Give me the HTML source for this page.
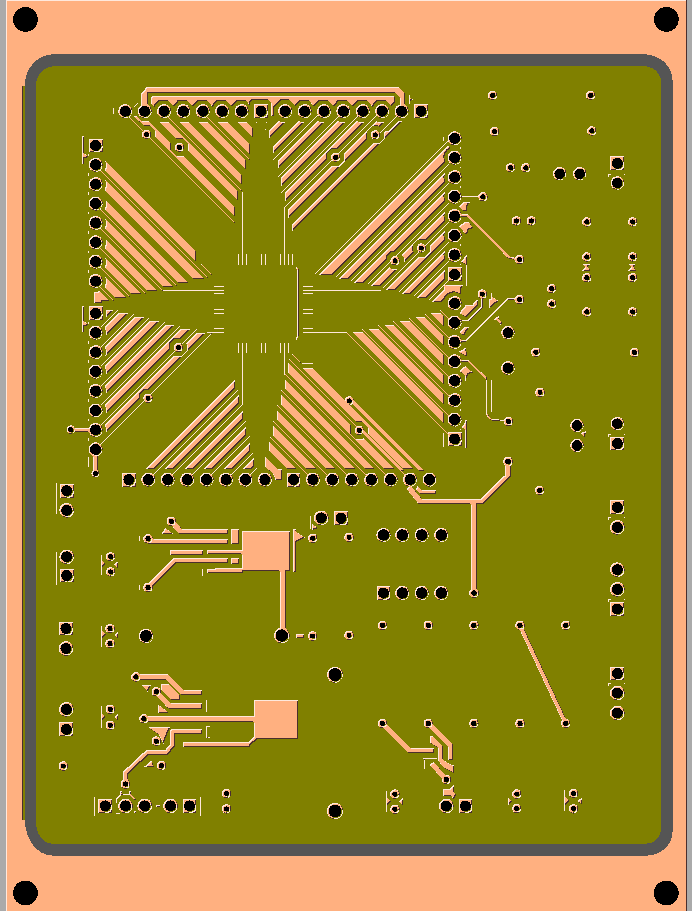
<!DOCTYPE html><html><head><meta charset="utf-8"><style>html,body{margin:0;padding:0;background:#FFB080;font-family:"Liberation Sans",sans-serif}svg{display:block}</style></head><body><svg width="692" height="911" viewBox="0 0 692 911" shape-rendering="crispEdges">
<defs><filter id="emb" x="0" y="0" width="692" height="911" filterUnits="userSpaceOnUse" color-interpolation-filters="sRGB">
<feOffset in="SourceAlpha" dx="1" dy="1" result="o1"/>
<feOffset in="SourceAlpha" dx="-1" dy="-1" result="o2"/>
<feComposite in="SourceAlpha" in2="o1" operator="in" result="ntl"/>
<feComposite in="ntl" in2="o2" operator="in" result="inn"/>
<feFlood flood-color="#FFE8DC" result="f1"/><feComposite in="f1" in2="SourceAlpha" operator="in" result="L"/>
<feFlood flood-color="#4A2E2E" result="f2"/><feComposite in="f2" in2="ntl" operator="in" result="D"/>
<feFlood flood-color="#FFB080" result="f3"/><feComposite in="f3" in2="inn" operator="in" result="S"/>
<feMerge><feMergeNode in="L"/><feMergeNode in="D"/><feMergeNode in="S"/></feMerge>
</filter></defs>
<rect width="692" height="911" fill="#FFB080"/>
<rect x="6" y="0" width="686" height="1" fill="#FFE8DC"/>
<rect x="0" y="0" width="6" height="911" fill="#AAAAAA"/>
<rect x="6" y="0" width="1" height="911" fill="#FFE8DC"/>
<rect x="686" y="0" width="1" height="911" fill="#4A2E2E"/>
<rect x="687" y="0" width="5" height="911" fill="#AAAAAA"/>
<rect x="22" y="85.5" width="1" height="734" fill="#4A2E2E"/>
<rect x="22.8" y="85.5" width="2.4" height="734" fill="#808000"/>
<path d="M53.6,54.2 H643.6 A29,26.3 0 0 1 672.6,80.5 V831.4 A26,24.2 0 0 1 646.6,855.6 H52.6 A27.8,36.4 0 0 1 24.8,819.2 V85.5 A28.8,31.3 0 0 1 53.6,54.2 Z" fill="#555555"/>
<path d="M55.6,66.1 H643.2 A17.7,15.4 0 0 1 660.9,81.5 V829.3 A15.6,14.4 0 0 1 645.3,843.7 H52.6 A16.4,20.4 0 0 1 36.2,823.3 V84.5 A19.4,18.4 0 0 1 55.6,66.1 Z" fill="#808000"/>
<g filter="url(#emb)"><path fill-rule="evenodd" fill="#FFB080" d="M105.30,170.99 196.20,261.89 196.20,251.69 105.30,160.79 105.30,161.08 105.65,162.10 105.91,163.43 106.00,164.79 105.91,166.15 105.65,167.48 105.30,168.50ZM105.30,187.89 105.30,190.38 193.92,279.00 204.12,279.00 105.30,180.18 105.30,180.47 105.65,181.49 105.91,182.82 106.00,184.18 105.91,185.54 105.65,186.87ZM105.65,206.26 105.30,207.28 105.30,209.77 178.53,283.00 188.73,283.00 105.30,199.57 105.30,199.86 105.65,200.88 105.91,202.21 106.00,203.57 105.91,204.93ZM105.91,224.32 105.65,225.65 105.30,226.67 105.30,229.16 163.14,287.00 173.34,287.00 105.30,218.96 105.30,219.25 105.65,220.27 105.91,221.60 106.00,222.96ZM106.00,242.35 105.91,243.71 105.65,245.04 105.30,246.06 105.30,248.55 147.75,291.00 157.95,291.00 105.30,238.35 105.30,238.64 105.65,239.66 105.91,240.99ZM105.91,260.38 106.00,261.74 105.91,263.10 105.65,264.43 105.30,265.45 105.30,267.94 131.76,294.40 141.96,294.40 105.30,257.74 105.30,258.03 105.65,259.05ZM105.65,278.44 105.91,279.77 106.00,281.13 105.91,282.49 105.65,283.82 105.30,284.84 105.30,287.33 115.77,297.80 125.97,297.80 105.30,277.13 105.30,277.42ZM88.84,224.77 89.13,225.64 89.54,226.46 90.05,227.22 90.65,227.91 91.34,228.51 92.10,229.02 92.92,229.43 93.79,229.72 94.69,229.90 95.60,229.96 96.51,229.90 97.41,229.72 98.28,229.43 99.10,229.02 99.86,228.51 100.00,228.39 100.00,228.86 161.54,290.40 162.10,290.40 162.10,291.00 224.00,291.00 224.00,290.00 223.70,290.00 223.70,289.59 214.00,289.59 214.00,290.00 162.14,290.00 100.28,228.14 100.55,227.91 101.15,227.22 101.66,226.46 102.07,225.64 102.36,224.77 102.54,223.87 102.60,222.96 102.54,222.05 102.36,221.15 102.07,220.28 101.66,219.46 101.15,218.70 100.55,218.01 99.86,217.41 99.10,216.90 98.28,216.49 97.41,216.20 96.51,216.02 95.60,215.96 94.69,216.02 93.79,216.20 92.92,216.49 92.10,216.90 91.34,217.41 90.65,218.01 90.05,218.70 89.54,219.46 89.13,220.28 88.84,221.15 88.66,222.05 88.60,222.96 88.66,223.87ZM92.27,226.93 91.90,226.36 91.60,225.75 91.38,225.11 91.24,224.44 91.20,223.76 91.24,223.08 91.38,222.41 91.60,221.77 91.90,221.16 92.27,220.59 92.72,220.08 93.23,219.63 93.80,219.26 94.41,218.96 95.05,218.74 95.72,218.60 96.40,218.56 97.08,218.60 97.75,218.74 98.39,218.96 99.00,219.26 99.57,219.63 100.08,220.08 100.53,220.59 100.90,221.16 101.20,221.77 101.42,222.41 101.56,223.08 101.60,223.76 101.56,224.44 101.42,225.11 101.20,225.75 100.90,226.36 100.53,226.93 100.08,227.44 99.57,227.89 99.00,228.26 98.39,228.56 97.75,228.78 97.08,228.92 96.40,228.96 95.72,228.92 95.05,228.78 94.41,228.56 93.80,228.26 93.23,227.89 92.72,227.44ZM94.10,302.80 101.60,302.80 101.60,300.80 109.70,300.80 99.90,291.00 94.10,292.40ZM155.00,130.78 155.00,136.70 234.50,216.20 234.50,207.00 183.11,155.61 182.92,155.80 175.88,155.80 170.90,150.82 170.90,143.78 171.09,143.59 148.70,121.20 141.80,121.20 136.90,116.30 133.90,116.30 139.60,122.00 140.30,122.00 144.10,125.80 150.02,125.80ZM176.49,138.80 182.92,138.80 187.90,143.78 187.90,150.21 238.40,200.71 238.40,191.51 168.66,121.77 168.18,122.30 159.99,122.30ZM159.87,122.18 158.98,121.20 158.89,121.20ZM242.40,176.12 188.05,121.77 187.57,122.30 179.38,122.30 242.40,185.32ZM178.28,121.20 179.26,122.18 178.37,121.20ZM246.40,169.93 246.40,160.73 207.44,121.77 206.96,122.30 198.77,122.30ZM197.76,121.20 197.67,121.20 198.65,122.18ZM218.16,122.30 249.60,153.74 249.60,144.54 226.83,121.77 226.35,122.30ZM218.04,122.18 217.15,121.20 217.06,121.20ZM245.74,122.30 237.55,122.30 253.40,138.15 253.40,128.95 246.22,121.77ZM236.45,121.20 237.43,122.18 236.54,121.20ZM170.55,113.88 170.84,113.01 171.02,112.11 171.08,111.20 171.02,110.29 170.84,109.39 170.55,108.52 170.14,107.70 169.63,106.94 169.03,106.25 168.34,105.65 167.58,105.14 166.76,104.73 165.89,104.44 164.99,104.26 164.08,104.20 163.17,104.26 162.27,104.44 161.40,104.73 160.58,105.14 159.82,105.65 159.13,106.25 158.53,106.94 158.02,107.70 157.61,108.52 157.32,109.39 157.14,110.29 157.08,111.20 157.14,112.11 157.32,113.01 157.61,113.88 158.02,114.70 158.53,115.46 159.13,116.15 159.82,116.75 160.58,117.26 161.40,117.67 162.27,117.96 163.17,118.14 164.08,118.20 164.99,118.14 165.89,117.96 166.76,117.67 167.58,117.26 167.80,117.12 242.18,191.50 242.00,191.50 242.00,254.00 241.83,254.00 241.83,265.00 242.00,265.00 242.83,265.00 243.00,265.00 243.00,191.50 242.40,191.50 242.40,190.72 168.39,116.71 169.03,116.15 169.63,115.46 170.14,114.70ZM164.88,106.80 165.56,106.84 166.23,106.98 166.87,107.20 167.48,107.50 168.05,107.87 168.56,108.32 169.01,108.83 169.38,109.40 169.68,110.01 169.90,110.65 170.04,111.32 170.08,112.00 170.04,112.68 169.90,113.35 169.68,113.99 169.38,114.60 169.01,115.17 168.56,115.68 168.05,116.13 167.48,116.50 166.87,116.80 166.23,117.02 165.56,117.16 164.88,117.20 164.20,117.16 163.53,117.02 162.89,116.80 162.28,116.50 161.71,116.13 161.20,115.68 160.75,115.17 160.38,114.60 160.08,113.99 159.86,113.35 159.72,112.68 159.68,112.00 159.72,111.32 159.86,110.65 160.08,110.01 160.38,109.40 160.75,108.83 161.20,108.32 161.71,107.87 162.28,107.50 162.89,107.20 163.53,106.98 164.20,106.84ZM153.61,106.05 154.18,107.21 154.18,106.89 159.98,100.50 168.18,100.50 173.77,106.66 179.37,100.50 187.57,100.50 193.16,106.66 198.76,100.50 206.96,100.50 212.56,106.66 218.15,100.50 226.35,100.50 231.94,106.66 237.54,100.50 245.74,100.50 250.40,105.63 250.40,102.60 252.20,100.10 268.80,100.10 271.00,103.00 271.00,115.50 274.40,115.50 274.40,106.74 280.73,100.30 289.67,100.30 295.39,106.12 300.50,100.50 308.70,100.50 314.30,106.66 319.90,100.50 328.10,100.50 333.70,106.66 339.30,100.50 347.50,100.50 353.10,106.66 358.70,100.50 366.90,100.50 372.50,106.66 378.10,100.50 386.30,100.50 391.90,106.66 391.90,106.30 394.50,102.80 394.50,97.00 393.60,96.20 152.80,96.20 151.30,97.50 151.30,103.33 151.97,103.92 152.86,104.93ZM154.03,115.50 154.18,115.50 154.18,115.19ZM139.74,116.15 140.43,116.75 141.19,117.26 142.01,117.67 142.88,117.96 143.78,118.14 144.69,118.20 145.60,118.14 146.50,117.96 147.37,117.67 148.19,117.26 148.95,116.75 149.64,116.15 150.24,115.46 150.75,114.70 151.16,113.88 151.45,113.01 151.63,112.11 151.69,111.20 151.63,110.29 151.45,109.39 151.16,108.52 150.75,107.70 150.24,106.94 149.64,106.25 148.95,105.65 148.19,105.14 147.37,104.73 146.68,104.50 147.50,104.50 147.50,101.30 147.60,101.33 147.60,94.40 149.10,92.50 395.00,92.50 400.20,97.60 400.20,104.36 399.79,104.44 398.92,104.73 398.10,105.14 397.34,105.65 396.65,106.25 396.05,106.94 395.54,107.70 395.13,108.52 394.84,109.39 394.66,110.29 394.60,111.20 394.66,112.11 394.84,113.01 395.13,113.88 395.54,114.70 396.05,115.46 396.65,116.15 396.76,116.24 379.63,133.37 379.55,133.14 379.28,132.60 378.95,132.10 378.55,131.65 378.10,131.25 377.60,130.92 377.06,130.65 376.49,130.46 375.90,130.34 375.30,130.30 374.70,130.34 374.11,130.46 373.54,130.65 373.00,130.92 372.50,131.25 372.05,131.65 371.65,132.10 371.32,132.60 371.05,133.14 370.86,133.71 370.74,134.30 370.70,134.90 370.74,135.50 370.86,136.09 371.05,136.66 371.32,137.20 371.65,137.70 372.05,138.15 372.50,138.55 373.00,138.88 373.54,139.15 374.11,139.34 374.70,139.46 375.30,139.50 375.90,139.46 376.49,139.34 377.06,139.15 377.60,138.88 378.10,138.55 378.55,138.15 378.95,137.70 379.28,137.20 379.55,136.66 379.74,136.09 379.86,135.50 379.90,134.90 379.86,134.30 379.83,134.17 397.29,116.71 397.34,116.75 398.10,117.26 398.92,117.67 399.79,117.96 400.69,118.14 401.60,118.20 402.51,118.14 403.41,117.96 404.28,117.67 405.10,117.26 405.86,116.75 406.55,116.15 407.15,115.46 407.66,114.70 408.07,113.88 408.36,113.01 408.54,112.11 408.60,111.20 408.54,110.29 408.36,109.39 408.07,108.52 407.66,107.70 407.15,106.94 406.55,106.25 405.86,105.65 405.10,105.14 404.28,104.73 403.59,104.50 404.50,104.50 404.50,92.80 398.90,87.10 146.70,87.10 141.10,93.60 141.10,104.50 142.70,104.50 142.01,104.73 141.19,105.14 140.43,105.65 139.74,106.25 139.14,106.94 138.63,107.70 138.22,108.52 137.93,109.39 137.75,110.29 137.69,111.20 137.75,112.11 137.93,113.01 138.22,113.88 138.63,114.70 139.14,115.46ZM378.13,134.86 378.23,135.13 378.28,135.41 378.30,135.70 378.28,135.99 378.23,136.27 378.13,136.54 378.01,136.80 377.85,137.04 377.66,137.26 377.44,137.45 377.20,137.61 376.94,137.73 376.67,137.83 376.39,137.88 376.10,137.90 375.81,137.88 375.53,137.83 375.26,137.73 375.00,137.61 374.76,137.45 374.54,137.26 374.35,137.04 374.19,136.80 374.07,136.54 373.97,136.27 373.92,135.99 373.90,135.70 373.92,135.41 373.97,135.13 374.07,134.86 374.19,134.60 374.35,134.36 374.54,134.14 374.76,133.95 375.00,133.79 375.26,133.67 375.53,133.57 375.81,133.52 376.10,133.50 376.39,133.52 376.67,133.57 376.94,133.67 377.20,133.79 377.44,133.95 377.66,134.14 377.85,134.36 378.01,134.60ZM146.17,106.84 146.84,106.98 147.48,107.20 148.09,107.50 148.66,107.87 149.17,108.32 149.62,108.83 149.99,109.40 150.29,110.01 150.51,110.65 150.65,111.32 150.69,112.00 150.65,112.68 150.51,113.35 150.29,113.99 149.99,114.60 149.62,115.17 149.17,115.68 148.66,116.13 148.09,116.50 147.48,116.80 146.84,117.02 146.17,117.16 145.49,117.20 144.81,117.16 144.14,117.02 143.50,116.80 142.89,116.50 142.32,116.13 141.81,115.68 141.36,115.17 140.99,114.60 140.69,113.99 140.47,113.35 140.33,112.68 140.29,112.00 140.33,111.32 140.47,110.65 140.69,110.01 140.99,109.40 141.36,108.83 141.81,108.32 142.32,107.87 142.89,107.50 143.50,107.20 144.14,106.98 144.81,106.84 145.49,106.80ZM397.24,111.32 397.38,110.65 397.60,110.01 397.90,109.40 398.27,108.83 398.72,108.32 399.23,107.87 399.80,107.50 400.41,107.20 401.05,106.98 401.72,106.84 402.40,106.80 403.08,106.84 403.75,106.98 404.39,107.20 405.00,107.50 405.57,107.87 406.08,108.32 406.53,108.83 406.90,109.40 407.20,110.01 407.42,110.65 407.56,111.32 407.60,112.00 407.56,112.68 407.42,113.35 407.20,113.99 406.90,114.60 406.53,115.17 406.08,115.68 405.57,116.13 405.00,116.50 404.39,116.80 403.75,117.02 403.08,117.16 402.40,117.20 401.72,117.16 401.05,117.02 400.41,116.80 399.80,116.50 399.23,116.13 398.72,115.68 398.27,115.17 397.90,114.60 397.60,113.99 397.38,113.35 397.24,112.68 397.20,112.00ZM269.44,138.16 285.30,122.30 280.73,122.30 279.65,121.20 278.70,121.20 269.44,130.46ZM299.50,121.20 298.10,121.20 273.47,145.83 273.47,153.53 304.70,122.30 300.50,122.30ZM319.90,122.30 318.90,121.20 317.50,121.20 277.50,161.20 277.50,168.90 324.10,122.30ZM345.10,122.30 339.30,122.30 338.30,121.20 337.20,121.20 281.23,177.17 281.23,186.17ZM327.10,153.68 332.08,148.70 338.10,148.70 364.50,122.30 358.70,122.30 357.70,121.20 356.60,121.20 284.86,192.94 284.86,201.94 327.10,159.70ZM343.81,153.39 344.10,153.68 344.10,160.72 339.12,165.70 332.08,165.70 331.79,165.41 288.49,208.71 288.49,217.71 367.29,138.91 366.80,138.42 366.80,131.38 371.78,126.40 378.82,126.40 379.31,126.89 383.90,122.30 378.10,122.30 377.10,121.20 376.00,121.20ZM385.30,131.00 383.80,132.50 383.80,138.42 378.82,143.40 372.90,143.40 292.42,223.88 292.42,231.58 402.80,121.20 398.40,121.20 388.60,131.00ZM318.83,274.97 333.03,274.97 445.57,162.43 445.18,161.64 444.75,160.38 444.49,159.07 444.40,157.74 444.49,156.41 444.75,155.10 445.18,153.84 445.77,152.64 446.51,151.53 447.39,150.53 448.39,149.65 449.50,148.91 449.60,148.86 449.60,147.18 449.50,147.13 448.39,146.39 447.87,145.93ZM444.60,175.28 444.60,172.94 338.64,278.90 348.24,278.90 444.60,182.54 444.60,179.08 444.49,178.51 444.40,177.18 444.49,175.85ZM444.60,194.72 444.60,192.38 354.15,282.83 363.75,282.83 386.50,260.08 386.50,257.18 391.48,252.20 394.38,252.20 444.60,201.98 444.60,198.52 444.49,197.95 444.40,196.62 444.49,195.29ZM401.37,255.05 403.50,257.18 403.50,262.52 413.70,252.32 412.90,251.52 412.90,244.48 417.88,239.50 424.92,239.50 425.72,240.30 444.60,221.42 444.60,217.96 444.49,217.39 444.40,216.06 444.49,214.73 444.60,214.16 444.60,211.82ZM396.82,269.20 391.48,269.20 389.35,267.07 369.96,286.46 379.56,286.46ZM444.40,235.50 444.49,234.17 444.60,233.60 444.60,231.26 429.90,245.96 429.90,251.52 424.92,256.50 419.36,256.50 385.37,290.49 394.97,290.49 444.60,240.86 444.60,237.40 444.49,236.83ZM444.60,256.84 444.49,256.27 444.40,254.94 444.49,253.61 444.60,253.04 444.60,250.70 400.98,294.32 410.58,294.32 444.60,260.30ZM426.29,298.05 444.60,279.74 444.60,270.14 416.69,298.05ZM440.27,313.27 430.67,313.27 444.00,326.60 444.00,317.00ZM424.80,317.20 415.20,317.20 444.00,346.00 444.00,336.40ZM444.00,355.80 409.13,320.93 399.53,320.93 444.00,365.40ZM444.00,384.80 444.00,375.20 393.56,324.76 383.96,324.76ZM368.39,328.59 444.00,404.20 444.00,394.60 377.99,328.59ZM362.42,332.42 352.82,332.42 444.00,423.60 444.00,414.00ZM345.00,332.00 345.00,331.72 313.00,331.72 303.00,331.72 303.00,332.00 302.90,332.00 302.90,333.00 346.30,333.00 447.70,434.40 447.70,445.90 461.50,445.90 461.50,432.10 447.70,432.10 447.70,433.40 347.22,332.92 347.00,332.92 347.00,332.00ZM457.39,435.00 458.00,435.30 458.57,435.67 459.08,436.12 459.53,436.63 459.90,437.20 460.20,437.81 460.42,438.45 460.56,439.12 460.60,439.80 460.56,440.48 460.42,441.15 460.20,441.79 459.90,442.40 459.53,442.97 459.08,443.48 458.57,443.93 458.00,444.30 457.39,444.60 456.75,444.82 456.08,444.96 455.40,445.00 454.72,444.96 454.05,444.82 453.41,444.60 452.80,444.30 452.23,443.93 451.72,443.48 451.27,442.97 450.90,442.40 450.60,441.79 450.38,441.15 450.24,440.48 450.20,439.80 450.24,439.12 450.38,438.45 450.60,437.81 450.90,437.20 451.27,436.63 451.72,436.12 452.23,435.67 452.80,435.30 453.41,435.00 454.05,434.78 454.72,434.64 455.40,434.60 456.08,434.64 456.75,434.78ZM105.30,326.64 105.30,329.03 105.65,330.05 105.91,331.38 106.00,332.74 105.91,334.10 105.65,335.43 105.36,336.28 128.37,313.27 118.67,313.27ZM134.28,317.10 105.30,346.08 105.30,348.47 105.65,349.49 105.91,350.82 106.00,352.18 105.91,353.54 105.65,354.87 105.36,355.72 143.98,317.10ZM159.39,321.13 149.69,321.13 105.30,365.52 105.30,367.91 105.65,368.93 105.91,370.26 106.00,371.62 105.91,372.98 105.65,374.31 105.36,375.16ZM105.36,394.60 174.80,325.16 165.10,325.16 105.30,384.96 105.30,387.35 105.65,388.37 105.91,389.70 106.00,391.06 105.91,392.42 105.65,393.75ZM105.30,404.40 105.30,406.79 105.65,407.81 105.91,409.14 106.00,410.50 105.91,411.86 105.65,413.19 105.36,414.04 169.80,349.60 169.80,343.98 174.78,339.00 180.40,339.00 190.71,328.69 181.01,328.69ZM186.80,343.98 186.80,351.02 181.82,356.00 174.78,356.00 173.96,355.18 105.30,423.84 105.30,426.23 105.65,427.25 105.91,428.58 106.00,429.94 105.91,431.30 105.65,432.63 105.36,433.48 139.50,399.34 139.50,394.78 144.48,389.80 149.04,389.80 206.12,332.72 196.42,332.72 185.98,343.16ZM106.40,309.50 106.40,316.70 114.00,309.50ZM234.57,379.96 145.53,469.00 154.33,469.00 234.57,388.76ZM238.70,404.06 238.70,395.26 164.96,469.00 173.76,469.00ZM193.19,469.00 242.53,419.66 242.53,410.86 184.39,469.00ZM203.82,469.00 212.62,469.00 246.26,435.36 246.26,426.56ZM249.59,442.66 223.25,469.00 232.05,469.00 249.59,451.46ZM253.52,466.96 253.52,458.16 242.68,469.00 251.48,469.00ZM163.50,485.15 164.26,485.66 165.08,486.07 165.95,486.36 166.85,486.54 167.76,486.60 168.67,486.54 169.57,486.36 170.44,486.07 171.26,485.66 172.02,485.15 172.71,484.55 173.31,483.86 173.82,483.10 174.23,482.28 174.52,481.41 174.70,480.51 174.76,479.60 174.70,478.69 174.52,477.79 174.23,476.92 173.82,476.10 173.31,475.34 172.94,474.92 242.50,405.36 242.50,405.00 243.00,405.00 243.00,343.00 242.83,343.00 242.00,343.00 241.83,343.00 241.83,352.50 242.00,352.50 242.00,404.86 172.44,474.42 172.02,474.05 171.26,473.54 170.44,473.13 169.57,472.84 168.67,472.66 167.76,472.60 166.85,472.66 165.95,472.84 165.08,473.13 164.26,473.54 163.50,474.05 162.81,474.65 162.21,475.34 161.70,476.10 161.29,476.92 161.00,477.79 160.82,478.69 160.76,479.60 160.82,480.51 161.00,481.41 161.29,482.28 161.70,483.10 162.21,483.86 162.81,484.55ZM169.24,475.24 169.91,475.38 170.55,475.60 171.16,475.90 171.73,476.27 172.24,476.72 172.69,477.23 173.06,477.80 173.36,478.41 173.58,479.05 173.72,479.72 173.76,480.40 173.72,481.08 173.58,481.75 173.36,482.39 173.06,483.00 172.69,483.57 172.24,484.08 171.73,484.53 171.16,484.90 170.55,485.20 169.91,485.42 169.24,485.56 168.56,485.60 167.88,485.56 167.21,485.42 166.57,485.20 165.96,484.90 165.39,484.53 164.88,484.08 164.43,483.57 164.06,483.00 163.76,482.39 163.54,481.75 163.40,481.08 163.36,480.40 163.40,479.72 163.54,479.05 163.76,478.41 164.06,477.80 164.43,477.23 164.88,476.72 165.39,476.27 165.96,475.90 166.57,475.60 167.21,475.38 167.88,475.24 168.56,475.20ZM269.24,441.34 269.24,450.94 287.30,469.00 296.90,469.00ZM316.33,469.00 273.07,425.74 273.07,435.34 306.73,469.00ZM326.16,469.00 335.76,469.00 276.90,410.14 276.90,419.74ZM280.73,404.14 345.59,469.00 355.19,469.00 280.73,394.54ZM284.56,378.94 284.56,388.54 365.02,469.00 374.62,469.00ZM288.39,372.94 384.45,469.00 394.05,469.00 363.29,438.24 362.72,438.80 355.68,438.80 350.70,433.82 350.70,426.78 351.26,426.21 288.39,363.34ZM345.65,398.10 345.32,398.60 345.05,399.14 344.86,399.71 344.75,400.27 311.98,367.50 302.38,367.50 356.68,421.80 362.72,421.80 367.70,426.78 367.70,432.82 403.88,469.00 413.48,469.00 349.93,405.45 350.49,405.34 351.06,405.15 351.60,404.88 352.10,404.55 352.55,404.15 352.60,404.10 419.50,471.00 424.20,471.00 353.89,400.69 353.86,400.30 353.74,399.71 353.55,399.14 353.28,398.60 352.95,398.10 352.55,397.65 352.10,397.25 351.60,396.92 351.06,396.65 350.49,396.46 349.90,396.34 349.51,396.31 349.00,395.80 349.00,396.32 348.70,396.34 348.11,396.46 347.54,396.65 347.00,396.92 346.50,397.25 346.05,397.65ZM350.94,399.67 351.20,399.79 351.44,399.95 351.66,400.14 351.85,400.36 352.01,400.60 352.13,400.86 352.23,401.13 352.28,401.41 352.30,401.70 352.28,401.99 352.23,402.27 352.13,402.54 352.01,402.80 351.85,403.04 351.66,403.26 351.44,403.45 351.20,403.61 350.94,403.73 350.67,403.83 350.39,403.88 350.10,403.90 349.81,403.88 349.53,403.83 349.26,403.73 349.00,403.61 348.76,403.45 348.54,403.26 348.35,403.04 348.19,402.80 348.07,402.54 347.97,402.27 347.92,401.99 347.90,401.70 347.92,401.41 347.97,401.13 348.07,400.86 348.19,400.60 348.35,400.36 348.54,400.14 348.76,399.95 349.00,399.79 349.26,399.67 349.53,399.57 349.81,399.52 350.10,399.50 350.39,399.52 350.67,399.57ZM385.10,483.86 385.70,484.55 386.39,485.15 387.15,485.66 387.97,486.07 388.84,486.36 389.74,486.54 390.65,486.60 391.56,486.54 392.46,486.36 393.33,486.07 394.15,485.66 394.91,485.15 395.60,484.55 396.20,483.86 396.71,483.10 397.12,482.28 397.41,481.41 397.59,480.51 397.65,479.60 397.59,478.69 397.41,477.79 397.12,476.92 396.71,476.10 396.20,475.34 395.60,474.65 394.91,474.05 394.15,473.54 393.33,473.13 392.46,472.84 391.56,472.66 390.65,472.60 389.74,472.66 388.84,472.84 387.97,473.13 387.15,473.54 386.39,474.05 385.70,474.65 285.00,373.95 285.00,343.00 284.96,343.00 284.00,343.00 283.96,343.00 283.96,352.50 284.00,352.50 284.00,374.70 284.86,374.70 284.86,374.81 385.23,475.18 385.10,475.34 384.59,476.10 384.18,476.92 383.89,477.79 383.71,478.69 383.65,479.60 383.71,480.51 383.89,481.41 384.18,482.28 384.59,483.10ZM386.65,478.41 386.95,477.80 387.32,477.23 387.77,476.72 388.28,476.27 388.85,475.90 389.46,475.60 390.10,475.38 390.77,475.24 391.45,475.20 392.13,475.24 392.80,475.38 393.44,475.60 394.05,475.90 394.62,476.27 395.13,476.72 395.58,477.23 395.95,477.80 396.25,478.41 396.47,479.05 396.61,479.72 396.65,480.40 396.61,481.08 396.47,481.75 396.25,482.39 395.95,483.00 395.58,483.57 395.13,484.08 394.62,484.53 394.05,484.90 393.44,485.20 392.80,485.42 392.13,485.56 391.45,485.60 390.77,485.56 390.10,485.42 389.46,485.20 388.85,484.90 388.28,484.53 387.77,484.08 387.32,483.57 386.95,483.00 386.65,482.39 386.43,481.75 386.29,481.08 386.25,480.40 386.29,479.72 386.43,479.05ZM282.20,480.00 282.20,474.00 282.20,469.00 277.20,469.00 265.00,456.80 265.00,466.50 268.98,470.48 269.91,470.94 271.00,471.67 271.98,472.53 272.84,473.51 273.57,474.60 274.15,475.77 274.57,477.01 274.82,478.29 274.91,479.60 274.88,480.00 278.50,480.00ZM302.00,364.00 313.00,364.00 313.00,363.00 302.00,363.00ZM257.40,122.00 256.40,122.00 256.40,123.00 257.40,123.00ZM266.50,123.00 266.50,122.00 265.50,122.00 265.50,123.00ZM265.10,129.80 266.10,129.80 266.10,128.80 265.10,128.80ZM410.20,101.50 412.50,99.50 410.20,97.50 410.20,95.00 409.30,95.00 409.30,104.10 410.20,104.10ZM90.65,169.74 91.34,170.34 92.10,170.85 92.92,171.26 93.79,171.55 94.69,171.73 95.60,171.79 96.51,171.73 97.41,171.55 98.28,171.26 99.10,170.85 99.86,170.34 100.00,170.22 100.00,170.69 207.71,278.40 208.60,278.40 208.60,278.29 100.28,169.97 100.55,169.74 101.15,169.05 101.66,168.29 102.07,167.47 102.36,166.60 102.54,165.70 102.60,164.79 102.54,163.88 102.36,162.98 102.07,162.11 101.66,161.29 101.15,160.53 100.55,159.84 99.86,159.24 99.10,158.73 98.28,158.32 97.41,158.03 96.51,157.85 95.60,157.79 94.69,157.85 93.79,158.03 92.92,158.32 92.10,158.73 91.34,159.24 90.65,159.84 90.05,160.53 89.54,161.29 89.13,162.11 88.84,162.98 88.66,163.88 88.60,164.79 88.66,165.70 88.84,166.60 89.13,167.47 89.54,168.29 90.05,169.05ZM91.38,166.94 91.24,166.27 91.20,165.59 91.24,164.91 91.38,164.24 91.60,163.60 91.90,162.99 92.27,162.42 92.72,161.91 93.23,161.46 93.80,161.09 94.41,160.79 95.05,160.57 95.72,160.43 96.40,160.39 97.08,160.43 97.75,160.57 98.39,160.79 99.00,161.09 99.57,161.46 100.08,161.91 100.53,162.42 100.90,162.99 101.20,163.60 101.42,164.24 101.56,164.91 101.60,165.59 101.56,166.27 101.42,166.94 101.20,167.58 100.90,168.19 100.53,168.76 100.08,169.27 99.57,169.72 99.00,170.09 98.39,170.39 97.75,170.61 97.08,170.75 96.40,170.79 95.72,170.75 95.05,170.61 94.41,170.39 93.80,170.09 93.23,169.72 92.72,169.27 92.27,168.76 91.90,168.19 91.60,167.58ZM96.51,210.51 97.41,210.33 98.28,210.04 99.10,209.63 99.86,209.12 100.00,209.00 100.00,209.47 176.93,286.40 177.93,286.40 100.28,208.75 100.55,208.52 101.15,207.83 101.66,207.07 102.07,206.25 102.36,205.38 102.54,204.48 102.60,203.57 102.54,202.66 102.36,201.76 102.07,200.89 101.66,200.07 101.15,199.31 100.55,198.62 99.86,198.02 99.10,197.51 98.28,197.10 97.41,196.81 96.51,196.63 95.60,196.57 94.69,196.63 93.79,196.81 92.92,197.10 92.10,197.51 91.34,198.02 90.65,198.62 90.05,199.31 89.54,200.07 89.13,200.89 88.84,201.76 88.66,202.66 88.60,203.57 88.66,204.48 88.84,205.38 89.13,206.25 89.54,207.07 90.05,207.83 90.65,208.52 91.34,209.12 92.10,209.63 92.92,210.04 93.79,210.33 94.69,210.51 95.60,210.57ZM91.90,206.97 91.60,206.36 91.38,205.72 91.24,205.05 91.20,204.37 91.24,203.69 91.38,203.02 91.60,202.38 91.90,201.77 92.27,201.20 92.72,200.69 93.23,200.24 93.80,199.87 94.41,199.57 95.05,199.35 95.72,199.21 96.40,199.17 97.08,199.21 97.75,199.35 98.39,199.57 99.00,199.87 99.57,200.24 100.08,200.69 100.53,201.20 100.90,201.77 101.20,202.38 101.42,203.02 101.56,203.69 101.60,204.37 101.56,205.05 101.42,205.72 101.20,206.36 100.90,206.97 100.53,207.54 100.08,208.05 99.57,208.50 99.00,208.87 98.39,209.17 97.75,209.39 97.08,209.53 96.40,209.57 95.72,209.53 95.05,209.39 94.41,209.17 93.80,208.87 93.23,208.50 92.72,208.05 92.27,207.54ZM94.69,249.29 95.60,249.35 96.51,249.29 97.41,249.11 98.28,248.82 99.10,248.41 99.86,247.90 100.00,247.78 100.00,248.25 145.55,293.80 146.55,293.80 100.28,247.53 100.55,247.30 101.15,246.61 101.66,245.85 102.07,245.03 102.36,244.16 102.54,243.26 102.60,242.35 102.54,241.44 102.36,240.54 102.07,239.67 101.66,238.85 101.15,238.09 100.55,237.40 99.86,236.80 99.10,236.29 98.28,235.88 97.41,235.59 96.51,235.41 95.60,235.35 94.69,235.41 93.79,235.59 92.92,235.88 92.10,236.29 91.34,236.80 90.65,237.40 90.05,238.09 89.54,238.85 89.13,239.67 88.84,240.54 88.66,241.44 88.60,242.35 88.66,243.26 88.84,244.16 89.13,245.03 89.54,245.85 90.05,246.61 90.65,247.30 91.34,247.90 92.10,248.41 92.92,248.82 93.79,249.11ZM92.72,246.83 92.27,246.32 91.90,245.75 91.60,245.14 91.38,244.50 91.24,243.83 91.20,243.15 91.24,242.47 91.38,241.80 91.60,241.16 91.90,240.55 92.27,239.98 92.72,239.47 93.23,239.02 93.80,238.65 94.41,238.35 95.05,238.13 95.72,237.99 96.40,237.95 97.08,237.99 97.75,238.13 98.39,238.35 99.00,238.65 99.57,239.02 100.08,239.47 100.53,239.98 100.90,240.55 101.20,241.16 101.42,241.80 101.56,242.47 101.60,243.15 101.56,243.83 101.42,244.50 101.20,245.14 100.90,245.75 100.53,246.32 100.08,246.83 99.57,247.28 99.00,247.65 98.39,247.95 97.75,248.17 97.08,248.31 96.40,248.35 95.72,248.31 95.05,248.17 94.41,247.95 93.80,247.65 93.23,247.28ZM93.79,268.50 94.69,268.68 95.60,268.74 96.51,268.68 97.41,268.50 98.28,268.21 99.10,267.80 99.86,267.29 100.00,267.17 100.00,267.64 129.56,297.20 130.56,297.20 100.28,266.92 100.55,266.69 101.15,266.00 101.66,265.24 102.07,264.42 102.36,263.55 102.54,262.65 102.60,261.74 102.54,260.83 102.36,259.93 102.07,259.06 101.66,258.24 101.15,257.48 100.55,256.79 99.86,256.19 99.10,255.68 98.28,255.27 97.41,254.98 96.51,254.80 95.60,254.74 94.69,254.80 93.79,254.98 92.92,255.27 92.10,255.68 91.34,256.19 90.65,256.79 90.05,257.48 89.54,258.24 89.13,259.06 88.84,259.93 88.66,260.83 88.60,261.74 88.66,262.65 88.84,263.55 89.13,264.42 89.54,265.24 90.05,266.00 90.65,266.69 91.34,267.29 92.10,267.80 92.92,268.21ZM93.23,266.67 92.72,266.22 92.27,265.71 91.90,265.14 91.60,264.53 91.38,263.89 91.24,263.22 91.20,262.54 91.24,261.86 91.38,261.19 91.60,260.55 91.90,259.94 92.27,259.37 92.72,258.86 93.23,258.41 93.80,258.04 94.41,257.74 95.05,257.52 95.72,257.38 96.40,257.34 97.08,257.38 97.75,257.52 98.39,257.74 99.00,258.04 99.57,258.41 100.08,258.86 100.53,259.37 100.90,259.94 101.20,260.55 101.42,261.19 101.56,261.86 101.60,262.54 101.56,263.22 101.42,263.89 101.20,264.53 100.90,265.14 100.53,265.71 100.08,266.22 99.57,266.67 99.00,267.04 98.39,267.34 97.75,267.56 97.08,267.70 96.40,267.74 95.72,267.70 95.05,267.56 94.41,267.34 93.80,267.04ZM92.92,287.60 93.79,287.89 94.69,288.07 95.60,288.13 96.51,288.07 97.41,287.89 98.28,287.60 99.10,287.19 99.86,286.68 100.00,286.56 100.00,287.03 113.97,301.00 114.97,301.00 100.28,286.31 100.55,286.08 101.15,285.39 101.66,284.63 102.07,283.81 102.36,282.94 102.54,282.04 102.60,281.13 102.54,280.22 102.36,279.32 102.07,278.45 101.66,277.63 101.15,276.87 100.55,276.18 99.86,275.58 99.10,275.07 98.28,274.66 97.41,274.37 96.51,274.19 95.60,274.13 94.69,274.19 93.79,274.37 92.92,274.66 92.10,275.07 91.34,275.58 90.65,276.18 90.05,276.87 89.54,277.63 89.13,278.45 88.84,279.32 88.66,280.22 88.60,281.13 88.66,282.04 88.84,282.94 89.13,283.81 89.54,284.63 90.05,285.39 90.65,286.08 91.34,286.68 92.10,287.19ZM93.80,286.43 93.23,286.06 92.72,285.61 92.27,285.10 91.90,284.53 91.60,283.92 91.38,283.28 91.24,282.61 91.20,281.93 91.24,281.25 91.38,280.58 91.60,279.94 91.90,279.33 92.27,278.76 92.72,278.25 93.23,277.80 93.80,277.43 94.41,277.13 95.05,276.91 95.72,276.77 96.40,276.73 97.08,276.77 97.75,276.91 98.39,277.13 99.00,277.43 99.57,277.80 100.08,278.25 100.53,278.76 100.90,279.33 101.20,279.94 101.42,280.58 101.56,281.25 101.60,281.93 101.56,282.61 101.42,283.28 101.20,283.92 100.90,284.53 100.53,285.10 100.08,285.61 99.57,286.06 99.00,286.43 98.39,286.73 97.75,286.95 97.08,287.09 96.40,287.13 95.72,287.09 95.05,286.95 94.41,286.73ZM211.50,273.80 201.40,263.70 201.40,264.70 211.50,274.80ZM127.98,117.67 128.80,117.26 129.02,117.12 143.11,131.21 142.85,131.50 142.52,132.00 142.25,132.54 142.06,133.11 141.94,133.70 141.90,134.30 141.94,134.90 142.06,135.49 142.25,136.06 142.52,136.60 142.85,137.10 143.25,137.55 143.70,137.95 144.20,138.28 144.74,138.55 145.31,138.74 145.90,138.86 146.50,138.90 147.10,138.86 147.69,138.74 148.26,138.55 148.80,138.28 149.30,137.95 149.59,137.69 234.60,222.70 234.60,221.70 150.08,137.18 150.15,137.10 150.48,136.60 150.75,136.06 150.94,135.49 151.06,134.90 151.10,134.30 151.06,133.70 150.94,133.11 150.75,132.54 150.48,132.00 150.15,131.50 149.75,131.05 149.30,130.65 148.80,130.32 148.26,130.05 147.69,129.86 147.10,129.74 146.50,129.70 145.90,129.74 145.31,129.86 144.74,130.05 144.20,130.32 143.70,130.65 143.62,130.72 129.61,116.71 130.25,116.15 130.85,115.46 131.36,114.70 131.77,113.88 132.06,113.01 132.24,112.11 132.30,111.20 132.24,110.29 132.06,109.39 131.77,108.52 131.36,107.70 130.85,106.94 130.25,106.25 129.56,105.65 128.80,105.14 127.98,104.73 127.11,104.44 126.21,104.26 125.30,104.20 124.39,104.26 123.49,104.44 122.62,104.73 121.80,105.14 121.04,105.65 120.35,106.25 119.75,106.94 119.24,107.70 118.83,108.52 118.54,109.39 118.36,110.29 118.30,111.20 118.36,112.11 118.54,113.01 118.83,113.88 119.24,114.70 119.75,115.46 120.35,116.15 121.04,116.75 121.80,117.26 122.62,117.67 123.49,117.96 124.39,118.14 125.30,118.20 126.21,118.14 127.11,117.96ZM149.50,135.10 149.48,135.39 149.43,135.67 149.33,135.94 149.21,136.20 149.05,136.44 148.86,136.66 148.64,136.85 148.40,137.01 148.14,137.13 147.87,137.23 147.59,137.28 147.30,137.30 147.01,137.28 146.73,137.23 146.46,137.13 146.20,137.01 145.96,136.85 145.74,136.66 145.55,136.44 145.39,136.20 145.27,135.94 145.17,135.67 145.12,135.39 145.10,135.10 145.12,134.81 145.17,134.53 145.27,134.26 145.39,134.00 145.55,133.76 145.74,133.54 145.96,133.35 146.20,133.19 146.46,133.07 146.73,132.97 147.01,132.92 147.30,132.90 147.59,132.92 147.87,132.97 148.14,133.07 148.40,133.19 148.64,133.35 148.86,133.54 149.05,133.76 149.21,134.00 149.33,134.26 149.43,134.53 149.48,134.81ZM127.45,106.98 128.09,107.20 128.70,107.50 129.27,107.87 129.78,108.32 130.23,108.83 130.60,109.40 130.90,110.01 131.12,110.65 131.26,111.32 131.30,112.00 131.26,112.68 131.12,113.35 130.90,113.99 130.60,114.60 130.23,115.17 129.78,115.68 129.27,116.13 128.70,116.50 128.09,116.80 127.45,117.02 126.78,117.16 126.10,117.20 125.42,117.16 124.75,117.02 124.11,116.80 123.50,116.50 122.93,116.13 122.42,115.68 121.97,115.17 121.60,114.60 121.30,113.99 121.08,113.35 120.94,112.68 120.90,112.00 120.94,111.32 121.08,110.65 121.30,110.01 121.60,109.40 121.97,108.83 122.42,108.32 122.93,107.87 123.50,107.50 124.11,107.20 124.75,106.98 125.42,106.84 126.10,106.80 126.78,106.84ZM197.91,106.25 197.31,106.94 196.80,107.70 196.39,108.52 196.10,109.39 195.92,110.29 195.86,111.20 195.92,112.11 196.10,113.01 196.39,113.88 196.80,114.70 197.31,115.46 197.91,116.15 198.60,116.75 199.36,117.26 200.18,117.67 201.05,117.96 201.95,118.14 202.86,118.20 203.77,118.14 204.67,117.96 205.54,117.67 206.36,117.26 206.58,117.12 249.60,160.14 249.60,159.14 207.17,116.71 207.81,116.15 208.41,115.46 208.92,114.70 209.33,113.88 209.62,113.01 209.80,112.11 209.86,111.20 209.80,110.29 209.62,109.39 209.33,108.52 208.92,107.70 208.41,106.94 207.81,106.25 207.12,105.65 206.36,105.14 205.54,104.73 204.67,104.44 203.77,104.26 202.86,104.20 201.95,104.26 201.05,104.44 200.18,104.73 199.36,105.14 198.60,105.65ZM202.31,106.98 202.98,106.84 203.66,106.80 204.34,106.84 205.01,106.98 205.65,107.20 206.26,107.50 206.83,107.87 207.34,108.32 207.79,108.83 208.16,109.40 208.46,110.01 208.68,110.65 208.82,111.32 208.86,112.00 208.82,112.68 208.68,113.35 208.46,113.99 208.16,114.60 207.79,115.17 207.34,115.68 206.83,116.13 206.26,116.50 205.65,116.80 205.01,117.02 204.34,117.16 203.66,117.20 202.98,117.16 202.31,117.02 201.67,116.80 201.06,116.50 200.49,116.13 199.98,115.68 199.53,115.17 199.16,114.60 198.86,113.99 198.64,113.35 198.50,112.68 198.46,112.00 198.50,111.32 198.64,110.65 198.86,110.01 199.16,109.40 199.53,108.83 199.98,108.32 200.49,107.87 201.06,107.50 201.67,107.20ZM325.81,117.96 326.68,117.67 327.50,117.26 328.26,116.75 328.95,116.15 329.55,115.46 330.06,114.70 330.47,113.88 330.76,113.01 330.94,112.11 331.00,111.20 330.94,110.29 330.76,109.39 330.47,108.52 330.06,107.70 329.55,106.94 328.95,106.25 328.26,105.65 327.50,105.14 326.68,104.73 325.81,104.44 324.91,104.26 324.00,104.20 323.09,104.26 322.19,104.44 321.32,104.73 320.50,105.14 319.74,105.65 319.05,106.25 318.45,106.94 317.94,107.70 317.53,108.52 317.24,109.39 317.06,110.29 317.00,111.20 317.06,112.11 317.24,113.01 317.53,113.88 317.94,114.70 318.00,114.80 273.47,159.33 273.47,160.33 318.40,115.40 318.45,115.46 319.05,116.15 319.74,116.75 320.50,117.26 321.32,117.67 322.19,117.96 323.09,118.14 324.00,118.20 324.91,118.14ZM320.67,108.83 321.12,108.32 321.63,107.87 322.20,107.50 322.81,107.20 323.45,106.98 324.12,106.84 324.80,106.80 325.48,106.84 326.15,106.98 326.79,107.20 327.40,107.50 327.97,107.87 328.48,108.32 328.93,108.83 329.30,109.40 329.60,110.01 329.82,110.65 329.96,111.32 330.00,112.00 329.96,112.68 329.82,113.35 329.60,113.99 329.30,114.60 328.93,115.17 328.48,115.68 327.97,116.13 327.40,116.50 326.79,116.80 326.15,117.02 325.48,117.16 324.80,117.20 324.12,117.16 323.45,117.02 322.81,116.80 322.20,116.50 321.63,116.13 321.12,115.68 320.67,115.17 320.30,114.60 320.00,113.99 319.78,113.35 319.64,112.68 319.60,112.00 319.64,111.32 319.78,110.65 320.00,110.01 320.30,109.40ZM350.40,111.20 350.34,110.29 350.16,109.39 349.87,108.52 349.46,107.70 348.95,106.94 348.35,106.25 347.66,105.65 346.90,105.14 346.08,104.73 345.21,104.44 344.31,104.26 343.40,104.20 342.49,104.26 341.59,104.44 340.72,104.73 339.90,105.14 339.14,105.65 338.45,106.25 337.85,106.94 337.34,107.70 336.93,108.52 336.64,109.39 336.46,110.29 336.40,111.20 336.46,112.11 336.64,113.01 336.93,113.88 337.34,114.70 337.85,115.46 338.31,115.99 277.50,176.80 277.50,177.80 338.82,116.48 339.14,116.75 339.90,117.26 340.72,117.67 341.59,117.96 342.49,118.14 343.40,118.20 344.31,118.14 345.21,117.96 346.08,117.67 346.90,117.26 347.66,116.75 348.35,116.15 348.95,115.46 349.46,114.70 349.87,113.88 350.16,113.01 350.34,112.11ZM339.70,109.40 340.07,108.83 340.52,108.32 341.03,107.87 341.60,107.50 342.21,107.20 342.85,106.98 343.52,106.84 344.20,106.80 344.88,106.84 345.55,106.98 346.19,107.20 346.80,107.50 347.37,107.87 347.88,108.32 348.33,108.83 348.70,109.40 349.00,110.01 349.22,110.65 349.36,111.32 349.40,112.00 349.36,112.68 349.22,113.35 349.00,113.99 348.70,114.60 348.33,115.17 347.88,115.68 347.37,116.13 346.80,116.50 346.19,116.80 345.55,117.02 344.88,117.16 344.20,117.20 343.52,117.16 342.85,117.02 342.21,116.80 341.60,116.50 341.03,116.13 340.52,115.68 340.07,115.17 339.70,114.60 339.40,113.99 339.18,113.35 339.04,112.68 339.00,112.00 339.04,111.32 339.18,110.65 339.40,110.01ZM369.74,112.11 369.80,111.20 369.74,110.29 369.56,109.39 369.27,108.52 368.86,107.70 368.35,106.94 367.75,106.25 367.06,105.65 366.30,105.14 365.48,104.73 364.61,104.44 363.71,104.26 362.80,104.20 361.89,104.26 360.99,104.44 360.12,104.73 359.30,105.14 358.54,105.65 357.85,106.25 357.25,106.94 356.74,107.70 356.33,108.52 356.04,109.39 355.86,110.29 355.80,111.20 355.86,112.11 356.04,113.01 356.33,113.88 356.74,114.70 357.25,115.46 357.43,115.67 281.23,191.87 281.23,192.87 357.90,116.20 358.54,116.75 359.30,117.26 360.12,117.67 360.99,117.96 361.89,118.14 362.80,118.20 363.71,118.14 364.61,117.96 365.48,117.67 366.30,117.26 367.06,116.75 367.75,116.15 368.35,115.46 368.86,114.70 369.27,113.88 369.56,113.01ZM358.80,110.01 359.10,109.40 359.47,108.83 359.92,108.32 360.43,107.87 361.00,107.50 361.61,107.20 362.25,106.98 362.92,106.84 363.60,106.80 364.28,106.84 364.95,106.98 365.59,107.20 366.20,107.50 366.77,107.87 367.28,108.32 367.73,108.83 368.10,109.40 368.40,110.01 368.62,110.65 368.76,111.32 368.80,112.00 368.76,112.68 368.62,113.35 368.40,113.99 368.10,114.60 367.73,115.17 367.28,115.68 366.77,116.13 366.20,116.50 365.59,116.80 364.95,117.02 364.28,117.16 363.60,117.20 362.92,117.16 362.25,117.02 361.61,116.80 361.00,116.50 360.43,116.13 359.92,115.68 359.47,115.17 359.10,114.60 358.80,113.99 358.58,113.35 358.44,112.68 358.40,112.00 358.44,111.32 358.58,110.65ZM377.25,106.25 376.65,106.94 376.14,107.70 375.73,108.52 375.44,109.39 375.26,110.29 375.20,111.20 375.26,112.11 375.44,113.01 375.73,113.88 376.14,114.70 376.40,115.10 338.13,153.37 337.90,153.22 337.36,152.95 336.79,152.76 336.20,152.64 335.60,152.60 335.00,152.64 334.41,152.76 333.84,152.95 333.30,153.22 332.80,153.55 332.35,153.95 331.95,154.40 331.62,154.90 331.35,155.44 331.16,156.01 331.04,156.60 331.00,157.20 331.04,157.80 331.16,158.39 331.35,158.96 331.62,159.50 331.77,159.73 284.86,206.64 284.86,206.80 284.00,206.80 284.00,254.00 283.96,254.00 283.96,265.00 284.00,265.00 284.96,265.00 285.00,265.00 285.00,207.50 332.21,160.29 332.35,160.45 332.80,160.85 333.30,161.18 333.84,161.45 334.41,161.64 335.00,161.76 335.60,161.80 336.20,161.76 336.79,161.64 337.36,161.45 337.90,161.18 338.40,160.85 338.85,160.45 339.25,160.00 339.58,159.50 339.85,158.96 340.04,158.39 340.16,157.80 340.20,157.20 340.16,156.60 340.04,156.01 339.85,155.44 339.58,154.90 339.25,154.40 338.85,153.95 338.69,153.81 376.83,115.67 377.25,116.15 377.94,116.75 378.70,117.26 379.52,117.67 380.39,117.96 381.29,118.14 382.20,118.20 383.11,118.14 384.01,117.96 384.88,117.67 385.70,117.26 386.46,116.75 387.15,116.15 387.75,115.46 388.26,114.70 388.67,113.88 388.96,113.01 389.14,112.11 389.20,111.20 389.14,110.29 388.96,109.39 388.67,108.52 388.26,107.70 387.75,106.94 387.15,106.25 386.46,105.65 385.70,105.14 384.88,104.73 384.01,104.44 383.11,104.26 382.20,104.20 381.29,104.26 380.39,104.44 379.52,104.73 378.70,105.14 377.94,105.65ZM338.53,157.43 338.58,157.71 338.60,158.00 338.58,158.29 338.53,158.57 338.43,158.84 338.31,159.10 338.15,159.34 337.96,159.56 337.74,159.75 337.50,159.91 337.24,160.03 336.97,160.13 336.69,160.18 336.40,160.20 336.11,160.18 335.83,160.13 335.56,160.03 335.30,159.91 335.06,159.75 334.84,159.56 334.65,159.34 334.49,159.10 334.37,158.84 334.27,158.57 334.22,158.29 334.20,158.00 334.22,157.71 334.27,157.43 334.37,157.16 334.49,156.90 334.65,156.66 334.84,156.44 335.06,156.25 335.30,156.09 335.56,155.97 335.83,155.87 336.11,155.82 336.40,155.80 336.69,155.82 336.97,155.87 337.24,155.97 337.50,156.09 337.74,156.25 337.96,156.44 338.15,156.66 338.31,156.90 338.43,157.16ZM377.98,110.65 378.20,110.01 378.50,109.40 378.87,108.83 379.32,108.32 379.83,107.87 380.40,107.50 381.01,107.20 381.65,106.98 382.32,106.84 383.00,106.80 383.68,106.84 384.35,106.98 384.99,107.20 385.60,107.50 386.17,107.87 386.68,108.32 387.13,108.83 387.50,109.40 387.80,110.01 388.02,110.65 388.16,111.32 388.20,112.00 388.16,112.68 388.02,113.35 387.80,113.99 387.50,114.60 387.13,115.17 386.68,115.68 386.17,116.13 385.60,116.50 384.99,116.80 384.35,117.02 383.68,117.16 383.00,117.20 382.32,117.16 381.65,117.02 381.01,116.80 380.40,116.50 379.83,116.13 379.32,115.68 378.87,115.17 378.50,114.60 378.20,113.99 377.98,113.35 377.84,112.68 377.80,112.00 377.84,111.32ZM456.41,131.54 455.51,131.36 454.60,131.30 453.69,131.36 452.79,131.54 451.92,131.83 451.10,132.24 450.34,132.75 449.65,133.35 449.05,134.04 448.54,134.80 448.13,135.62 447.84,136.49 447.66,137.39 447.60,138.30 447.66,139.21 447.84,140.11 447.95,140.45 313.93,274.47 314.93,274.47 448.00,141.40 448.00,140.59 448.13,140.98 448.54,141.80 449.05,142.56 449.65,143.25 450.34,143.85 451.10,144.36 451.92,144.77 452.79,145.06 453.69,145.24 454.60,145.30 455.51,145.24 456.41,145.06 457.28,144.77 458.10,144.36 458.86,143.85 459.55,143.25 460.15,142.56 460.66,141.80 461.07,140.98 461.36,140.11 461.54,139.21 461.60,138.30 461.54,137.39 461.36,136.49 461.07,135.62 460.66,134.80 460.15,134.04 459.55,133.35 458.86,132.75 458.10,132.24 457.28,131.83ZM459.08,142.78 458.57,143.23 458.00,143.60 457.39,143.90 456.75,144.12 456.08,144.26 455.40,144.30 454.72,144.26 454.05,144.12 453.41,143.90 452.80,143.60 452.23,143.23 451.72,142.78 451.27,142.27 450.90,141.70 450.60,141.09 450.38,140.45 450.24,139.78 450.20,139.10 450.24,138.42 450.38,137.75 450.60,137.11 450.90,136.50 451.27,135.93 451.72,135.42 452.23,134.97 452.80,134.60 453.41,134.30 454.05,134.08 454.72,133.94 455.40,133.90 456.08,133.94 456.75,134.08 457.39,134.30 458.00,134.60 458.57,134.97 459.08,135.42 459.53,135.93 459.90,136.50 460.20,137.11 460.42,137.75 460.56,138.42 460.60,139.10 460.56,139.78 460.42,140.45 460.20,141.09 459.90,141.70 459.53,142.27ZM449.00,164.34 449.00,163.34 335.44,276.90 336.44,276.90ZM351.95,280.83 449.00,183.78 449.00,182.78 350.95,280.83ZM390.44,260.10 390.40,260.70 390.41,260.81 366.76,284.46 367.76,284.46 390.52,261.70 390.56,261.89 390.75,262.46 391.02,263.00 391.35,263.50 391.75,263.95 392.20,264.35 392.70,264.68 393.24,264.95 393.81,265.14 394.40,265.26 395.00,265.30 395.60,265.26 396.19,265.14 396.76,264.95 397.30,264.68 397.80,264.35 398.25,263.95 398.65,263.50 398.98,263.00 399.25,262.46 399.44,261.89 399.56,261.30 399.60,260.70 399.56,260.10 399.44,259.51 399.25,258.94 398.98,258.40 398.65,257.90 398.25,257.45 397.80,257.05 397.30,256.72 396.76,256.45 396.19,256.26 396.00,256.22 449.00,203.22 449.00,202.22 395.11,256.11 395.00,256.10 394.40,256.14 393.81,256.26 393.24,256.45 392.70,256.72 392.20,257.05 391.75,257.45 391.35,257.90 391.02,258.40 390.75,258.94 390.56,259.51ZM397.55,260.16 397.71,260.40 397.83,260.66 397.93,260.93 397.98,261.21 398.00,261.50 397.98,261.79 397.93,262.07 397.83,262.34 397.71,262.60 397.55,262.84 397.36,263.06 397.14,263.25 396.90,263.41 396.64,263.53 396.37,263.63 396.09,263.68 395.80,263.70 395.51,263.68 395.23,263.63 394.96,263.53 394.70,263.41 394.46,263.25 394.24,263.06 394.05,262.84 393.89,262.60 393.77,262.34 393.67,262.07 393.62,261.79 393.60,261.50 393.62,261.21 393.67,260.93 393.77,260.66 393.89,260.40 394.05,260.16 394.24,259.94 394.46,259.75 394.70,259.59 394.96,259.47 395.23,259.37 395.51,259.32 395.80,259.30 396.09,259.32 396.37,259.37 396.64,259.47 396.90,259.59 397.14,259.75 397.36,259.94ZM425.65,249.76 425.84,249.19 425.96,248.60 426.00,248.00 425.96,247.40 425.84,246.81 425.65,246.24 425.57,246.09 449.00,222.66 449.00,221.66 425.21,245.45 425.05,245.20 424.65,244.75 424.20,244.35 423.70,244.02 423.16,243.75 422.59,243.56 422.00,243.44 421.40,243.40 420.80,243.44 420.21,243.56 419.64,243.75 419.10,244.02 418.60,244.35 418.15,244.75 417.75,245.20 417.42,245.70 417.15,246.24 416.96,246.81 416.84,247.40 416.80,248.00 416.84,248.60 416.96,249.19 417.15,249.76 417.42,250.30 417.75,250.80 418.15,251.25 418.60,251.65 418.85,251.81 382.17,288.49 383.17,288.49 419.49,252.17 419.64,252.25 420.21,252.44 420.80,252.56 421.40,252.60 422.00,252.56 422.59,252.44 423.16,252.25 423.70,251.98 424.20,251.65 424.65,251.25 425.05,250.80 425.38,250.30ZM424.11,247.70 424.23,247.96 424.33,248.23 424.38,248.51 424.40,248.80 424.38,249.09 424.33,249.37 424.23,249.64 424.11,249.90 423.95,250.14 423.76,250.36 423.54,250.55 423.30,250.71 423.04,250.83 422.77,250.93 422.49,250.98 422.20,251.00 421.91,250.98 421.63,250.93 421.36,250.83 421.10,250.71 420.86,250.55 420.64,250.36 420.45,250.14 420.29,249.90 420.17,249.64 420.07,249.37 420.02,249.09 420.00,248.80 420.02,248.51 420.07,248.23 420.17,247.96 420.29,247.70 420.45,247.46 420.64,247.24 420.86,247.05 421.10,246.89 421.36,246.77 421.63,246.67 421.91,246.62 422.20,246.60 422.49,246.62 422.77,246.67 423.04,246.77 423.30,246.89 423.54,247.05 423.76,247.24 423.95,247.46ZM449.00,242.10 449.00,241.10 397.78,292.32 398.78,292.32ZM414.49,296.05 449.00,261.54 449.00,260.54 413.49,296.05ZM456.01,292.49 457.40,292.77 458.73,293.22 460.00,293.85 460.52,294.20 461.00,294.00 461.00,288.50 463.40,285.10 457.90,285.10 448.60,285.10 444.88,285.10 448.70,281.28 461.50,281.28 461.50,267.48 447.70,267.48 447.70,281.28 429.20,299.78 430.20,299.78 444.00,285.98 444.00,289.70 432.20,301.50 441.50,301.50 444.00,299.00 444.00,301.00 444.05,300.98 444.17,300.40 444.62,299.07 445.25,297.80 446.03,296.63 446.96,295.56 448.03,294.63 449.20,293.85 450.47,293.22 451.80,292.77 453.19,292.49 454.60,292.40ZM458.00,270.68 458.57,271.05 459.08,271.50 459.53,272.01 459.90,272.58 460.20,273.19 460.42,273.83 460.56,274.50 460.60,275.18 460.56,275.86 460.42,276.53 460.20,277.17 459.90,277.78 459.53,278.35 459.08,278.86 458.57,279.31 458.00,279.68 457.39,279.98 456.75,280.20 456.08,280.34 455.40,280.38 454.72,280.34 454.05,280.20 453.41,279.98 452.80,279.68 452.23,279.31 451.72,278.86 451.27,278.35 450.90,277.78 450.60,277.17 450.38,276.53 450.24,275.86 450.20,275.18 450.24,274.50 450.38,273.83 450.60,273.19 450.90,272.58 451.27,272.01 451.72,271.50 452.23,271.05 452.80,270.68 453.41,270.38 454.05,270.16 454.72,270.02 455.40,269.98 456.08,270.02 456.75,270.16 457.39,270.38ZM453.69,329.54 454.60,329.60 455.51,329.54 456.41,329.36 457.28,329.07 458.10,328.66 458.86,328.15 459.55,327.55 460.15,326.86 460.66,326.10 461.07,325.28 461.36,324.41 461.54,323.51 461.60,322.60 461.54,321.69 461.48,321.40 468.50,321.40 468.58,321.40 468.66,321.38 468.73,321.37 468.81,321.34 468.88,321.30 468.95,321.26 469.01,321.22 469.07,321.16 482.57,307.56 482.62,307.51 482.67,307.44 482.71,307.38 482.74,307.30 482.77,307.23 482.78,307.16 482.80,307.08 482.80,307.00 482.80,298.77 482.91,298.76 483.52,298.64 484.10,298.44 484.65,298.17 485.16,297.83 485.62,297.42 486.03,296.96 486.37,296.45 486.64,295.90 486.84,295.32 486.96,294.71 487.00,294.10 486.96,293.49 486.84,292.88 486.64,292.30 486.37,291.75 486.03,291.24 485.62,290.78 485.16,290.37 484.65,290.03 484.10,289.76 483.52,289.56 482.91,289.44 482.30,289.40 481.69,289.44 481.08,289.56 480.50,289.76 479.95,290.03 479.44,290.37 478.98,290.78 478.57,291.24 478.23,291.75 477.96,292.30 477.76,292.88 477.64,293.49 477.60,294.10 477.64,294.71 477.76,295.32 477.96,295.90 478.23,296.45 478.57,296.96 478.98,297.42 479.44,297.83 479.95,298.17 480.50,298.44 481.08,298.64 481.20,298.66 481.20,306.67 468.17,319.80 461.01,319.80 460.66,319.10 460.15,318.34 459.55,317.65 458.86,317.05 458.10,316.54 457.28,316.13 456.41,315.84 455.51,315.66 454.60,315.60 453.69,315.66 452.79,315.84 451.92,316.13 451.10,316.54 450.34,317.05 449.65,317.65 449.05,318.34 449.04,318.34 440.34,309.64 439.34,309.64 448.64,318.94 448.54,319.10 448.13,319.92 447.84,320.79 447.66,321.69 447.60,322.60 447.66,323.51 447.84,324.41 448.13,325.28 448.54,326.10 449.05,326.86 449.65,327.55 450.34,328.15 451.10,328.66 451.92,329.07 452.79,329.36ZM460.42,322.05 460.56,322.72 460.60,323.40 460.56,324.08 460.42,324.75 460.20,325.39 459.90,326.00 459.53,326.57 459.08,327.08 458.57,327.53 458.00,327.90 457.39,328.20 456.75,328.42 456.08,328.56 455.40,328.60 454.72,328.56 454.05,328.42 453.41,328.20 452.80,327.90 452.23,327.53 451.72,327.08 451.27,326.57 450.90,326.00 450.60,325.39 450.38,324.75 450.24,324.08 450.20,323.40 450.24,322.72 450.38,322.05 450.60,321.41 450.90,320.80 451.27,320.23 451.72,319.72 452.23,319.27 452.80,318.90 453.41,318.60 454.05,318.38 454.72,318.24 455.40,318.20 456.08,318.24 456.75,318.38 457.39,318.60 458.00,318.90 458.57,319.27 459.08,319.72 459.53,320.23 459.90,320.80 460.20,321.41ZM482.81,297.08 482.53,297.03 482.26,296.93 482.00,296.81 481.76,296.65 481.54,296.46 481.35,296.24 481.19,296.00 481.07,295.74 480.97,295.47 480.92,295.19 480.90,294.90 480.92,294.61 480.97,294.33 481.07,294.06 481.19,293.80 481.35,293.56 481.54,293.34 481.76,293.15 482.00,292.99 482.26,292.87 482.53,292.77 482.81,292.72 483.10,292.70 483.39,292.72 483.67,292.77 483.94,292.87 484.20,292.99 484.44,293.15 484.66,293.34 484.85,293.56 485.01,293.80 485.13,294.06 485.23,294.33 485.28,294.61 485.30,294.90 485.28,295.19 485.23,295.47 485.13,295.74 485.01,296.00 484.85,296.24 484.66,296.46 484.44,296.65 484.20,296.81 483.94,296.93 483.67,297.03 483.39,297.08 483.10,297.10ZM465.86,341.47 508.33,299.50 514.81,299.50 514.84,300.01 514.96,300.62 515.16,301.20 515.43,301.75 515.77,302.26 516.18,302.72 516.64,303.13 517.15,303.47 517.70,303.74 518.28,303.94 518.89,304.06 519.50,304.10 520.11,304.06 520.72,303.94 521.30,303.74 521.85,303.47 522.36,303.13 522.82,302.72 523.23,302.26 523.57,301.75 523.84,301.20 524.04,300.62 524.16,300.01 524.20,299.40 524.16,298.79 524.04,298.18 523.84,297.60 523.57,297.05 523.23,296.54 522.82,296.08 522.36,295.67 521.85,295.33 521.30,295.06 520.72,294.86 520.11,294.74 519.50,294.70 518.89,294.74 518.28,294.86 517.70,295.06 517.15,295.33 516.64,295.67 516.18,296.08 515.77,296.54 515.43,297.05 515.16,297.60 515.06,297.90 508.00,297.90 507.92,297.90 507.85,297.92 507.77,297.93 507.70,297.96 507.63,297.99 507.56,298.03 507.50,298.08 507.44,298.13 464.97,340.10 461.33,340.10 461.07,339.32 460.66,338.50 460.15,337.74 459.55,337.05 458.86,336.45 458.10,335.94 457.28,335.53 456.41,335.24 455.51,335.06 454.60,335.00 453.69,335.06 452.79,335.24 451.92,335.53 451.10,335.94 450.34,336.45 449.65,337.05 449.05,337.74 449.04,337.74 425.07,313.77 424.07,313.77 448.64,338.34 448.54,338.50 448.13,339.32 447.84,340.19 447.66,341.09 447.60,342.00 447.66,342.91 447.84,343.81 448.13,344.68 448.54,345.50 449.05,346.26 449.65,346.95 450.34,347.55 451.10,348.06 451.92,348.47 452.79,348.76 453.69,348.94 454.60,349.00 455.51,348.94 456.41,348.76 457.28,348.47 458.10,348.06 458.86,347.55 459.55,346.95 460.15,346.26 460.66,345.50 461.07,344.68 461.36,343.81 461.54,342.91 461.60,342.00 461.58,341.70 465.30,341.70 465.38,341.70 465.45,341.68 465.53,341.67 465.60,341.64 465.67,341.61 465.74,341.57 465.80,341.52ZM460.20,340.81 460.42,341.45 460.56,342.12 460.60,342.80 460.56,343.48 460.42,344.15 460.20,344.79 459.90,345.40 459.53,345.97 459.08,346.48 458.57,346.93 458.00,347.30 457.39,347.60 456.75,347.82 456.08,347.96 455.40,348.00 454.72,347.96 454.05,347.82 453.41,347.60 452.80,347.30 452.23,346.93 451.72,346.48 451.27,345.97 450.90,345.40 450.60,344.79 450.38,344.15 450.24,343.48 450.20,342.80 450.24,342.12 450.38,341.45 450.60,340.81 450.90,340.20 451.27,339.63 451.72,339.12 452.23,338.67 452.80,338.30 453.41,338.00 454.05,337.78 454.72,337.64 455.40,337.60 456.08,337.64 456.75,337.78 457.39,338.00 458.00,338.30 458.57,338.67 459.08,339.12 459.53,339.63 459.90,340.20ZM520.30,302.40 520.01,302.38 519.73,302.33 519.46,302.23 519.20,302.11 518.96,301.95 518.74,301.76 518.55,301.54 518.39,301.30 518.27,301.04 518.17,300.77 518.12,300.49 518.10,300.20 518.12,299.91 518.17,299.63 518.27,299.36 518.39,299.10 518.55,298.86 518.74,298.64 518.96,298.45 519.20,298.29 519.46,298.17 519.73,298.07 520.01,298.02 520.30,298.00 520.59,298.02 520.87,298.07 521.14,298.17 521.40,298.29 521.64,298.45 521.86,298.64 522.05,298.86 522.21,299.10 522.33,299.36 522.43,299.63 522.48,299.91 522.50,300.20 522.48,300.49 522.43,300.77 522.33,301.04 522.21,301.30 522.05,301.54 521.86,301.76 521.64,301.95 521.40,302.11 521.14,302.23 520.87,302.33 520.59,302.38ZM460.66,357.90 460.15,357.14 459.55,356.45 458.86,355.85 458.10,355.34 457.28,354.93 456.41,354.64 455.51,354.46 454.60,354.40 453.69,354.46 452.79,354.64 451.92,354.93 451.10,355.34 450.34,355.85 449.65,356.45 449.05,357.14 449.04,357.14 409.60,317.70 408.60,317.70 448.64,357.74 448.54,357.90 448.13,358.72 447.84,359.59 447.66,360.49 447.60,361.40 447.66,362.31 447.84,363.21 448.13,364.08 448.54,364.90 449.05,365.66 449.65,366.35 450.34,366.95 451.10,367.46 451.92,367.87 452.79,368.16 453.69,368.34 454.60,368.40 455.51,368.34 456.41,368.16 457.28,367.87 458.10,367.46 458.86,366.95 459.55,366.35 460.15,365.66 460.66,364.90 461.07,364.08 461.36,363.21 461.54,362.31 461.59,361.60 467.88,361.60 485.50,378.54 485.50,413.60 485.50,413.68 485.52,413.76 485.54,413.84 485.57,413.92 485.61,414.00 485.65,414.07 489.95,420.07 490.00,420.13 490.05,420.18 490.11,420.23 490.17,420.28 490.24,420.31 490.31,420.35 490.38,420.37 490.46,420.39 490.53,420.40 503.61,421.49 503.64,422.01 503.76,422.62 503.96,423.20 504.23,423.75 504.57,424.26 504.98,424.72 505.44,425.13 505.95,425.47 506.50,425.74 507.08,425.94 507.69,426.06 508.30,426.10 508.91,426.06 509.52,425.94 510.10,425.74 510.65,425.47 511.16,425.13 511.62,424.72 512.03,424.26 512.37,423.75 512.64,423.20 512.84,422.62 512.96,422.01 513.00,421.40 512.96,420.79 512.84,420.18 512.64,419.60 512.37,419.05 512.03,418.54 511.62,418.08 511.16,417.67 510.65,417.33 510.10,417.06 509.52,416.86 508.91,416.74 508.30,416.70 507.69,416.74 507.08,416.86 506.50,417.06 505.95,417.33 505.44,417.67 504.98,418.08 504.57,418.54 504.23,419.05 503.96,419.60 503.86,419.90 491.03,418.83 487.10,413.34 487.10,378.20 487.10,378.12 487.08,378.04 487.06,377.96 487.04,377.89 487.00,377.81 486.96,377.75 486.91,377.68 486.85,377.62 468.75,360.22 468.70,360.17 468.63,360.13 468.57,360.09 468.50,360.06 468.43,360.03 468.35,360.01 468.28,360.00 468.20,360.00 461.44,360.00 461.36,359.59 461.07,358.72ZM459.90,359.60 460.20,360.21 460.42,360.85 460.56,361.52 460.60,362.20 460.56,362.88 460.42,363.55 460.20,364.19 459.90,364.80 459.53,365.37 459.08,365.88 458.57,366.33 458.00,366.70 457.39,367.00 456.75,367.22 456.08,367.36 455.40,367.40 454.72,367.36 454.05,367.22 453.41,367.00 452.80,366.70 452.23,366.33 451.72,365.88 451.27,365.37 450.90,364.80 450.60,364.19 450.38,363.55 450.24,362.88 450.20,362.20 450.24,361.52 450.38,360.85 450.60,360.21 450.90,359.60 451.27,359.03 451.72,358.52 452.23,358.07 452.80,357.70 453.41,357.40 454.05,357.18 454.72,357.04 455.40,357.00 456.08,357.04 456.75,357.18 457.39,357.40 458.00,357.70 458.57,358.07 459.08,358.52 459.53,359.03ZM509.67,424.33 509.39,424.38 509.10,424.40 508.81,424.38 508.53,424.33 508.26,424.23 508.00,424.11 507.76,423.95 507.54,423.76 507.35,423.54 507.19,423.30 507.07,423.04 506.97,422.77 506.92,422.49 506.90,422.20 506.92,421.91 506.97,421.63 507.07,421.36 507.19,421.10 507.35,420.86 507.54,420.64 507.76,420.45 508.00,420.29 508.26,420.17 508.53,420.07 508.81,420.02 509.10,420.00 509.39,420.02 509.67,420.07 509.94,420.17 510.20,420.29 510.44,420.45 510.66,420.64 510.85,420.86 511.01,421.10 511.13,421.36 511.23,421.63 511.28,421.91 511.30,422.20 511.28,422.49 511.23,422.77 511.13,423.04 511.01,423.30 510.85,423.54 510.66,423.76 510.44,423.95 510.20,424.11 509.94,424.23ZM461.54,379.89 461.36,378.99 461.07,378.12 460.66,377.30 460.15,376.54 459.55,375.85 458.86,375.25 458.10,374.74 457.28,374.33 456.41,374.04 455.51,373.86 454.60,373.80 453.69,373.86 452.79,374.04 451.92,374.33 451.10,374.74 450.34,375.25 449.65,375.85 449.05,376.54 449.04,376.54 393.93,321.43 392.93,321.43 448.64,377.14 448.54,377.30 448.13,378.12 447.84,378.99 447.66,379.89 447.60,380.80 447.66,381.71 447.84,382.61 448.13,383.48 448.54,384.30 449.05,385.06 449.65,385.75 450.34,386.35 451.10,386.86 451.92,387.27 452.79,387.56 453.69,387.74 454.60,387.80 455.51,387.74 456.41,387.56 457.28,387.27 458.10,386.86 458.86,386.35 459.55,385.75 460.15,385.06 460.66,384.30 461.07,383.48 461.36,382.61 461.54,381.71 461.60,380.80ZM459.53,378.43 459.90,379.00 460.20,379.61 460.42,380.25 460.56,380.92 460.60,381.60 460.56,382.28 460.42,382.95 460.20,383.59 459.90,384.20 459.53,384.77 459.08,385.28 458.57,385.73 458.00,386.10 457.39,386.40 456.75,386.62 456.08,386.76 455.40,386.80 454.72,386.76 454.05,386.62 453.41,386.40 452.80,386.10 452.23,385.73 451.72,385.28 451.27,384.77 450.90,384.20 450.60,383.59 450.38,382.95 450.24,382.28 450.20,381.60 450.24,380.92 450.38,380.25 450.60,379.61 450.90,379.00 451.27,378.43 451.72,377.92 452.23,377.47 452.80,377.10 453.41,376.80 454.05,376.58 454.72,376.44 455.40,376.40 456.08,376.44 456.75,376.58 457.39,376.80 458.00,377.10 458.57,377.47 459.08,377.92ZM461.60,400.20 461.54,399.29 461.36,398.39 461.07,397.52 460.66,396.70 460.15,395.94 459.55,395.25 458.86,394.65 458.10,394.14 457.28,393.73 456.41,393.44 455.51,393.26 454.60,393.20 453.69,393.26 452.79,393.44 451.92,393.73 451.10,394.14 450.34,394.65 449.65,395.25 449.05,395.94 449.04,395.94 378.36,325.26 377.36,325.26 448.64,396.54 448.54,396.70 448.13,397.52 447.84,398.39 447.66,399.29 447.60,400.20 447.66,401.11 447.84,402.01 448.13,402.88 448.54,403.70 449.05,404.46 449.65,405.15 450.34,405.75 451.10,406.26 451.92,406.67 452.79,406.96 453.69,407.14 454.60,407.20 455.51,407.14 456.41,406.96 457.28,406.67 458.10,406.26 458.86,405.75 459.55,405.15 460.15,404.46 460.66,403.70 461.07,402.88 461.36,402.01 461.54,401.11ZM459.08,397.32 459.53,397.83 459.90,398.40 460.20,399.01 460.42,399.65 460.56,400.32 460.60,401.00 460.56,401.68 460.42,402.35 460.20,402.99 459.90,403.60 459.53,404.17 459.08,404.68 458.57,405.13 458.00,405.50 457.39,405.80 456.75,406.02 456.08,406.16 455.40,406.20 454.72,406.16 454.05,406.02 453.41,405.80 452.80,405.50 452.23,405.13 451.72,404.68 451.27,404.17 450.90,403.60 450.60,402.99 450.38,402.35 450.24,401.68 450.20,401.00 450.24,400.32 450.38,399.65 450.60,399.01 450.90,398.40 451.27,397.83 451.72,397.32 452.23,396.87 452.80,396.50 453.41,396.20 454.05,395.98 454.72,395.84 455.40,395.80 456.08,395.84 456.75,395.98 457.39,396.20 458.00,396.50 458.57,396.87ZM461.54,420.51 461.60,419.60 461.54,418.69 461.36,417.79 461.07,416.92 460.66,416.10 460.15,415.34 459.55,414.65 458.86,414.05 458.10,413.54 457.28,413.13 456.41,412.84 455.51,412.66 454.60,412.60 453.69,412.66 452.79,412.84 451.92,413.13 451.10,413.54 450.34,414.05 449.65,414.65 449.05,415.34 449.04,415.34 362.79,329.09 361.79,329.09 448.64,415.94 448.54,416.10 448.13,416.92 447.84,417.79 447.66,418.69 447.60,419.60 447.66,420.51 447.84,421.41 448.13,422.28 448.54,423.10 449.05,423.86 449.65,424.55 450.34,425.15 451.10,425.66 451.92,426.07 452.79,426.36 453.69,426.54 454.60,426.60 455.51,426.54 456.41,426.36 457.28,426.07 458.10,425.66 458.86,425.15 459.55,424.55 460.15,423.86 460.66,423.10 461.07,422.28 461.36,421.41ZM458.57,416.27 459.08,416.72 459.53,417.23 459.90,417.80 460.20,418.41 460.42,419.05 460.56,419.72 460.60,420.40 460.56,421.08 460.42,421.75 460.20,422.39 459.90,423.00 459.53,423.57 459.08,424.08 458.57,424.53 458.00,424.90 457.39,425.20 456.75,425.42 456.08,425.56 455.40,425.60 454.72,425.56 454.05,425.42 453.41,425.20 452.80,424.90 452.23,424.53 451.72,424.08 451.27,423.57 450.90,423.00 450.60,422.39 450.38,421.75 450.24,421.08 450.20,420.40 450.24,419.72 450.38,419.05 450.60,418.41 450.90,417.80 451.27,417.23 451.72,416.72 452.23,416.27 452.80,415.90 453.41,415.60 454.05,415.38 454.72,415.24 455.40,415.20 456.08,415.24 456.75,415.38 457.39,415.60 458.00,415.90ZM101.00,326.94 101.00,327.94 119.30,309.64 118.30,309.64ZM133.61,313.77 101.00,346.38 101.00,347.38 134.61,313.77ZM150.22,317.60 149.22,317.60 101.00,365.82 101.00,366.82ZM101.00,386.26 165.63,321.63 164.63,321.63 101.00,385.26ZM101.00,404.70 101.00,405.70 181.04,325.66 180.04,325.66ZM175.50,343.85 175.05,344.25 174.65,344.70 174.32,345.20 174.05,345.74 173.86,346.31 173.74,346.90 173.70,347.50 173.74,348.10 173.86,348.69 174.05,349.26 174.32,349.80 174.65,350.30 174.74,350.40 101.00,424.14 101.00,425.14 175.23,350.91 175.50,351.15 176.00,351.48 176.54,351.75 177.11,351.94 177.70,352.06 178.30,352.10 178.90,352.06 179.49,351.94 180.06,351.75 180.60,351.48 181.10,351.15 181.55,350.75 181.95,350.30 182.28,349.80 182.55,349.26 182.74,348.69 182.86,348.10 182.90,347.50 182.86,346.90 182.74,346.31 182.55,345.74 182.28,345.20 181.95,344.70 181.71,344.43 196.95,329.19 195.95,329.19 181.20,343.94 181.10,343.85 180.60,343.52 180.06,343.25 179.49,343.06 178.90,342.94 178.30,342.90 177.70,342.94 177.11,343.06 176.54,343.25 176.00,343.52ZM180.66,346.74 180.85,346.96 181.01,347.20 181.13,347.46 181.23,347.73 181.28,348.01 181.30,348.30 181.28,348.59 181.23,348.87 181.13,349.14 181.01,349.40 180.85,349.64 180.66,349.86 180.44,350.05 180.20,350.21 179.94,350.33 179.67,350.43 179.39,350.48 179.10,350.50 178.81,350.48 178.53,350.43 178.26,350.33 178.00,350.21 177.76,350.05 177.54,349.86 177.35,349.64 177.19,349.40 177.07,349.14 176.97,348.87 176.92,348.59 176.90,348.30 176.92,348.01 176.97,347.73 177.07,347.46 177.19,347.20 177.35,346.96 177.54,346.74 177.76,346.55 178.00,346.39 178.26,346.27 178.53,346.17 178.81,346.12 179.10,346.10 179.39,346.12 179.67,346.17 179.94,346.27 180.20,346.39 180.44,346.55ZM148.00,402.90 148.60,402.86 149.19,402.74 149.76,402.55 150.30,402.28 150.80,401.95 151.25,401.55 151.65,401.10 151.98,400.60 152.25,400.06 152.44,399.49 152.56,398.90 152.60,398.30 152.56,397.70 152.44,397.11 152.25,396.54 151.98,396.00 151.65,395.50 151.25,395.05 150.87,394.71 212.36,333.22 211.36,333.22 150.28,394.30 149.76,394.05 149.19,393.86 148.60,393.74 148.00,393.70 147.40,393.74 146.81,393.86 146.24,394.05 145.70,394.32 145.20,394.65 144.75,395.05 144.35,395.50 144.02,396.00 143.75,396.54 143.56,397.11 143.44,397.70 143.40,398.30 143.44,398.90 143.56,399.49 143.75,400.06 144.00,400.58 101.00,443.58 101.00,444.58 144.41,401.17 144.75,401.55 145.20,401.95 145.70,402.28 146.24,402.55 146.81,402.74 147.40,402.86ZM150.14,397.35 150.36,397.54 150.55,397.76 150.71,398.00 150.83,398.26 150.93,398.53 150.98,398.81 151.00,399.10 150.98,399.39 150.93,399.67 150.83,399.94 150.71,400.20 150.55,400.44 150.36,400.66 150.14,400.85 149.90,401.01 149.64,401.13 149.37,401.23 149.09,401.28 148.80,401.30 148.51,401.28 148.23,401.23 147.96,401.13 147.70,401.01 147.46,400.85 147.24,400.66 147.05,400.44 146.89,400.20 146.77,399.94 146.67,399.67 146.62,399.39 146.60,399.10 146.62,398.81 146.67,398.53 146.77,398.26 146.89,398.00 147.05,397.76 147.24,397.54 147.46,397.35 147.70,397.19 147.96,397.07 148.23,396.97 148.51,396.92 148.80,396.90 149.09,396.92 149.37,396.97 149.64,397.07 149.90,397.19ZM151.01,486.07 151.83,485.66 152.59,485.15 153.28,484.55 153.88,483.86 154.39,483.10 154.80,482.28 155.09,481.41 155.27,480.51 155.33,479.60 155.27,478.69 155.09,477.79 154.80,476.92 154.39,476.10 153.88,475.34 153.51,474.92 238.37,390.06 238.37,389.06 153.01,474.42 152.59,474.05 151.83,473.54 151.01,473.13 150.14,472.84 149.24,472.66 148.33,472.60 147.42,472.66 146.52,472.84 145.65,473.13 144.83,473.54 144.07,474.05 143.38,474.65 142.78,475.34 142.27,476.10 141.86,476.92 141.57,477.79 141.39,478.69 141.33,479.60 141.39,480.51 141.57,481.41 141.86,482.28 142.27,483.10 142.78,483.86 143.38,484.55 144.07,485.15 144.83,485.66 145.65,486.07 146.52,486.36 147.42,486.54 148.33,486.60 149.24,486.54 150.14,486.36ZM150.48,475.38 151.12,475.60 151.73,475.90 152.30,476.27 152.81,476.72 153.26,477.23 153.63,477.80 153.93,478.41 154.15,479.05 154.29,479.72 154.33,480.40 154.29,481.08 154.15,481.75 153.93,482.39 153.63,483.00 153.26,483.57 152.81,484.08 152.30,484.53 151.73,484.90 151.12,485.20 150.48,485.42 149.81,485.56 149.13,485.60 148.45,485.56 147.78,485.42 147.14,485.20 146.53,484.90 145.96,484.53 145.45,484.08 145.00,483.57 144.63,483.00 144.33,482.39 144.11,481.75 143.97,481.08 143.93,480.40 143.97,479.72 144.11,479.05 144.33,478.41 144.63,477.80 145.00,477.23 145.45,476.72 145.96,476.27 146.53,475.90 147.14,475.60 147.78,475.38 148.45,475.24 149.13,475.20 149.81,475.24ZM188.10,486.54 189.00,486.36 189.87,486.07 190.69,485.66 191.45,485.15 192.14,484.55 192.74,483.86 193.25,483.10 193.66,482.28 193.95,481.41 194.13,480.51 194.19,479.60 194.13,478.69 193.95,477.79 193.66,476.92 193.25,476.10 192.74,475.34 192.37,474.92 246.33,420.96 246.33,419.96 191.87,474.42 191.45,474.05 190.69,473.54 189.87,473.13 189.00,472.84 188.10,472.66 187.19,472.60 186.28,472.66 185.38,472.84 184.51,473.13 183.69,473.54 182.93,474.05 182.24,474.65 181.64,475.34 181.13,476.10 180.72,476.92 180.43,477.79 180.25,478.69 180.19,479.60 180.25,480.51 180.43,481.41 180.72,482.28 181.13,483.10 181.64,483.86 182.24,484.55 182.93,485.15 183.69,485.66 184.51,486.07 185.38,486.36 186.28,486.54 187.19,486.60ZM187.99,475.20 188.67,475.24 189.34,475.38 189.98,475.60 190.59,475.90 191.16,476.27 191.67,476.72 192.12,477.23 192.49,477.80 192.79,478.41 193.01,479.05 193.15,479.72 193.19,480.40 193.15,481.08 193.01,481.75 192.79,482.39 192.49,483.00 192.12,483.57 191.67,484.08 191.16,484.53 190.59,484.90 189.98,485.20 189.34,485.42 188.67,485.56 187.99,485.60 187.31,485.56 186.64,485.42 186.00,485.20 185.39,484.90 184.82,484.53 184.31,484.08 183.86,483.57 183.49,483.00 183.19,482.39 182.97,481.75 182.83,481.08 182.79,480.40 182.83,479.72 182.97,479.05 183.19,478.41 183.49,477.80 183.86,477.23 184.31,476.72 184.82,476.27 185.39,475.90 186.00,475.60 186.64,475.38 187.31,475.24ZM206.62,486.60 207.53,486.54 208.43,486.36 209.30,486.07 210.12,485.66 210.88,485.15 211.57,484.55 212.17,483.86 212.68,483.10 213.09,482.28 213.38,481.41 213.56,480.51 213.62,479.60 213.56,478.69 213.38,477.79 213.09,476.92 212.68,476.10 212.17,475.34 211.80,474.92 250.06,436.66 250.06,435.66 211.30,474.42 210.88,474.05 210.12,473.54 209.30,473.13 208.43,472.84 207.53,472.66 206.62,472.60 205.71,472.66 204.81,472.84 203.94,473.13 203.12,473.54 202.36,474.05 201.67,474.65 201.07,475.34 200.56,476.10 200.15,476.92 199.86,477.79 199.68,478.69 199.62,479.60 199.68,480.51 199.86,481.41 200.15,482.28 200.56,483.10 201.07,483.86 201.67,484.55 202.36,485.15 203.12,485.66 203.94,486.07 204.81,486.36 205.71,486.54ZM206.74,475.24 207.42,475.20 208.10,475.24 208.77,475.38 209.41,475.60 210.02,475.90 210.59,476.27 211.10,476.72 211.55,477.23 211.92,477.80 212.22,478.41 212.44,479.05 212.58,479.72 212.62,480.40 212.58,481.08 212.44,481.75 212.22,482.39 211.92,483.00 211.55,483.57 211.10,484.08 210.59,484.53 210.02,484.90 209.41,485.20 208.77,485.42 208.10,485.56 207.42,485.60 206.74,485.56 206.07,485.42 205.43,485.20 204.82,484.90 204.25,484.53 203.74,484.08 203.29,483.57 202.92,483.00 202.62,482.39 202.40,481.75 202.26,481.08 202.22,480.40 202.26,479.72 202.40,479.05 202.62,478.41 202.92,477.80 203.29,477.23 203.74,476.72 204.25,476.27 204.82,475.90 205.43,475.60 206.07,475.38ZM225.14,486.54 226.05,486.60 226.96,486.54 227.86,486.36 228.73,486.07 229.55,485.66 230.31,485.15 231.00,484.55 231.60,483.86 232.11,483.10 232.52,482.28 232.81,481.41 232.99,480.51 233.05,479.60 232.99,478.69 232.81,477.79 232.52,476.92 232.11,476.10 231.60,475.34 231.23,474.92 253.39,452.76 253.39,451.76 230.73,474.42 230.31,474.05 229.55,473.54 228.73,473.13 227.86,472.84 226.96,472.66 226.05,472.60 225.14,472.66 224.24,472.84 223.37,473.13 222.55,473.54 221.79,474.05 221.10,474.65 220.50,475.34 219.99,476.10 219.58,476.92 219.29,477.79 219.11,478.69 219.05,479.60 219.11,480.51 219.29,481.41 219.58,482.28 219.99,483.10 220.50,483.86 221.10,484.55 221.79,485.15 222.55,485.66 223.37,486.07 224.24,486.36ZM225.50,475.38 226.17,475.24 226.85,475.20 227.53,475.24 228.20,475.38 228.84,475.60 229.45,475.90 230.02,476.27 230.53,476.72 230.98,477.23 231.35,477.80 231.65,478.41 231.87,479.05 232.01,479.72 232.05,480.40 232.01,481.08 231.87,481.75 231.65,482.39 231.35,483.00 230.98,483.57 230.53,484.08 230.02,484.53 229.45,484.90 228.84,485.20 228.20,485.42 227.53,485.56 226.85,485.60 226.17,485.56 225.50,485.42 224.86,485.20 224.25,484.90 223.68,484.53 223.17,484.08 222.72,483.57 222.35,483.00 222.05,482.39 221.83,481.75 221.69,481.08 221.65,480.40 221.69,479.72 221.83,479.05 222.05,478.41 222.35,477.80 222.72,477.23 223.17,476.72 223.68,476.27 224.25,475.90 224.86,475.60ZM243.67,486.36 244.57,486.54 245.48,486.60 246.39,486.54 247.29,486.36 248.16,486.07 248.98,485.66 249.74,485.15 250.43,484.55 251.03,483.86 251.54,483.10 251.95,482.28 252.24,481.41 252.42,480.51 252.48,479.60 252.42,478.69 252.24,477.79 251.95,476.92 251.54,476.10 251.03,475.34 250.66,474.92 257.32,468.26 257.32,467.26 250.16,474.42 249.74,474.05 248.98,473.54 248.16,473.13 247.29,472.84 246.39,472.66 245.48,472.60 244.57,472.66 243.67,472.84 242.80,473.13 241.98,473.54 241.22,474.05 240.53,474.65 239.93,475.34 239.42,476.10 239.01,476.92 238.72,477.79 238.54,478.69 238.48,479.60 238.54,480.51 238.72,481.41 239.01,482.28 239.42,483.10 239.93,483.86 240.53,484.55 241.22,485.15 241.98,485.66 242.80,486.07ZM244.29,475.60 244.93,475.38 245.60,475.24 246.28,475.20 246.96,475.24 247.63,475.38 248.27,475.60 248.88,475.90 249.45,476.27 249.96,476.72 250.41,477.23 250.78,477.80 251.08,478.41 251.30,479.05 251.44,479.72 251.48,480.40 251.44,481.08 251.30,481.75 251.08,482.39 250.78,483.00 250.41,483.57 249.96,484.08 249.45,484.53 248.88,484.90 248.27,485.20 247.63,485.42 246.96,485.56 246.28,485.60 245.60,485.56 244.93,485.42 244.29,485.20 243.68,484.90 243.11,484.53 242.60,484.08 242.15,483.57 241.78,483.00 241.48,482.39 241.26,481.75 241.12,481.08 241.08,480.40 241.12,479.72 241.26,479.05 241.48,478.41 241.78,477.80 242.15,477.23 242.60,476.72 243.11,476.27 243.68,475.90ZM312.02,486.54 312.93,486.60 313.84,486.54 314.74,486.36 315.61,486.07 316.43,485.66 317.19,485.15 317.88,484.55 318.48,483.86 318.99,483.10 319.40,482.28 319.69,481.41 319.87,480.51 319.93,479.60 319.87,478.69 319.69,477.79 319.40,476.92 318.99,476.10 318.48,475.34 317.88,474.65 317.19,474.05 316.43,473.54 315.61,473.13 314.74,472.84 313.84,472.66 312.93,472.60 312.02,472.66 311.12,472.84 310.25,473.13 309.43,473.54 308.67,474.05 307.98,474.65 307.98,474.65 269.54,436.21 269.54,437.21 307.51,475.18 307.38,475.34 306.87,476.10 306.46,476.92 306.17,477.79 305.99,478.69 305.93,479.60 305.99,480.51 306.17,481.41 306.46,482.28 306.87,483.10 307.38,483.86 307.98,484.55 308.67,485.15 309.43,485.66 310.25,486.07 311.12,486.36ZM310.56,476.27 311.13,475.90 311.74,475.60 312.38,475.38 313.05,475.24 313.73,475.20 314.41,475.24 315.08,475.38 315.72,475.60 316.33,475.90 316.90,476.27 317.41,476.72 317.86,477.23 318.23,477.80 318.53,478.41 318.75,479.05 318.89,479.72 318.93,480.40 318.89,481.08 318.75,481.75 318.53,482.39 318.23,483.00 317.86,483.57 317.41,484.08 316.90,484.53 316.33,484.90 315.72,485.20 315.08,485.42 314.41,485.56 313.73,485.60 313.05,485.56 312.38,485.42 311.74,485.20 311.13,484.90 310.56,484.53 310.05,484.08 309.60,483.57 309.23,483.00 308.93,482.39 308.71,481.75 308.57,481.08 308.53,480.40 308.57,479.72 308.71,479.05 308.93,478.41 309.23,477.80 309.60,477.23 310.05,476.72ZM336.62,485.15 337.31,484.55 337.91,483.86 338.42,483.10 338.83,482.28 339.12,481.41 339.30,480.51 339.36,479.60 339.30,478.69 339.12,477.79 338.83,476.92 338.42,476.10 337.91,475.34 337.31,474.65 336.62,474.05 335.86,473.54 335.04,473.13 334.17,472.84 333.27,472.66 332.36,472.60 331.45,472.66 330.55,472.84 329.68,473.13 328.86,473.54 328.10,474.05 327.41,474.65 273.37,420.61 273.37,421.61 326.94,475.18 326.81,475.34 326.30,476.10 325.89,476.92 325.60,477.79 325.42,478.69 325.36,479.60 325.42,480.51 325.60,481.41 325.89,482.28 326.30,483.10 326.81,483.86 327.41,484.55 328.10,485.15 328.86,485.66 329.68,486.07 330.55,486.36 331.45,486.54 332.36,486.60 333.27,486.54 334.17,486.36 335.04,486.07 335.86,485.66ZM329.48,476.72 329.99,476.27 330.56,475.90 331.17,475.60 331.81,475.38 332.48,475.24 333.16,475.20 333.84,475.24 334.51,475.38 335.15,475.60 335.76,475.90 336.33,476.27 336.84,476.72 337.29,477.23 337.66,477.80 337.96,478.41 338.18,479.05 338.32,479.72 338.36,480.40 338.32,481.08 338.18,481.75 337.96,482.39 337.66,483.00 337.29,483.57 336.84,484.08 336.33,484.53 335.76,484.90 335.15,485.20 334.51,485.42 333.84,485.56 333.16,485.60 332.48,485.56 331.81,485.42 331.17,485.20 330.56,484.90 329.99,484.53 329.48,484.08 329.03,483.57 328.66,483.00 328.36,482.39 328.14,481.75 328.00,481.08 327.96,480.40 328.00,479.72 328.14,479.05 328.36,478.41 328.66,477.80 329.03,477.23ZM355.29,485.66 356.05,485.15 356.74,484.55 357.34,483.86 357.85,483.10 358.26,482.28 358.55,481.41 358.73,480.51 358.79,479.60 358.73,478.69 358.55,477.79 358.26,476.92 357.85,476.10 357.34,475.34 356.74,474.65 356.05,474.05 355.29,473.54 354.47,473.13 353.60,472.84 352.70,472.66 351.79,472.60 350.88,472.66 349.98,472.84 349.11,473.13 348.29,473.54 347.53,474.05 346.84,474.65 277.20,405.01 277.20,406.01 346.37,475.18 346.24,475.34 345.73,476.10 345.32,476.92 345.03,477.79 344.85,478.69 344.79,479.60 344.85,480.51 345.03,481.41 345.32,482.28 345.73,483.10 346.24,483.86 346.84,484.55 347.53,485.15 348.29,485.66 349.11,486.07 349.98,486.36 350.88,486.54 351.79,486.60 352.70,486.54 353.60,486.36 354.47,486.07ZM348.46,477.23 348.91,476.72 349.42,476.27 349.99,475.90 350.60,475.60 351.24,475.38 351.91,475.24 352.59,475.20 353.27,475.24 353.94,475.38 354.58,475.60 355.19,475.90 355.76,476.27 356.27,476.72 356.72,477.23 357.09,477.80 357.39,478.41 357.61,479.05 357.75,479.72 357.79,480.40 357.75,481.08 357.61,481.75 357.39,482.39 357.09,483.00 356.72,483.57 356.27,484.08 355.76,484.53 355.19,484.90 354.58,485.20 353.94,485.42 353.27,485.56 352.59,485.60 351.91,485.56 351.24,485.42 350.60,485.20 349.99,484.90 349.42,484.53 348.91,484.08 348.46,483.57 348.09,483.00 347.79,482.39 347.57,481.75 347.43,481.08 347.39,480.40 347.43,479.72 347.57,479.05 347.79,478.41 348.09,477.80ZM367.72,485.66 368.54,486.07 369.41,486.36 370.31,486.54 371.22,486.60 372.13,486.54 373.03,486.36 373.90,486.07 374.72,485.66 375.48,485.15 376.17,484.55 376.77,483.86 377.28,483.10 377.69,482.28 377.98,481.41 378.16,480.51 378.22,479.60 378.16,478.69 377.98,477.79 377.69,476.92 377.28,476.10 376.77,475.34 376.17,474.65 375.48,474.05 374.72,473.54 373.90,473.13 373.03,472.84 372.13,472.66 371.22,472.60 370.31,472.66 369.41,472.84 368.54,473.13 367.72,473.54 366.96,474.05 366.27,474.65 366.27,474.65 281.03,389.41 281.03,390.41 365.80,475.18 365.67,475.34 365.16,476.10 364.75,476.92 364.46,477.79 364.28,478.69 364.22,479.60 364.28,480.51 364.46,481.41 364.75,482.28 365.16,483.10 365.67,483.86 366.27,484.55 366.96,485.15ZM367.52,477.80 367.89,477.23 368.34,476.72 368.85,476.27 369.42,475.90 370.03,475.60 370.67,475.38 371.34,475.24 372.02,475.20 372.70,475.24 373.37,475.38 374.01,475.60 374.62,475.90 375.19,476.27 375.70,476.72 376.15,477.23 376.52,477.80 376.82,478.41 377.04,479.05 377.18,479.72 377.22,480.40 377.18,481.08 377.04,481.75 376.82,482.39 376.52,483.00 376.15,483.57 375.70,484.08 375.19,484.53 374.62,484.90 374.01,485.20 373.37,485.42 372.70,485.56 372.02,485.60 371.34,485.56 370.67,485.42 370.03,485.20 369.42,484.90 368.85,484.53 368.34,484.08 367.89,483.57 367.52,483.00 367.22,482.39 367.00,481.75 366.86,481.08 366.82,480.40 366.86,479.72 367.00,479.05 367.22,478.41ZM357.44,434.55 358.01,434.74 358.60,434.86 359.20,434.90 359.80,434.86 360.39,434.74 360.96,434.55 361.50,434.28 362.00,433.95 362.45,433.55 362.72,433.24 404.66,475.18 404.53,475.34 404.02,476.10 403.61,476.92 403.32,477.79 403.14,478.69 403.08,479.60 403.14,480.51 403.32,481.41 403.61,482.28 404.02,483.10 404.53,483.86 405.13,484.55 405.82,485.15 406.58,485.66 407.40,486.07 408.27,486.36 409.09,486.53 406.32,488.75 417.82,503.05 418.00,503.26 418.21,503.45 418.43,503.62 418.67,503.76 418.92,503.88 419.18,503.98 419.45,504.04 419.72,504.09 420.00,504.10 470.60,504.10 470.60,589.61 470.19,590.08 469.84,590.60 469.57,591.16 469.36,591.76 469.24,592.37 469.20,593.00 469.24,593.63 469.36,594.24 469.57,594.84 469.84,595.40 470.19,595.92 470.61,596.39 471.08,596.81 471.60,597.16 472.16,597.43 472.76,597.64 473.37,597.76 474.00,597.80 474.63,597.76 475.24,597.64 475.84,597.43 476.40,597.16 476.92,596.81 477.39,596.39 477.81,595.92 478.16,595.40 478.43,594.84 478.64,594.24 478.76,593.63 478.80,593.00 478.76,592.37 478.64,591.76 478.43,591.16 478.16,590.60 477.81,590.08 477.39,589.61 477.30,589.52 477.30,504.10 482.30,504.10 482.57,504.09 482.84,504.05 483.10,503.98 483.36,503.89 483.61,503.78 483.84,503.64 484.06,503.48 484.26,503.30 509.96,478.00 510.15,477.79 510.32,477.57 510.46,477.33 510.58,477.08 510.68,476.82 510.75,476.55 510.79,476.28 510.80,476.00 510.80,465.39 510.92,465.31 511.39,464.89 511.81,464.42 512.16,463.90 512.43,463.34 512.64,462.74 512.76,462.13 512.80,461.50 512.76,460.87 512.64,460.26 512.43,459.66 512.16,459.10 511.81,458.58 511.39,458.11 510.92,457.69 510.40,457.34 509.84,457.07 509.24,456.86 508.63,456.74 508.00,456.70 507.37,456.74 506.76,456.86 506.16,457.07 505.60,457.34 505.08,457.69 504.61,458.11 504.19,458.58 503.84,459.10 503.57,459.66 503.36,460.26 503.24,460.87 503.20,461.50 503.24,462.13 503.36,462.74 503.57,463.34 503.84,463.90 504.19,464.42 504.61,464.89 505.08,465.31 505.20,465.39 505.20,474.83 481.15,498.50 421.34,498.50 411.62,486.42 411.89,486.36 412.76,486.07 413.58,485.66 414.34,485.15 415.03,484.55 415.63,483.86 416.14,483.10 416.55,482.28 416.84,481.41 417.02,480.51 417.08,479.60 417.02,478.69 416.84,477.79 416.55,476.92 416.14,476.10 415.63,475.34 415.03,474.65 414.34,474.05 413.58,473.54 412.76,473.13 411.89,472.84 410.99,472.66 410.08,472.60 409.17,472.66 408.27,472.84 407.40,473.13 406.58,473.54 405.82,474.05 405.13,474.65 401.48,471.00 404.50,471.00 363.80,430.30 363.76,429.70 363.64,429.11 363.45,428.54 363.18,428.00 362.85,427.50 362.45,427.05 362.00,426.65 361.50,426.32 360.96,426.05 360.39,425.86 359.80,425.74 359.20,425.70 358.60,425.74 358.01,425.86 357.44,426.05 356.90,426.32 356.84,426.36 288.69,358.21 288.69,359.21 356.26,426.78 355.95,427.05 355.55,427.50 355.22,428.00 354.95,428.54 354.76,429.11 354.64,429.70 354.60,430.30 354.64,430.90 354.76,431.49 354.95,432.06 355.22,432.60 355.55,433.10 355.95,433.55 356.40,433.95 356.90,434.28ZM361.10,429.19 361.34,429.35 361.56,429.54 361.75,429.76 361.91,430.00 362.03,430.26 362.13,430.53 362.18,430.81 362.20,431.10 362.18,431.39 362.13,431.67 362.03,431.94 361.91,432.20 361.75,432.44 361.56,432.66 361.34,432.85 361.10,433.01 360.84,433.13 360.57,433.23 360.29,433.28 360.00,433.30 359.71,433.28 359.43,433.23 359.16,433.13 358.90,433.01 358.66,432.85 358.44,432.66 358.25,432.44 358.09,432.20 357.97,431.94 357.87,431.67 357.82,431.39 357.80,431.10 357.82,430.81 357.87,430.53 357.97,430.26 358.09,430.00 358.25,429.76 358.44,429.54 358.66,429.35 358.90,429.19 359.16,429.07 359.43,428.97 359.71,428.92 360.00,428.90 360.29,428.92 360.57,428.97 360.84,429.07ZM405.86,479.05 406.08,478.41 406.38,477.80 406.75,477.23 407.20,476.72 407.71,476.27 408.28,475.90 408.89,475.60 409.53,475.38 410.20,475.24 410.88,475.20 411.56,475.24 412.23,475.38 412.87,475.60 413.48,475.90 414.05,476.27 414.56,476.72 415.01,477.23 415.38,477.80 415.68,478.41 415.90,479.05 416.04,479.72 416.08,480.40 416.04,481.08 415.90,481.75 415.68,482.39 415.38,483.00 415.01,483.57 414.56,484.08 414.05,484.53 413.48,484.90 412.87,485.20 412.23,485.42 411.56,485.56 410.88,485.60 410.20,485.56 409.53,485.42 408.89,485.20 408.28,484.90 407.71,484.53 407.20,484.08 406.75,483.57 406.38,483.00 406.08,482.39 405.86,481.75 405.72,481.08 405.68,480.40 405.72,479.72ZM475.11,596.18 474.80,596.20 474.49,596.18 474.18,596.12 473.88,596.02 473.60,595.88 473.34,595.70 473.10,595.50 472.90,595.26 472.72,595.00 472.58,594.72 472.48,594.42 472.42,594.11 472.40,593.80 472.42,593.49 472.48,593.18 472.58,592.88 472.72,592.60 472.90,592.34 473.10,592.10 473.34,591.90 473.60,591.72 473.88,591.58 474.18,591.48 474.49,591.42 474.80,591.40 475.11,591.42 475.42,591.48 475.72,591.58 476.00,591.72 476.26,591.90 476.50,592.10 476.70,592.34 476.88,592.60 477.02,592.88 477.12,593.18 477.18,593.49 477.20,593.80 477.18,594.11 477.12,594.42 477.02,594.72 476.88,595.00 476.70,595.26 476.50,595.50 476.26,595.70 476.00,595.88 475.72,596.02 475.42,596.12ZM509.42,464.62 509.11,464.68 508.80,464.70 508.49,464.68 508.18,464.62 507.88,464.52 507.60,464.38 507.34,464.20 507.10,464.00 506.90,463.76 506.72,463.50 506.58,463.22 506.48,462.92 506.42,462.61 506.40,462.30 506.42,461.99 506.48,461.68 506.58,461.38 506.72,461.10 506.90,460.84 507.10,460.60 507.34,460.40 507.60,460.22 507.88,460.08 508.18,459.98 508.49,459.92 508.80,459.90 509.11,459.92 509.42,459.98 509.72,460.08 510.00,460.22 510.26,460.40 510.50,460.60 510.70,460.84 510.88,461.10 511.02,461.38 511.12,461.68 511.18,461.99 511.20,462.30 511.18,462.61 511.12,462.92 511.02,463.22 510.88,463.50 510.70,463.76 510.50,464.00 510.26,464.20 510.00,464.38 509.72,464.52ZM292.20,355.20 300.50,363.50 300.50,362.50 292.20,354.20ZM175.75,150.10 176.15,150.55 176.60,150.95 177.10,151.28 177.64,151.55 178.21,151.74 178.80,151.86 179.40,151.90 180.00,151.86 180.59,151.74 181.16,151.55 181.70,151.28 182.20,150.95 182.65,150.55 183.05,150.10 183.38,149.60 183.65,149.06 183.84,148.49 183.96,147.90 184.00,147.30 183.96,146.70 183.84,146.11 183.65,145.54 183.38,145.00 183.05,144.50 182.65,144.05 182.20,143.65 181.70,143.32 181.16,143.05 180.59,142.86 180.00,142.74 179.40,142.70 178.80,142.74 178.21,142.86 177.64,143.05 177.10,143.32 176.60,143.65 176.15,144.05 175.75,144.50 175.42,145.00 175.15,145.54 174.96,146.11 174.84,146.70 174.80,147.30 174.84,147.90 174.96,148.49 175.15,149.06 175.42,149.60ZM182.38,147.81 182.40,148.10 182.38,148.39 182.33,148.67 182.23,148.94 182.11,149.20 181.95,149.44 181.76,149.66 181.54,149.85 181.30,150.01 181.04,150.13 180.77,150.23 180.49,150.28 180.20,150.30 179.91,150.28 179.63,150.23 179.36,150.13 179.10,150.01 178.86,149.85 178.64,149.66 178.45,149.44 178.29,149.20 178.17,148.94 178.07,148.67 178.02,148.39 178.00,148.10 178.02,147.81 178.07,147.53 178.17,147.26 178.29,147.00 178.45,146.76 178.64,146.54 178.86,146.35 179.10,146.19 179.36,146.07 179.63,145.97 179.91,145.92 180.20,145.90 180.49,145.92 180.77,145.97 181.04,146.07 181.30,146.19 181.54,146.35 181.76,146.54 181.95,146.76 182.11,147.00 182.23,147.26 182.33,147.53ZM82.20,136.00 82.20,163.80 84.30,163.80 84.30,158.50 88.50,156.80 84.30,153.50 84.30,136.00ZM82.20,305.50 82.20,331.80 84.30,331.80 84.30,326.50 88.50,324.80 84.30,321.50 84.30,305.50ZM113.40,108.30 113.40,114.00 114.40,114.00 114.40,108.30ZM133.60,106.70 134.60,106.70 137.80,103.50 137.80,102.50ZM88.00,156.30 89.00,156.30 89.00,153.60 88.00,153.60ZM88.00,172.99 88.00,175.69 89.00,175.69 89.00,172.99ZM89.00,192.38 88.00,192.38 88.00,195.07 89.00,195.07ZM89.00,214.46 89.00,211.76 88.00,211.76 88.00,214.46ZM88.00,233.86 89.00,233.86 89.00,231.16 88.00,231.16ZM88.00,250.55 88.00,253.25 89.00,253.25 89.00,250.55ZM89.00,269.94 88.00,269.94 88.00,272.63 89.00,272.63ZM89.00,324.22 89.00,321.52 88.00,321.52 88.00,324.22ZM88.00,343.66 89.00,343.66 89.00,340.96 88.00,340.96ZM88.00,360.40 88.00,363.10 89.00,363.10 89.00,360.40ZM89.00,379.84 88.00,379.84 88.00,382.54 89.00,382.54ZM89.00,401.98 89.00,399.28 88.00,399.28 88.00,401.98ZM88.00,421.42 89.00,421.42 89.00,418.72 88.00,418.72ZM88.00,438.16 88.00,440.86 89.00,440.86 89.00,438.16ZM239.00,254.00 238.00,254.00 238.00,265.00 239.00,265.00ZM245.66,265.00 246.66,265.00 246.66,254.00 245.66,254.00ZM260.98,254.00 260.98,265.00 261.98,265.00 261.98,254.00ZM265.81,254.00 264.81,254.00 264.81,265.00 265.81,265.00ZM281.13,265.00 281.13,254.00 280.13,254.00 280.13,265.00ZM287.79,254.00 287.79,265.00 288.79,265.00 288.79,254.00ZM292.62,254.00 291.62,254.00 291.62,265.00 292.62,265.00ZM239.00,352.50 239.00,343.00 238.00,343.00 238.00,352.50ZM245.66,343.00 245.66,352.50 246.66,352.50 246.66,343.00ZM261.98,343.00 260.98,343.00 260.98,352.50 261.98,352.50ZM265.81,352.50 265.81,343.00 264.81,343.00 264.81,352.50ZM280.13,352.50 281.13,352.50 281.13,343.00 280.13,343.00ZM288.79,343.00 287.79,343.00 287.79,352.50 288.79,352.50ZM223.70,286.76 223.70,285.76 214.00,285.76 214.00,286.76ZM303.00,286.76 313.00,286.76 313.00,285.76 303.00,285.76ZM381.00,289.59 313.00,289.59 303.00,289.59 303.00,290.59 313.00,290.59 381.00,290.59ZM223.70,294.42 223.70,293.42 214.00,293.42 214.00,294.42ZM303.00,294.42 313.00,294.42 313.00,293.42 303.00,293.42ZM214.00,308.74 214.00,309.74 223.70,309.74 223.70,308.74ZM313.00,308.74 303.00,308.74 303.00,309.74 313.00,309.74ZM223.70,313.57 223.70,312.57 214.00,312.57 214.00,313.57ZM303.00,313.57 313.00,313.57 313.00,312.57 303.00,312.57ZM214.00,327.89 214.00,328.89 223.70,328.89 223.70,327.89ZM313.00,327.89 303.00,327.89 303.00,328.89 313.00,328.89ZM207.00,332.72 214.00,332.72 223.70,332.72 223.70,331.72 214.00,331.72 207.00,331.72ZM295.60,339.30 296.60,339.80 298.60,335.40 297.95,335.20 298.80,335.20 298.80,269.30 298.30,269.30 296.50,267.00 295.50,267.50 297.30,269.80 297.30,335.00ZM187.73,105.65 186.97,105.14 186.15,104.73 185.28,104.44 184.38,104.26 183.47,104.20 182.56,104.26 181.66,104.44 180.79,104.73 179.97,105.14 179.21,105.65 178.52,106.25 177.92,106.94 177.41,107.70 177.00,108.52 176.71,109.39 176.53,110.29 176.47,111.20 176.53,112.11 176.71,113.01 177.00,113.88 177.41,114.70 177.92,115.46 178.52,116.15 179.21,116.75 179.97,117.26 180.79,117.67 181.66,117.96 182.56,118.14 183.47,118.20 184.38,118.14 185.28,117.96 186.15,117.67 186.97,117.26 187.73,116.75 188.42,116.15 189.02,115.46 189.53,114.70 189.94,113.88 190.23,113.01 190.41,112.11 190.47,111.20 190.41,110.29 190.23,109.39 189.94,108.52 189.53,107.70 189.02,106.94 188.42,106.25ZM183.59,106.84 184.27,106.80 184.95,106.84 185.62,106.98 186.26,107.20 186.87,107.50 187.44,107.87 187.95,108.32 188.40,108.83 188.77,109.40 189.07,110.01 189.29,110.65 189.43,111.32 189.47,112.00 189.43,112.68 189.29,113.35 189.07,113.99 188.77,114.60 188.40,115.17 187.95,115.68 187.44,116.13 186.87,116.50 186.26,116.80 185.62,117.02 184.95,117.16 184.27,117.20 183.59,117.16 182.92,117.02 182.28,116.80 181.67,116.50 181.10,116.13 180.59,115.68 180.14,115.17 179.77,114.60 179.47,113.99 179.25,113.35 179.11,112.68 179.07,112.00 179.11,111.32 179.25,110.65 179.47,110.01 179.77,109.40 180.14,108.83 180.59,108.32 181.10,107.87 181.67,107.50 182.28,107.20 182.92,106.98ZM227.80,106.94 227.20,106.25 226.51,105.65 225.75,105.14 224.93,104.73 224.06,104.44 223.16,104.26 222.25,104.20 221.34,104.26 220.44,104.44 219.57,104.73 218.75,105.14 217.99,105.65 217.30,106.25 216.70,106.94 216.19,107.70 215.78,108.52 215.49,109.39 215.31,110.29 215.25,111.20 215.31,112.11 215.49,113.01 215.78,113.88 216.19,114.70 216.70,115.46 217.30,116.15 217.99,116.75 218.75,117.26 219.57,117.67 220.44,117.96 221.34,118.14 222.25,118.20 223.16,118.14 224.06,117.96 224.93,117.67 225.75,117.26 226.51,116.75 227.20,116.15 227.80,115.46 228.31,114.70 228.72,113.88 229.01,113.01 229.19,112.11 229.25,111.20 229.19,110.29 229.01,109.39 228.72,108.52 228.31,107.70ZM221.06,107.20 221.70,106.98 222.37,106.84 223.05,106.80 223.73,106.84 224.40,106.98 225.04,107.20 225.65,107.50 226.22,107.87 226.73,108.32 227.18,108.83 227.55,109.40 227.85,110.01 228.07,110.65 228.21,111.32 228.25,112.00 228.21,112.68 228.07,113.35 227.85,113.99 227.55,114.60 227.18,115.17 226.73,115.68 226.22,116.13 225.65,116.50 225.04,116.80 224.40,117.02 223.73,117.16 223.05,117.20 222.37,117.16 221.70,117.02 221.06,116.80 220.45,116.50 219.88,116.13 219.37,115.68 218.92,115.17 218.55,114.60 218.25,113.99 218.03,113.35 217.89,112.68 217.85,112.00 217.89,111.32 218.03,110.65 218.25,110.01 218.55,109.40 218.92,108.83 219.37,108.32 219.88,107.87 220.45,107.50ZM247.70,107.70 247.19,106.94 246.59,106.25 245.90,105.65 245.14,105.14 244.32,104.73 243.45,104.44 242.55,104.26 241.64,104.20 240.73,104.26 239.83,104.44 238.96,104.73 238.14,105.14 237.38,105.65 236.69,106.25 236.09,106.94 235.58,107.70 235.17,108.52 234.88,109.39 234.70,110.29 234.64,111.20 234.70,112.11 234.88,113.01 235.17,113.88 235.58,114.70 236.09,115.46 236.69,116.15 237.38,116.75 238.14,117.26 238.96,117.67 239.83,117.96 240.73,118.14 241.64,118.20 242.55,118.14 243.45,117.96 244.32,117.67 245.14,117.26 245.90,116.75 246.59,116.15 247.19,115.46 247.70,114.70 248.11,113.88 248.40,113.01 248.58,112.11 248.64,111.20 248.58,110.29 248.40,109.39 248.11,108.52ZM239.84,107.50 240.45,107.20 241.09,106.98 241.76,106.84 242.44,106.80 243.12,106.84 243.79,106.98 244.43,107.20 245.04,107.50 245.61,107.87 246.12,108.32 246.57,108.83 246.94,109.40 247.24,110.01 247.46,110.65 247.60,111.32 247.64,112.00 247.60,112.68 247.46,113.35 247.24,113.99 246.94,114.60 246.57,115.17 246.12,115.68 245.61,116.13 245.04,116.50 244.43,116.80 243.79,117.02 243.12,117.16 242.44,117.20 241.76,117.16 241.09,117.02 240.45,116.80 239.84,116.50 239.27,116.13 238.76,115.68 238.31,115.17 237.94,114.60 237.64,113.99 237.42,113.35 237.28,112.68 237.24,112.00 237.28,111.32 237.42,110.65 237.64,110.01 237.94,109.40 238.31,108.83 238.76,108.32 239.27,107.87ZM291.67,108.52 291.26,107.70 290.75,106.94 290.15,106.25 289.46,105.65 288.70,105.14 287.88,104.73 287.01,104.44 286.11,104.26 285.20,104.20 284.29,104.26 283.39,104.44 282.52,104.73 281.70,105.14 280.94,105.65 280.25,106.25 279.65,106.94 279.14,107.70 278.73,108.52 278.44,109.39 278.26,110.29 278.20,111.20 278.26,112.11 278.44,113.01 278.73,113.88 279.14,114.70 279.65,115.46 280.25,116.15 280.94,116.75 281.70,117.26 282.52,117.67 283.39,117.96 284.29,118.14 285.20,118.20 286.11,118.14 287.01,117.96 287.88,117.67 288.70,117.26 289.46,116.75 290.15,116.15 290.75,115.46 291.26,114.70 291.67,113.88 291.96,113.01 292.14,112.11 292.20,111.20 292.14,110.29 291.96,109.39ZM282.83,107.87 283.40,107.50 284.01,107.20 284.65,106.98 285.32,106.84 286.00,106.80 286.68,106.84 287.35,106.98 287.99,107.20 288.60,107.50 289.17,107.87 289.68,108.32 290.13,108.83 290.50,109.40 290.80,110.01 291.02,110.65 291.16,111.32 291.20,112.00 291.16,112.68 291.02,113.35 290.80,113.99 290.50,114.60 290.13,115.17 289.68,115.68 289.17,116.13 288.60,116.50 287.99,116.80 287.35,117.02 286.68,117.16 286.00,117.20 285.32,117.16 284.65,117.02 284.01,116.80 283.40,116.50 282.83,116.13 282.32,115.68 281.87,115.17 281.50,114.60 281.20,113.99 280.98,113.35 280.84,112.68 280.80,112.00 280.84,111.32 280.98,110.65 281.20,110.01 281.50,109.40 281.87,108.83 282.32,108.32ZM311.36,109.39 311.07,108.52 310.66,107.70 310.15,106.94 309.55,106.25 308.86,105.65 308.10,105.14 307.28,104.73 306.41,104.44 305.51,104.26 304.60,104.20 303.69,104.26 302.79,104.44 301.92,104.73 301.10,105.14 300.34,105.65 299.65,106.25 299.05,106.94 298.54,107.70 298.13,108.52 297.84,109.39 297.66,110.29 297.60,111.20 297.66,112.11 297.84,113.01 298.13,113.88 298.54,114.70 299.05,115.46 299.65,116.15 300.34,116.75 301.10,117.26 301.92,117.67 302.79,117.96 303.69,118.14 304.60,118.20 305.51,118.14 306.41,117.96 307.28,117.67 308.10,117.26 308.86,116.75 309.55,116.15 310.15,115.46 310.66,114.70 311.07,113.88 311.36,113.01 311.54,112.11 311.60,111.20 311.54,110.29ZM301.72,108.32 302.23,107.87 302.80,107.50 303.41,107.20 304.05,106.98 304.72,106.84 305.40,106.80 306.08,106.84 306.75,106.98 307.39,107.20 308.00,107.50 308.57,107.87 309.08,108.32 309.53,108.83 309.90,109.40 310.20,110.01 310.42,110.65 310.56,111.32 310.60,112.00 310.56,112.68 310.42,113.35 310.20,113.99 309.90,114.60 309.53,115.17 309.08,115.68 308.57,116.13 308.00,116.50 307.39,116.80 306.75,117.02 306.08,117.16 305.40,117.20 304.72,117.16 304.05,117.02 303.41,116.80 302.80,116.50 302.23,116.13 301.72,115.68 301.27,115.17 300.90,114.60 300.60,113.99 300.38,113.35 300.24,112.68 300.20,112.00 300.24,111.32 300.38,110.65 300.60,110.01 300.90,109.40 301.27,108.83ZM267.93,104.30 254.13,104.30 254.13,118.10 267.93,118.10ZM256.63,112.00 256.67,111.32 256.81,110.65 257.03,110.01 257.33,109.40 257.70,108.83 258.15,108.32 258.66,107.87 259.23,107.50 259.84,107.20 260.48,106.98 261.15,106.84 261.83,106.80 262.51,106.84 263.18,106.98 263.82,107.20 264.43,107.50 265.00,107.87 265.51,108.32 265.96,108.83 266.33,109.40 266.63,110.01 266.85,110.65 266.99,111.32 267.03,112.00 266.99,112.68 266.85,113.35 266.63,113.99 266.33,114.60 265.96,115.17 265.51,115.68 265.00,116.13 264.43,116.50 263.82,116.80 263.18,117.02 262.51,117.16 261.83,117.20 261.15,117.16 260.48,117.02 259.84,116.80 259.23,116.50 258.66,116.13 258.15,115.68 257.70,115.17 257.33,114.60 257.03,113.99 256.81,113.35 256.67,112.68ZM427.90,118.10 427.90,104.30 414.10,104.30 414.10,118.10ZM416.64,112.68 416.60,112.00 416.64,111.32 416.78,110.65 417.00,110.01 417.30,109.40 417.67,108.83 418.12,108.32 418.63,107.87 419.20,107.50 419.81,107.20 420.45,106.98 421.12,106.84 421.80,106.80 422.48,106.84 423.15,106.98 423.79,107.20 424.40,107.50 424.97,107.87 425.48,108.32 425.93,108.83 426.30,109.40 426.60,110.01 426.82,110.65 426.96,111.32 427.00,112.00 426.96,112.68 426.82,113.35 426.60,113.99 426.30,114.60 425.93,115.17 425.48,115.68 424.97,116.13 424.40,116.50 423.79,116.80 423.15,117.02 422.48,117.16 421.80,117.20 421.12,117.16 420.45,117.02 419.81,116.80 419.20,116.50 418.63,116.13 418.12,115.68 417.67,115.17 417.30,114.60 417.00,113.99 416.78,113.35ZM99.86,189.73 100.55,189.13 101.15,188.44 101.66,187.68 102.07,186.86 102.36,185.99 102.54,185.09 102.60,184.18 102.54,183.27 102.36,182.37 102.07,181.50 101.66,180.68 101.15,179.92 100.55,179.23 99.86,178.63 99.10,178.12 98.28,177.71 97.41,177.42 96.51,177.24 95.60,177.18 94.69,177.24 93.79,177.42 92.92,177.71 92.10,178.12 91.34,178.63 90.65,179.23 90.05,179.92 89.54,180.68 89.13,181.50 88.84,182.37 88.66,183.27 88.60,184.18 88.66,185.09 88.84,185.99 89.13,186.86 89.54,187.68 90.05,188.44 90.65,189.13 91.34,189.73 92.10,190.24 92.92,190.65 93.79,190.94 94.69,191.12 95.60,191.18 96.51,191.12 97.41,190.94 98.28,190.65 99.10,190.24ZM91.60,186.97 91.38,186.33 91.24,185.66 91.20,184.98 91.24,184.30 91.38,183.63 91.60,182.99 91.90,182.38 92.27,181.81 92.72,181.30 93.23,180.85 93.80,180.48 94.41,180.18 95.05,179.96 95.72,179.82 96.40,179.78 97.08,179.82 97.75,179.96 98.39,180.18 99.00,180.48 99.57,180.85 100.08,181.30 100.53,181.81 100.90,182.38 101.20,182.99 101.42,183.63 101.56,184.30 101.60,184.98 101.56,185.66 101.42,186.33 101.20,186.97 100.90,187.58 100.53,188.15 100.08,188.66 99.57,189.11 99.00,189.48 98.39,189.78 97.75,190.00 97.08,190.14 96.40,190.18 95.72,190.14 95.05,190.00 94.41,189.78 93.80,189.48 93.23,189.11 92.72,188.66 92.27,188.15 91.90,187.58ZM94.69,339.68 95.60,339.74 96.51,339.68 97.41,339.50 98.28,339.21 99.10,338.80 99.86,338.29 100.55,337.69 101.15,337.00 101.66,336.24 102.07,335.42 102.36,334.55 102.54,333.65 102.60,332.74 102.54,331.83 102.36,330.93 102.07,330.06 101.66,329.24 101.15,328.48 100.55,327.79 99.86,327.19 99.10,326.68 98.28,326.27 97.41,325.98 96.51,325.80 95.60,325.74 94.69,325.80 93.79,325.98 92.92,326.27 92.10,326.68 91.34,327.19 90.65,327.79 90.05,328.48 89.54,329.24 89.13,330.06 88.84,330.93 88.66,331.83 88.60,332.74 88.66,333.65 88.84,334.55 89.13,335.42 89.54,336.24 90.05,337.00 90.65,337.69 91.34,338.29 92.10,338.80 92.92,339.21 93.79,339.50ZM94.41,338.34 93.80,338.04 93.23,337.67 92.72,337.22 92.27,336.71 91.90,336.14 91.60,335.53 91.38,334.89 91.24,334.22 91.20,333.54 91.24,332.86 91.38,332.19 91.60,331.55 91.90,330.94 92.27,330.37 92.72,329.86 93.23,329.41 93.80,329.04 94.41,328.74 95.05,328.52 95.72,328.38 96.40,328.34 97.08,328.38 97.75,328.52 98.39,328.74 99.00,329.04 99.57,329.41 100.08,329.86 100.53,330.37 100.90,330.94 101.20,331.55 101.42,332.19 101.56,332.86 101.60,333.54 101.56,334.22 101.42,334.89 101.20,335.53 100.90,336.14 100.53,336.71 100.08,337.22 99.57,337.67 99.00,338.04 98.39,338.34 97.75,338.56 97.08,338.70 96.40,338.74 95.72,338.70 95.05,338.56ZM93.79,358.94 94.69,359.12 95.60,359.18 96.51,359.12 97.41,358.94 98.28,358.65 99.10,358.24 99.86,357.73 100.55,357.13 101.15,356.44 101.66,355.68 102.07,354.86 102.36,353.99 102.54,353.09 102.60,352.18 102.54,351.27 102.36,350.37 102.07,349.50 101.66,348.68 101.15,347.92 100.55,347.23 99.86,346.63 99.10,346.12 98.28,345.71 97.41,345.42 96.51,345.24 95.60,345.18 94.69,345.24 93.79,345.42 92.92,345.71 92.10,346.12 91.34,346.63 90.65,347.23 90.05,347.92 89.54,348.68 89.13,349.50 88.84,350.37 88.66,351.27 88.60,352.18 88.66,353.09 88.84,353.99 89.13,354.86 89.54,355.68 90.05,356.44 90.65,357.13 91.34,357.73 92.10,358.24 92.92,358.65ZM95.05,358.00 94.41,357.78 93.80,357.48 93.23,357.11 92.72,356.66 92.27,356.15 91.90,355.58 91.60,354.97 91.38,354.33 91.24,353.66 91.20,352.98 91.24,352.30 91.38,351.63 91.60,350.99 91.90,350.38 92.27,349.81 92.72,349.30 93.23,348.85 93.80,348.48 94.41,348.18 95.05,347.96 95.72,347.82 96.40,347.78 97.08,347.82 97.75,347.96 98.39,348.18 99.00,348.48 99.57,348.85 100.08,349.30 100.53,349.81 100.90,350.38 101.20,350.99 101.42,351.63 101.56,352.30 101.60,352.98 101.56,353.66 101.42,354.33 101.20,354.97 100.90,355.58 100.53,356.15 100.08,356.66 99.57,357.11 99.00,357.48 98.39,357.78 97.75,358.00 97.08,358.14 96.40,358.18 95.72,358.14ZM92.92,378.09 93.79,378.38 94.69,378.56 95.60,378.62 96.51,378.56 97.41,378.38 98.28,378.09 99.10,377.68 99.86,377.17 100.55,376.57 101.15,375.88 101.66,375.12 102.07,374.30 102.36,373.43 102.54,372.53 102.60,371.62 102.54,370.71 102.36,369.81 102.07,368.94 101.66,368.12 101.15,367.36 100.55,366.67 99.86,366.07 99.10,365.56 98.28,365.15 97.41,364.86 96.51,364.68 95.60,364.62 94.69,364.68 93.79,364.86 92.92,365.15 92.10,365.56 91.34,366.07 90.65,366.67 90.05,367.36 89.54,368.12 89.13,368.94 88.84,369.81 88.66,370.71 88.60,371.62 88.66,372.53 88.84,373.43 89.13,374.30 89.54,375.12 90.05,375.88 90.65,376.57 91.34,377.17 92.10,377.68ZM95.72,377.58 95.05,377.44 94.41,377.22 93.80,376.92 93.23,376.55 92.72,376.10 92.27,375.59 91.90,375.02 91.60,374.41 91.38,373.77 91.24,373.10 91.20,372.42 91.24,371.74 91.38,371.07 91.60,370.43 91.90,369.82 92.27,369.25 92.72,368.74 93.23,368.29 93.80,367.92 94.41,367.62 95.05,367.40 95.72,367.26 96.40,367.22 97.08,367.26 97.75,367.40 98.39,367.62 99.00,367.92 99.57,368.29 100.08,368.74 100.53,369.25 100.90,369.82 101.20,370.43 101.42,371.07 101.56,371.74 101.60,372.42 101.56,373.10 101.42,373.77 101.20,374.41 100.90,375.02 100.53,375.59 100.08,376.10 99.57,376.55 99.00,376.92 98.39,377.22 97.75,377.44 97.08,377.58 96.40,377.62ZM92.10,397.12 92.92,397.53 93.79,397.82 94.69,398.00 95.60,398.06 96.51,398.00 97.41,397.82 98.28,397.53 99.10,397.12 99.86,396.61 100.55,396.01 101.15,395.32 101.66,394.56 102.07,393.74 102.36,392.87 102.54,391.97 102.60,391.06 102.54,390.15 102.36,389.25 102.07,388.38 101.66,387.56 101.15,386.80 100.55,386.11 99.86,385.51 99.10,385.00 98.28,384.59 97.41,384.30 96.51,384.12 95.60,384.06 94.69,384.12 93.79,384.30 92.92,384.59 92.10,385.00 91.34,385.51 90.65,386.11 90.05,386.80 89.54,387.56 89.13,388.38 88.84,389.25 88.66,390.15 88.60,391.06 88.66,391.97 88.84,392.87 89.13,393.74 89.54,394.56 90.05,395.32 90.65,396.01 91.34,396.61ZM96.40,397.06 95.72,397.02 95.05,396.88 94.41,396.66 93.80,396.36 93.23,395.99 92.72,395.54 92.27,395.03 91.90,394.46 91.60,393.85 91.38,393.21 91.24,392.54 91.20,391.86 91.24,391.18 91.38,390.51 91.60,389.87 91.90,389.26 92.27,388.69 92.72,388.18 93.23,387.73 93.80,387.36 94.41,387.06 95.05,386.84 95.72,386.70 96.40,386.66 97.08,386.70 97.75,386.84 98.39,387.06 99.00,387.36 99.57,387.73 100.08,388.18 100.53,388.69 100.90,389.26 101.20,389.87 101.42,390.51 101.56,391.18 101.60,391.86 101.56,392.54 101.42,393.21 101.20,393.85 100.90,394.46 100.53,395.03 100.08,395.54 99.57,395.99 99.00,396.36 98.39,396.66 97.75,396.88 97.08,397.02ZM91.34,416.05 92.10,416.56 92.92,416.97 93.79,417.26 94.69,417.44 95.60,417.50 96.51,417.44 97.41,417.26 98.28,416.97 99.10,416.56 99.86,416.05 100.55,415.45 101.15,414.76 101.66,414.00 102.07,413.18 102.36,412.31 102.54,411.41 102.60,410.50 102.54,409.59 102.36,408.69 102.07,407.82 101.66,407.00 101.15,406.24 100.55,405.55 99.86,404.95 99.10,404.44 98.28,404.03 97.41,403.74 96.51,403.56 95.60,403.50 94.69,403.56 93.79,403.74 92.92,404.03 92.10,404.44 91.34,404.95 90.65,405.55 90.05,406.24 89.54,407.00 89.13,407.82 88.84,408.69 88.66,409.59 88.60,410.50 88.66,411.41 88.84,412.31 89.13,413.18 89.54,414.00 90.05,414.76 90.65,415.45ZM97.08,416.46 96.40,416.50 95.72,416.46 95.05,416.32 94.41,416.10 93.80,415.80 93.23,415.43 92.72,414.98 92.27,414.47 91.90,413.90 91.60,413.29 91.38,412.65 91.24,411.98 91.20,411.30 91.24,410.62 91.38,409.95 91.60,409.31 91.90,408.70 92.27,408.13 92.72,407.62 93.23,407.17 93.80,406.80 94.41,406.50 95.05,406.28 95.72,406.14 96.40,406.10 97.08,406.14 97.75,406.28 98.39,406.50 99.00,406.80 99.57,407.17 100.08,407.62 100.53,408.13 100.90,408.70 101.20,409.31 101.42,409.95 101.56,410.62 101.60,411.30 101.56,411.98 101.42,412.65 101.20,413.29 100.90,413.90 100.53,414.47 100.08,414.98 99.57,415.43 99.00,415.80 98.39,416.10 97.75,416.32ZM89.05,427.50 74.44,427.50 74.13,427.04 73.77,426.63 73.36,426.27 72.90,425.96 72.41,425.72 71.89,425.54 71.35,425.44 70.80,425.40 70.25,425.44 69.71,425.54 69.19,425.72 68.70,425.96 68.24,426.27 67.83,426.63 67.47,427.04 67.16,427.50 66.92,427.99 66.74,428.51 66.64,429.05 66.60,429.60 66.64,430.15 66.74,430.69 66.92,431.21 67.16,431.70 67.47,432.16 67.83,432.57 68.24,432.93 68.70,433.24 69.19,433.48 69.71,433.66 70.25,433.76 70.80,433.80 71.35,433.76 71.89,433.66 72.41,433.48 72.90,433.24 73.36,432.93 73.77,432.57 74.13,432.16 74.24,432.00 88.92,432.00 89.13,432.62 89.54,433.44 90.05,434.20 90.65,434.89 91.34,435.49 92.10,436.00 92.92,436.41 93.79,436.70 94.69,436.88 95.60,436.94 96.51,436.88 97.41,436.70 98.28,436.41 99.10,436.00 99.86,435.49 100.55,434.89 101.15,434.20 101.66,433.44 102.07,432.62 102.36,431.75 102.54,430.85 102.60,429.94 102.54,429.03 102.36,428.13 102.07,427.26 101.66,426.44 101.15,425.68 100.55,424.99 99.86,424.39 99.10,423.88 98.28,423.47 97.41,423.18 96.51,423.00 95.60,422.94 94.69,423.00 93.79,423.18 92.92,423.47 92.10,423.88 91.34,424.39 90.65,424.99 90.05,425.68 89.54,426.44 89.13,427.26ZM97.75,435.76 97.08,435.90 96.40,435.94 95.72,435.90 95.05,435.76 94.41,435.54 93.80,435.24 93.23,434.87 92.72,434.42 92.27,433.91 91.90,433.34 91.60,432.73 91.38,432.09 91.24,431.42 91.20,430.74 91.24,430.06 91.38,429.39 91.60,428.75 91.90,428.14 92.27,427.57 92.72,427.06 93.23,426.61 93.80,426.24 94.41,425.94 95.05,425.72 95.72,425.58 96.40,425.54 97.08,425.58 97.75,425.72 98.39,425.94 99.00,426.24 99.57,426.61 100.08,427.06 100.53,427.57 100.90,428.14 101.20,428.75 101.42,429.39 101.56,430.06 101.60,430.74 101.56,431.42 101.42,432.09 101.20,432.73 100.90,433.34 100.53,433.91 100.08,434.42 99.57,434.87 99.00,435.24 98.39,435.54ZM70.45,428.41 70.72,428.28 71.00,428.18 71.30,428.12 71.60,428.10 71.90,428.12 72.20,428.18 72.48,428.28 72.75,428.41 73.00,428.58 73.23,428.77 73.42,429.00 73.59,429.25 73.72,429.52 73.82,429.80 73.88,430.10 73.90,430.40 73.88,430.70 73.82,431.00 73.72,431.28 73.59,431.55 73.42,431.80 73.23,432.03 73.00,432.22 72.75,432.39 72.48,432.52 72.20,432.62 71.90,432.68 71.60,432.70 71.30,432.68 71.00,432.62 70.72,432.52 70.45,432.39 70.20,432.22 69.97,432.03 69.78,431.80 69.61,431.55 69.48,431.28 69.38,431.00 69.32,430.70 69.30,430.40 69.32,430.10 69.38,429.80 69.48,429.52 69.61,429.25 69.78,429.00 69.97,428.77 70.20,428.58ZM90.05,453.64 90.65,454.33 91.34,454.93 92.10,455.44 92.60,455.69 92.60,470.65 92.57,470.67 92.23,471.06 91.94,471.50 91.70,471.97 91.54,472.46 91.43,472.98 91.40,473.50 91.43,474.02 91.54,474.54 91.70,475.03 91.94,475.50 92.23,475.94 92.57,476.33 92.96,476.67 93.40,476.96 93.87,477.20 94.36,477.36 94.88,477.47 95.40,477.50 95.92,477.47 96.44,477.36 96.93,477.20 97.40,476.96 97.84,476.67 98.23,476.33 98.57,475.94 98.86,475.50 99.10,475.03 99.26,474.54 99.37,474.02 99.40,473.50 99.37,472.98 99.26,472.46 99.10,471.97 98.86,471.50 98.57,471.06 98.23,470.67 97.84,470.33 97.60,470.17 97.60,456.08 98.28,455.85 99.10,455.44 99.86,454.93 100.55,454.33 101.15,453.64 101.66,452.88 102.07,452.06 102.36,451.19 102.54,450.29 102.60,449.38 102.54,448.47 102.36,447.57 102.07,446.70 101.66,445.88 101.15,445.12 100.55,444.43 99.86,443.83 99.10,443.32 98.28,442.91 97.41,442.62 96.51,442.44 95.60,442.38 94.69,442.44 93.79,442.62 92.92,442.91 92.10,443.32 91.34,443.83 90.65,444.43 90.05,445.12 89.54,445.88 89.13,446.70 88.84,447.57 88.66,448.47 88.60,449.38 88.66,450.29 88.84,451.19 89.13,452.06 89.54,452.88ZM98.39,454.98 97.75,455.20 97.08,455.34 96.40,455.38 95.72,455.34 95.05,455.20 94.41,454.98 93.80,454.68 93.23,454.31 92.72,453.86 92.27,453.35 91.90,452.78 91.60,452.17 91.38,451.53 91.24,450.86 91.20,450.18 91.24,449.50 91.38,448.83 91.60,448.19 91.90,447.58 92.27,447.01 92.72,446.50 93.23,446.05 93.80,445.68 94.41,445.38 95.05,445.16 95.72,445.02 96.40,444.98 97.08,445.02 97.75,445.16 98.39,445.38 99.00,445.68 99.57,446.05 100.08,446.50 100.53,447.01 100.90,447.58 101.20,448.19 101.42,448.83 101.56,449.50 101.60,450.18 101.56,450.86 101.42,451.53 101.20,452.17 100.90,452.78 100.53,453.35 100.08,453.86 99.57,454.31 99.00,454.68ZM95.36,472.27 95.63,472.17 95.91,472.12 96.20,472.10 96.49,472.12 96.77,472.17 97.04,472.27 97.30,472.39 97.54,472.55 97.76,472.74 97.95,472.96 98.11,473.20 98.23,473.46 98.33,473.73 98.38,474.01 98.40,474.30 98.38,474.59 98.33,474.87 98.23,475.14 98.11,475.40 97.95,475.64 97.76,475.86 97.54,476.05 97.30,476.21 97.04,476.33 96.77,476.43 96.49,476.48 96.20,476.50 95.91,476.48 95.63,476.43 95.36,476.33 95.10,476.21 94.86,476.05 94.64,475.86 94.45,475.64 94.29,475.40 94.17,475.14 94.07,474.87 94.02,474.59 94.00,474.30 94.02,474.01 94.07,473.73 94.17,473.46 94.29,473.20 94.45,472.96 94.64,472.74 94.86,472.55 95.10,472.39ZM102.50,138.50 88.70,138.50 88.70,152.30 102.50,152.30ZM99.00,150.70 98.39,151.00 97.75,151.22 97.08,151.36 96.40,151.40 95.72,151.36 95.05,151.22 94.41,151.00 93.80,150.70 93.23,150.33 92.72,149.88 92.27,149.37 91.90,148.80 91.60,148.19 91.38,147.55 91.24,146.88 91.20,146.20 91.24,145.52 91.38,144.85 91.60,144.21 91.90,143.60 92.27,143.03 92.72,142.52 93.23,142.07 93.80,141.70 94.41,141.40 95.05,141.18 95.72,141.04 96.40,141.00 97.08,141.04 97.75,141.18 98.39,141.40 99.00,141.70 99.57,142.07 100.08,142.52 100.53,143.03 100.90,143.60 101.20,144.21 101.42,144.85 101.56,145.52 101.60,146.20 101.56,146.88 101.42,147.55 101.20,148.19 100.90,148.80 100.53,149.37 100.08,149.88 99.57,150.33ZM102.50,320.20 102.50,306.40 88.70,306.40 88.70,320.20ZM99.57,318.23 99.00,318.60 98.39,318.90 97.75,319.12 97.08,319.26 96.40,319.30 95.72,319.26 95.05,319.12 94.41,318.90 93.80,318.60 93.23,318.23 92.72,317.78 92.27,317.27 91.90,316.70 91.60,316.09 91.38,315.45 91.24,314.78 91.20,314.10 91.24,313.42 91.38,312.75 91.60,312.11 91.90,311.50 92.27,310.93 92.72,310.42 93.23,309.97 93.80,309.60 94.41,309.30 95.05,309.08 95.72,308.94 96.40,308.90 97.08,308.94 97.75,309.08 98.39,309.30 99.00,309.60 99.57,309.97 100.08,310.42 100.53,310.93 100.90,311.50 101.20,312.11 101.42,312.75 101.56,313.42 101.60,314.10 101.56,314.78 101.42,315.45 101.20,316.09 100.90,316.70 100.53,317.27 100.08,317.78ZM447.66,158.65 447.84,159.55 448.13,160.42 448.54,161.24 449.05,162.00 449.65,162.69 450.34,163.29 451.10,163.80 451.92,164.21 452.79,164.50 453.69,164.68 454.60,164.74 455.51,164.68 456.41,164.50 457.28,164.21 458.10,163.80 458.86,163.29 459.55,162.69 460.15,162.00 460.66,161.24 461.07,160.42 461.36,159.55 461.54,158.65 461.60,157.74 461.54,156.83 461.36,155.93 461.07,155.06 460.66,154.24 460.15,153.48 459.55,152.79 458.86,152.19 458.10,151.68 457.28,151.27 456.41,150.98 455.51,150.80 454.60,150.74 453.69,150.80 452.79,150.98 451.92,151.27 451.10,151.68 450.34,152.19 449.65,152.79 449.05,153.48 448.54,154.24 448.13,155.06 447.84,155.93 447.66,156.83 447.60,157.74ZM459.53,161.71 459.08,162.22 458.57,162.67 458.00,163.04 457.39,163.34 456.75,163.56 456.08,163.70 455.40,163.74 454.72,163.70 454.05,163.56 453.41,163.34 452.80,163.04 452.23,162.67 451.72,162.22 451.27,161.71 450.90,161.14 450.60,160.53 450.38,159.89 450.24,159.22 450.20,158.54 450.24,157.86 450.38,157.19 450.60,156.55 450.90,155.94 451.27,155.37 451.72,154.86 452.23,154.41 452.80,154.04 453.41,153.74 454.05,153.52 454.72,153.38 455.40,153.34 456.08,153.38 456.75,153.52 457.39,153.74 458.00,154.04 458.57,154.41 459.08,154.86 459.53,155.37 459.90,155.94 460.20,156.55 460.42,157.19 460.56,157.86 460.60,158.54 460.56,159.22 460.42,159.89 460.20,160.53 459.90,161.14ZM447.60,177.18 447.66,178.09 447.84,178.99 448.13,179.86 448.54,180.68 449.05,181.44 449.65,182.13 450.34,182.73 451.10,183.24 451.92,183.65 452.79,183.94 453.69,184.12 454.60,184.18 455.51,184.12 456.41,183.94 457.28,183.65 458.10,183.24 458.86,182.73 459.55,182.13 460.15,181.44 460.66,180.68 461.07,179.86 461.36,178.99 461.54,178.09 461.60,177.18 461.54,176.27 461.36,175.37 461.07,174.50 460.66,173.68 460.15,172.92 459.55,172.23 458.86,171.63 458.10,171.12 457.28,170.71 456.41,170.42 455.51,170.24 454.60,170.18 453.69,170.24 452.79,170.42 451.92,170.71 451.10,171.12 450.34,171.63 449.65,172.23 449.05,172.92 448.54,173.68 448.13,174.50 447.84,175.37 447.66,176.27ZM459.90,180.58 459.53,181.15 459.08,181.66 458.57,182.11 458.00,182.48 457.39,182.78 456.75,183.00 456.08,183.14 455.40,183.18 454.72,183.14 454.05,183.00 453.41,182.78 452.80,182.48 452.23,182.11 451.72,181.66 451.27,181.15 450.90,180.58 450.60,179.97 450.38,179.33 450.24,178.66 450.20,177.98 450.24,177.30 450.38,176.63 450.60,175.99 450.90,175.38 451.27,174.81 451.72,174.30 452.23,173.85 452.80,173.48 453.41,173.18 454.05,172.96 454.72,172.82 455.40,172.78 456.08,172.82 456.75,172.96 457.39,173.18 458.00,173.48 458.57,173.85 459.08,174.30 459.53,174.81 459.90,175.38 460.20,175.99 460.42,176.63 460.56,177.30 460.60,177.98 460.56,178.66 460.42,179.33 460.20,179.97ZM451.10,190.56 450.34,191.07 449.65,191.67 449.05,192.36 448.54,193.12 448.13,193.94 447.84,194.81 447.66,195.71 447.60,196.62 447.66,197.53 447.84,198.43 448.13,199.30 448.54,200.12 449.05,200.88 449.65,201.57 450.34,202.17 451.10,202.68 451.92,203.09 452.79,203.38 453.69,203.56 454.60,203.62 455.51,203.56 456.41,203.38 457.28,203.09 458.10,202.68 458.86,202.17 459.55,201.57 460.15,200.88 460.66,200.12 461.07,199.30 461.36,198.43 461.54,197.53 461.55,197.40 478.24,197.40 478.24,197.41 478.36,198.02 478.56,198.60 478.83,199.15 479.17,199.66 479.58,200.12 480.04,200.53 480.55,200.87 481.10,201.14 481.68,201.34 482.29,201.46 482.90,201.50 483.51,201.46 484.12,201.34 484.70,201.14 485.25,200.87 485.76,200.53 486.22,200.12 486.63,199.66 486.97,199.15 487.24,198.60 487.44,198.02 487.56,197.41 487.60,196.80 487.56,196.19 487.44,195.58 487.24,195.00 486.97,194.45 486.63,193.94 486.22,193.48 485.76,193.07 485.25,192.73 484.70,192.46 484.12,192.26 483.51,192.14 482.90,192.10 482.29,192.14 481.68,192.26 481.10,192.46 480.55,192.73 480.04,193.07 479.58,193.48 479.17,193.94 478.83,194.45 478.56,195.00 478.36,195.58 478.32,195.80 461.55,195.80 461.54,195.71 461.36,194.81 461.07,193.94 460.66,193.12 460.15,192.36 459.55,191.67 458.86,191.07 458.10,190.56 457.28,190.15 456.41,189.86 455.51,189.68 454.60,189.62 453.69,189.68 452.79,189.86 451.92,190.15ZM460.20,199.41 459.90,200.02 459.53,200.59 459.08,201.10 458.57,201.55 458.00,201.92 457.39,202.22 456.75,202.44 456.08,202.58 455.40,202.62 454.72,202.58 454.05,202.44 453.41,202.22 452.80,201.92 452.23,201.55 451.72,201.10 451.27,200.59 450.90,200.02 450.60,199.41 450.38,198.77 450.24,198.10 450.20,197.42 450.24,196.74 450.38,196.07 450.60,195.43 450.90,194.82 451.27,194.25 451.72,193.74 452.23,193.29 452.80,192.92 453.41,192.62 454.05,192.40 454.72,192.26 455.40,192.22 456.08,192.26 456.75,192.40 457.39,192.62 458.00,192.92 458.57,193.29 459.08,193.74 459.53,194.25 459.90,194.82 460.20,195.43 460.42,196.07 460.56,196.74 460.60,197.42 460.56,198.10 460.42,198.77ZM481.95,198.94 481.79,198.70 481.67,198.44 481.57,198.17 481.52,197.89 481.50,197.60 481.52,197.31 481.57,197.03 481.67,196.76 481.79,196.50 481.95,196.26 482.14,196.04 482.36,195.85 482.60,195.69 482.86,195.57 483.13,195.47 483.41,195.42 483.70,195.40 483.99,195.42 484.27,195.47 484.54,195.57 484.80,195.69 485.04,195.85 485.26,196.04 485.45,196.26 485.61,196.50 485.73,196.76 485.83,197.03 485.88,197.31 485.90,197.60 485.88,197.89 485.83,198.17 485.73,198.44 485.61,198.70 485.45,198.94 485.26,199.16 485.04,199.35 484.80,199.51 484.54,199.63 484.27,199.73 483.99,199.78 483.70,199.80 483.41,199.78 483.13,199.73 482.86,199.63 482.60,199.51 482.36,199.35 482.14,199.16ZM459.55,211.11 458.86,210.51 458.10,210.00 457.28,209.59 456.41,209.30 455.51,209.12 454.60,209.06 453.69,209.12 452.79,209.30 451.92,209.59 451.10,210.00 450.34,210.51 449.65,211.11 449.05,211.80 448.54,212.56 448.13,213.38 447.84,214.25 447.66,215.15 447.60,216.06 447.66,216.97 447.84,217.87 448.13,218.74 448.54,219.56 449.05,220.32 449.65,221.01 450.34,221.61 451.10,222.12 451.92,222.53 452.79,222.82 453.69,223.00 454.60,223.06 455.51,223.00 456.41,222.82 457.28,222.53 458.10,222.12 458.86,221.61 459.55,221.01 460.15,220.32 460.66,219.56 461.07,218.74 461.36,217.87 461.54,216.97 461.56,216.60 467.04,216.60 508.22,258.27 508.29,258.34 508.38,258.41 508.46,258.46 508.56,258.51 508.65,258.54 508.75,258.57 514.85,259.97 514.96,260.52 515.16,261.10 515.43,261.65 515.77,262.16 516.18,262.62 516.64,263.03 517.15,263.37 517.70,263.64 518.28,263.84 518.89,263.96 519.50,264.00 520.11,263.96 520.72,263.84 521.30,263.64 521.85,263.37 522.36,263.03 522.82,262.62 523.23,262.16 523.57,261.65 523.84,261.10 524.04,260.52 524.16,259.91 524.20,259.30 524.16,258.69 524.04,258.08 523.84,257.50 523.57,256.95 523.23,256.44 522.82,255.98 522.36,255.57 521.85,255.23 521.30,254.96 520.72,254.76 520.11,254.64 519.50,254.60 518.89,254.64 518.28,254.76 517.70,254.96 517.15,255.23 516.64,255.57 516.18,255.98 515.77,256.44 515.43,256.95 515.16,257.50 515.07,257.76 509.56,256.50 468.28,214.73 468.20,214.65 468.12,214.59 468.02,214.53 467.92,214.48 467.82,214.45 467.72,214.42 467.61,214.41 467.50,214.40 461.39,214.40 461.36,214.25 461.07,213.38 460.66,212.56 460.15,211.80ZM460.42,218.21 460.20,218.85 459.90,219.46 459.53,220.03 459.08,220.54 458.57,220.99 458.00,221.36 457.39,221.66 456.75,221.88 456.08,222.02 455.40,222.06 454.72,222.02 454.05,221.88 453.41,221.66 452.80,221.36 452.23,220.99 451.72,220.54 451.27,220.03 450.90,219.46 450.60,218.85 450.38,218.21 450.24,217.54 450.20,216.86 450.24,216.18 450.38,215.51 450.60,214.87 450.90,214.26 451.27,213.69 451.72,213.18 452.23,212.73 452.80,212.36 453.41,212.06 454.05,211.84 454.72,211.70 455.40,211.66 456.08,211.70 456.75,211.84 457.39,212.06 458.00,212.36 458.57,212.73 459.08,213.18 459.53,213.69 459.90,214.26 460.20,214.87 460.42,215.51 460.56,216.18 460.60,216.86 460.56,217.54ZM519.20,262.01 518.96,261.85 518.74,261.66 518.55,261.44 518.39,261.20 518.27,260.94 518.17,260.67 518.12,260.39 518.10,260.10 518.12,259.81 518.17,259.53 518.27,259.26 518.39,259.00 518.55,258.76 518.74,258.54 518.96,258.35 519.20,258.19 519.46,258.07 519.73,257.97 520.01,257.92 520.30,257.90 520.59,257.92 520.87,257.97 521.14,258.07 521.40,258.19 521.64,258.35 521.86,258.54 522.05,258.76 522.21,259.00 522.33,259.26 522.43,259.53 522.48,259.81 522.50,260.10 522.48,260.39 522.43,260.67 522.33,260.94 522.21,261.20 522.05,261.44 521.86,261.66 521.64,261.85 521.40,262.01 521.14,262.13 520.87,262.23 520.59,262.28 520.30,262.30 520.01,262.28 519.73,262.23 519.46,262.13ZM448.13,232.82 447.84,233.69 447.66,234.59 447.60,235.50 447.66,236.41 447.84,237.31 448.13,238.18 448.54,239.00 449.05,239.76 449.65,240.45 450.34,241.05 451.10,241.56 451.92,241.97 452.79,242.26 453.69,242.44 454.60,242.50 455.51,242.44 456.41,242.26 457.28,241.97 458.10,241.56 458.86,241.05 459.55,240.45 460.15,239.76 460.66,239.00 461.07,238.18 461.36,237.31 461.54,236.41 461.60,235.50 461.54,234.59 461.36,233.69 461.07,232.82 460.66,232.00 460.15,231.24 459.55,230.55 458.86,229.95 458.10,229.44 457.28,229.03 456.41,228.74 455.51,228.56 454.60,228.50 453.69,228.56 452.79,228.74 451.92,229.03 451.10,229.44 450.34,229.95 449.65,230.55 449.05,231.24 448.54,232.00ZM460.56,236.98 460.42,237.65 460.20,238.29 459.90,238.90 459.53,239.47 459.08,239.98 458.57,240.43 458.00,240.80 457.39,241.10 456.75,241.32 456.08,241.46 455.40,241.50 454.72,241.46 454.05,241.32 453.41,241.10 452.80,240.80 452.23,240.43 451.72,239.98 451.27,239.47 450.90,238.90 450.60,238.29 450.38,237.65 450.24,236.98 450.20,236.30 450.24,235.62 450.38,234.95 450.60,234.31 450.90,233.70 451.27,233.13 451.72,232.62 452.23,232.17 452.80,231.80 453.41,231.50 454.05,231.28 454.72,231.14 455.40,231.10 456.08,231.14 456.75,231.28 457.39,231.50 458.00,231.80 458.57,232.17 459.08,232.62 459.53,233.13 459.90,233.70 460.20,234.31 460.42,234.95 460.56,235.62 460.60,236.30ZM448.54,251.44 448.13,252.26 447.84,253.13 447.66,254.03 447.60,254.94 447.66,255.85 447.84,256.75 448.13,257.62 448.54,258.44 449.05,259.20 449.65,259.89 450.34,260.49 451.10,261.00 451.92,261.41 452.79,261.70 453.69,261.88 454.60,261.94 455.51,261.88 456.41,261.70 457.28,261.41 458.10,261.00 458.86,260.49 459.55,259.89 460.15,259.20 460.66,258.44 461.07,257.62 461.36,256.75 461.54,255.85 461.60,254.94 461.54,254.03 461.36,253.13 461.07,252.26 460.66,251.44 460.15,250.68 459.55,249.99 458.86,249.39 458.10,248.88 457.28,248.47 456.41,248.18 455.51,248.00 454.60,247.94 453.69,248.00 452.79,248.18 451.92,248.47 451.10,248.88 450.34,249.39 449.65,249.99 449.05,250.68ZM460.60,255.74 460.56,256.42 460.42,257.09 460.20,257.73 459.90,258.34 459.53,258.91 459.08,259.42 458.57,259.87 458.00,260.24 457.39,260.54 456.75,260.76 456.08,260.90 455.40,260.94 454.72,260.90 454.05,260.76 453.41,260.54 452.80,260.24 452.23,259.87 451.72,259.42 451.27,258.91 450.90,258.34 450.60,257.73 450.38,257.09 450.24,256.42 450.20,255.74 450.24,255.06 450.38,254.39 450.60,253.75 450.90,253.14 451.27,252.57 451.72,252.06 452.23,251.61 452.80,251.24 453.41,250.94 454.05,250.72 454.72,250.58 455.40,250.54 456.08,250.58 456.75,250.72 457.39,250.94 458.00,251.24 458.57,251.61 459.08,252.06 459.53,252.57 459.90,253.14 460.20,253.75 460.42,254.39 460.56,255.06ZM449.05,298.94 448.54,299.70 448.13,300.52 447.84,301.39 447.66,302.29 447.60,303.20 447.66,304.11 447.84,305.01 448.13,305.88 448.54,306.70 449.05,307.46 449.65,308.15 450.34,308.75 451.10,309.26 451.92,309.67 452.79,309.96 453.69,310.14 454.60,310.20 455.51,310.14 456.41,309.96 457.28,309.67 458.10,309.26 458.86,308.75 459.55,308.15 460.15,307.46 460.66,306.70 461.07,305.88 461.36,305.01 461.54,304.11 461.60,303.20 461.54,302.29 461.36,301.39 461.07,300.52 460.66,299.70 460.15,298.94 459.55,298.25 458.86,297.65 458.10,297.14 457.28,296.73 456.41,296.44 455.51,296.26 454.60,296.20 453.69,296.26 452.79,296.44 451.92,296.73 451.10,297.14 450.34,297.65 449.65,298.25ZM460.56,303.32 460.60,304.00 460.56,304.68 460.42,305.35 460.20,305.99 459.90,306.60 459.53,307.17 459.08,307.68 458.57,308.13 458.00,308.50 457.39,308.80 456.75,309.02 456.08,309.16 455.40,309.20 454.72,309.16 454.05,309.02 453.41,308.80 452.80,308.50 452.23,308.13 451.72,307.68 451.27,307.17 450.90,306.60 450.60,305.99 450.38,305.35 450.24,304.68 450.20,304.00 450.24,303.32 450.38,302.65 450.60,302.01 450.90,301.40 451.27,300.83 451.72,300.32 452.23,299.87 452.80,299.50 453.41,299.20 454.05,298.98 454.72,298.84 455.40,298.80 456.08,298.84 456.75,298.98 457.39,299.20 458.00,299.50 458.57,299.87 459.08,300.32 459.53,300.83 459.90,301.40 460.20,302.01 460.42,302.65ZM270.97,476.10 270.46,475.34 269.86,474.65 269.17,474.05 268.41,473.54 267.59,473.13 266.72,472.84 265.82,472.66 264.91,472.60 264.00,472.66 263.10,472.84 262.23,473.13 261.41,473.54 260.65,474.05 259.96,474.65 259.36,475.34 258.85,476.10 258.44,476.92 258.15,477.79 257.97,478.69 257.91,479.60 257.97,480.51 258.15,481.41 258.44,482.28 258.85,483.10 259.36,483.86 259.96,484.55 260.65,485.15 261.41,485.66 262.23,486.07 263.10,486.36 264.00,486.54 264.91,486.60 265.82,486.54 266.72,486.36 267.59,486.07 268.41,485.66 269.17,485.15 269.86,484.55 270.46,483.86 270.97,483.10 271.38,482.28 271.67,481.41 271.85,480.51 271.91,479.60 271.85,478.69 271.67,477.79 271.38,476.92ZM263.11,475.90 263.72,475.60 264.36,475.38 265.03,475.24 265.71,475.20 266.39,475.24 267.06,475.38 267.70,475.60 268.31,475.90 268.88,476.27 269.39,476.72 269.84,477.23 270.21,477.80 270.51,478.41 270.73,479.05 270.87,479.72 270.91,480.40 270.87,481.08 270.73,481.75 270.51,482.39 270.21,483.00 269.84,483.57 269.39,484.08 268.88,484.53 268.31,484.90 267.70,485.20 267.06,485.42 266.39,485.56 265.71,485.60 265.03,485.56 264.36,485.42 263.72,485.20 263.11,484.90 262.54,484.53 262.03,484.08 261.58,483.57 261.21,483.00 260.91,482.39 260.69,481.75 260.55,481.08 260.51,480.40 260.55,479.72 260.69,479.05 260.91,478.41 261.21,477.80 261.58,477.23 262.03,476.72 262.54,476.27ZM435.98,482.28 436.27,481.41 436.45,480.51 436.51,479.60 436.45,478.69 436.27,477.79 435.98,476.92 435.57,476.10 435.06,475.34 434.46,474.65 433.77,474.05 433.01,473.54 432.19,473.13 431.32,472.84 430.42,472.66 429.51,472.60 428.60,472.66 427.70,472.84 426.83,473.13 426.01,473.54 425.25,474.05 424.56,474.65 423.96,475.34 423.45,476.10 423.04,476.92 422.75,477.79 422.57,478.69 422.51,479.60 422.57,480.51 422.75,481.41 423.04,482.28 423.45,483.10 423.96,483.86 424.56,484.55 425.25,485.15 426.01,485.66 426.83,486.07 427.70,486.36 428.60,486.54 429.51,486.60 430.42,486.54 431.32,486.36 432.19,486.07 433.01,485.66 433.77,485.15 434.46,484.55 435.06,483.86 435.57,483.10ZM425.15,479.72 425.29,479.05 425.51,478.41 425.81,477.80 426.18,477.23 426.63,476.72 427.14,476.27 427.71,475.90 428.32,475.60 428.96,475.38 429.63,475.24 430.31,475.20 430.99,475.24 431.66,475.38 432.30,475.60 432.91,475.90 433.48,476.27 433.99,476.72 434.44,477.23 434.81,477.80 435.11,478.41 435.33,479.05 435.47,479.72 435.51,480.40 435.47,481.08 435.33,481.75 435.11,482.39 434.81,483.00 434.44,483.57 433.99,484.08 433.48,484.53 432.91,484.90 432.30,485.20 431.66,485.42 430.99,485.56 430.31,485.60 429.63,485.56 428.96,485.42 428.32,485.20 427.71,484.90 427.14,484.53 426.63,484.08 426.18,483.57 425.81,483.00 425.51,482.39 425.29,481.75 425.15,481.08 425.11,480.40ZM135.80,472.70 122.00,472.70 122.00,486.50 135.80,486.50ZM124.50,480.40 124.54,479.72 124.68,479.05 124.90,478.41 125.20,477.80 125.57,477.23 126.02,476.72 126.53,476.27 127.10,475.90 127.71,475.60 128.35,475.38 129.02,475.24 129.70,475.20 130.38,475.24 131.05,475.38 131.69,475.60 132.30,475.90 132.87,476.27 133.38,476.72 133.83,477.23 134.20,477.80 134.50,478.41 134.72,479.05 134.86,479.72 134.90,480.40 134.86,481.08 134.72,481.75 134.50,482.39 134.20,483.00 133.83,483.57 133.38,484.08 132.87,484.53 132.30,484.90 131.69,485.20 131.05,485.42 130.38,485.56 129.70,485.60 129.02,485.56 128.35,485.42 127.71,485.20 127.10,484.90 126.53,484.53 126.02,484.08 125.57,483.57 125.20,483.00 124.90,482.39 124.68,481.75 124.54,481.08ZM300.40,486.50 300.40,472.70 286.60,472.70 286.60,486.50ZM289.14,481.08 289.10,480.40 289.14,479.72 289.28,479.05 289.50,478.41 289.80,477.80 290.17,477.23 290.62,476.72 291.13,476.27 291.70,475.90 292.31,475.60 292.95,475.38 293.62,475.24 294.30,475.20 294.98,475.24 295.65,475.38 296.29,475.60 296.90,475.90 297.47,476.27 297.98,476.72 298.43,477.23 298.80,477.80 299.10,478.41 299.32,479.05 299.46,479.72 299.50,480.40 299.46,481.08 299.32,481.75 299.10,482.39 298.80,483.00 298.43,483.57 297.98,484.08 297.47,484.53 296.90,484.90 296.29,485.20 295.65,485.42 294.98,485.56 294.30,485.60 293.62,485.56 292.95,485.42 292.31,485.20 291.70,484.90 291.13,484.53 290.62,484.08 290.17,483.57 289.80,483.00 289.50,482.39 289.28,481.75ZM469.90,202.00 463.60,202.00 459.00,206.50 463.60,211.00 467.20,211.00 467.20,206.50ZM459.00,226.40 465.40,233.70 467.20,233.70 469.00,229.20 473.50,228.30 469.00,222.00 464.50,222.00 460.78,224.98 460.00,224.98 460.00,225.60ZM465.60,256.00 461.00,262.00 465.60,264.00 465.60,286.20 467.10,286.20 467.10,255.40 465.60,255.40ZM460.00,312.10 460.00,312.24 459.60,312.70 460.00,313.02 460.00,313.70 460.84,313.70 463.20,315.60 466.10,317.00 477.60,305.50 477.60,300.40 476.20,299.70 472.60,304.70 464.60,304.70 464.60,306.90 460.12,312.10ZM498.60,301.10 492.10,296.80 492.00,293.20 491.00,293.20 491.00,298.50 488.50,299.70 489.20,308.40ZM460.00,331.50 460.00,331.73 459.60,332.20 460.00,332.53 460.00,333.10 460.67,333.10 463.90,335.80 469.00,327.10 463.90,327.10 460.19,331.50ZM493.50,319.90 497.10,320.60 500.80,325.00 502.20,322.80 498.60,318.50 498.60,315.60ZM466.10,347.40 460.16,350.90 460.00,350.90 460.00,350.99 458.80,351.70 463.90,355.30 466.80,356.00ZM492.00,412.10 492.00,380.30 491.00,380.30 491.00,412.10ZM465.30,365.90 460.38,370.30 460.00,370.30 460.00,370.64 459.60,371.00 460.00,371.34 460.00,371.90 460.65,371.90 464.60,375.30 465.30,381.10 468.20,373.80 473.30,373.10ZM461.70,427.00 465.40,429.50 465.40,448.30 466.90,448.30 466.90,420.10 465.40,420.10 465.40,422.30ZM444.00,446.80 444.00,433.00 443.00,433.00 443.00,446.80ZM489.76,130.28 489.64,130.89 489.60,131.50 489.64,132.11 489.76,132.72 489.96,133.30 490.23,133.85 490.57,134.36 490.98,134.82 491.44,135.23 491.95,135.57 492.50,135.84 493.08,136.04 493.69,136.16 494.30,136.20 494.91,136.16 495.52,136.04 496.10,135.84 496.65,135.57 497.16,135.23 497.62,134.82 498.03,134.36 498.37,133.85 498.64,133.30 498.84,132.72 498.96,132.11 499.00,131.50 498.96,130.89 498.84,130.28 498.64,129.70 498.37,129.15 498.03,128.64 497.62,128.18 497.16,127.77 496.65,127.43 496.10,127.16 495.52,126.96 494.91,126.84 494.30,126.80 493.69,126.84 493.08,126.96 492.50,127.16 491.95,127.43 491.44,127.77 490.98,128.18 490.57,128.64 490.23,129.15 489.96,129.70ZM492.97,132.87 492.92,132.59 492.90,132.30 492.92,132.01 492.97,131.73 493.07,131.46 493.19,131.20 493.35,130.96 493.54,130.74 493.76,130.55 494.00,130.39 494.26,130.27 494.53,130.17 494.81,130.12 495.10,130.10 495.39,130.12 495.67,130.17 495.94,130.27 496.20,130.39 496.44,130.55 496.66,130.74 496.85,130.96 497.01,131.20 497.13,131.46 497.23,131.73 497.28,132.01 497.30,132.30 497.28,132.59 497.23,132.87 497.13,133.14 497.01,133.40 496.85,133.64 496.66,133.86 496.44,134.05 496.20,134.21 495.94,134.33 495.67,134.43 495.39,134.48 495.10,134.50 494.81,134.48 494.53,134.43 494.26,134.33 494.00,134.21 493.76,134.05 493.54,133.86 493.35,133.64 493.19,133.40 493.07,133.14ZM506.26,166.00 506.06,166.58 505.94,167.19 505.90,167.80 505.94,168.41 506.06,169.02 506.26,169.60 506.53,170.15 506.87,170.66 507.28,171.12 507.74,171.53 508.25,171.87 508.80,172.14 509.38,172.34 509.99,172.46 510.60,172.50 511.21,172.46 511.82,172.34 512.40,172.14 512.95,171.87 513.46,171.53 513.92,171.12 514.33,170.66 514.67,170.15 514.94,169.60 515.14,169.02 515.26,168.41 515.30,167.80 515.26,167.19 515.14,166.58 514.94,166.00 514.67,165.45 514.33,164.94 513.92,164.48 513.46,164.07 512.95,163.73 512.40,163.46 511.82,163.26 511.21,163.14 510.60,163.10 509.99,163.14 509.38,163.26 508.80,163.46 508.25,163.73 507.74,164.07 507.28,164.48 506.87,164.94 506.53,165.45ZM509.37,169.44 509.27,169.17 509.22,168.89 509.20,168.60 509.22,168.31 509.27,168.03 509.37,167.76 509.49,167.50 509.65,167.26 509.84,167.04 510.06,166.85 510.30,166.69 510.56,166.57 510.83,166.47 511.11,166.42 511.40,166.40 511.69,166.42 511.97,166.47 512.24,166.57 512.50,166.69 512.74,166.85 512.96,167.04 513.15,167.26 513.31,167.50 513.43,167.76 513.53,168.03 513.58,168.31 513.60,168.60 513.58,168.89 513.53,169.17 513.43,169.44 513.31,169.70 513.15,169.94 512.96,170.16 512.74,170.35 512.50,170.51 512.24,170.63 511.97,170.73 511.69,170.78 511.40,170.80 511.11,170.78 510.83,170.73 510.56,170.63 510.30,170.51 510.06,170.35 509.84,170.16 509.65,169.94 509.49,169.70ZM521.73,165.45 521.46,166.00 521.26,166.58 521.14,167.19 521.10,167.80 521.14,168.41 521.26,169.02 521.46,169.60 521.73,170.15 522.07,170.66 522.48,171.12 522.94,171.53 523.45,171.87 524.00,172.14 524.58,172.34 525.19,172.46 525.80,172.50 526.41,172.46 527.02,172.34 527.60,172.14 528.15,171.87 528.66,171.53 529.12,171.12 529.53,170.66 529.87,170.15 530.14,169.60 530.34,169.02 530.46,168.41 530.50,167.80 530.46,167.19 530.34,166.58 530.14,166.00 529.87,165.45 529.53,164.94 529.12,164.48 528.66,164.07 528.15,163.73 527.60,163.46 527.02,163.26 526.41,163.14 525.80,163.10 525.19,163.14 524.58,163.26 524.00,163.46 523.45,163.73 522.94,164.07 522.48,164.48 522.07,164.94ZM524.69,169.70 524.57,169.44 524.47,169.17 524.42,168.89 524.40,168.60 524.42,168.31 524.47,168.03 524.57,167.76 524.69,167.50 524.85,167.26 525.04,167.04 525.26,166.85 525.50,166.69 525.76,166.57 526.03,166.47 526.31,166.42 526.60,166.40 526.89,166.42 527.17,166.47 527.44,166.57 527.70,166.69 527.94,166.85 528.16,167.04 528.35,167.26 528.51,167.50 528.63,167.76 528.73,168.03 528.78,168.31 528.80,168.60 528.78,168.89 528.73,169.17 528.63,169.44 528.51,169.70 528.35,169.94 528.16,170.16 527.94,170.35 527.70,170.51 527.44,170.63 527.17,170.73 526.89,170.78 526.60,170.80 526.31,170.78 526.03,170.73 525.76,170.63 525.50,170.51 525.26,170.35 525.04,170.16 524.85,169.94ZM512.67,218.04 512.33,218.55 512.06,219.10 511.86,219.68 511.74,220.29 511.70,220.90 511.74,221.51 511.86,222.12 512.06,222.70 512.33,223.25 512.67,223.76 513.08,224.22 513.54,224.63 514.05,224.97 514.60,225.24 515.18,225.44 515.79,225.56 516.40,225.60 517.01,225.56 517.62,225.44 518.20,225.24 518.75,224.97 519.26,224.63 519.72,224.22 520.13,223.76 520.47,223.25 520.74,222.70 520.94,222.12 521.06,221.51 521.10,220.90 521.06,220.29 520.94,219.68 520.74,219.10 520.47,218.55 520.13,218.04 519.72,217.58 519.26,217.17 518.75,216.83 518.20,216.56 517.62,216.36 517.01,216.24 516.40,216.20 515.79,216.24 515.18,216.36 514.60,216.56 514.05,216.83 513.54,217.17 513.08,217.58ZM515.64,223.26 515.45,223.04 515.29,222.80 515.17,222.54 515.07,222.27 515.02,221.99 515.00,221.70 515.02,221.41 515.07,221.13 515.17,220.86 515.29,220.60 515.45,220.36 515.64,220.14 515.86,219.95 516.10,219.79 516.36,219.67 516.63,219.57 516.91,219.52 517.20,219.50 517.49,219.52 517.77,219.57 518.04,219.67 518.30,219.79 518.54,219.95 518.76,220.14 518.95,220.36 519.11,220.60 519.23,220.86 519.33,221.13 519.38,221.41 519.40,221.70 519.38,221.99 519.33,222.27 519.23,222.54 519.11,222.80 518.95,223.04 518.76,223.26 518.54,223.45 518.30,223.61 518.04,223.73 517.77,223.83 517.49,223.88 517.20,223.90 516.91,223.88 516.63,223.83 516.36,223.73 516.10,223.61 515.86,223.45ZM528.08,217.58 527.67,218.04 527.33,218.55 527.06,219.10 526.86,219.68 526.74,220.29 526.70,220.90 526.74,221.51 526.86,222.12 527.06,222.70 527.33,223.25 527.67,223.76 528.08,224.22 528.54,224.63 529.05,224.97 529.60,225.24 530.18,225.44 530.79,225.56 531.40,225.60 532.01,225.56 532.62,225.44 533.20,225.24 533.75,224.97 534.26,224.63 534.72,224.22 535.13,223.76 535.47,223.25 535.74,222.70 535.94,222.12 536.06,221.51 536.10,220.90 536.06,220.29 535.94,219.68 535.74,219.10 535.47,218.55 535.13,218.04 534.72,217.58 534.26,217.17 533.75,216.83 533.20,216.56 532.62,216.36 532.01,216.24 531.40,216.20 530.79,216.24 530.18,216.36 529.60,216.56 529.05,216.83 528.54,217.17ZM530.86,223.45 530.64,223.26 530.45,223.04 530.29,222.80 530.17,222.54 530.07,222.27 530.02,221.99 530.00,221.70 530.02,221.41 530.07,221.13 530.17,220.86 530.29,220.60 530.45,220.36 530.64,220.14 530.86,219.95 531.10,219.79 531.36,219.67 531.63,219.57 531.91,219.52 532.20,219.50 532.49,219.52 532.77,219.57 533.04,219.67 533.30,219.79 533.54,219.95 533.76,220.14 533.95,220.36 534.11,220.60 534.23,220.86 534.33,221.13 534.38,221.41 534.40,221.70 534.38,221.99 534.33,222.27 534.23,222.54 534.11,222.80 533.95,223.04 533.76,223.26 533.54,223.45 533.30,223.61 533.04,223.73 532.77,223.83 532.49,223.88 532.20,223.90 531.91,223.88 531.63,223.83 531.36,223.73 531.10,223.61ZM549.35,284.63 548.84,284.97 548.38,285.38 547.97,285.84 547.63,286.35 547.36,286.90 547.16,287.48 547.04,288.09 547.00,288.70 547.04,289.31 547.16,289.92 547.36,290.50 547.63,291.05 547.97,291.56 548.38,292.02 548.84,292.43 549.35,292.77 549.90,293.04 550.48,293.24 551.09,293.36 551.70,293.40 552.31,293.36 552.92,293.24 553.50,293.04 554.05,292.77 554.56,292.43 555.02,292.02 555.43,291.56 555.77,291.05 556.04,290.50 556.24,289.92 556.36,289.31 556.40,288.70 556.36,288.09 556.24,287.48 556.04,286.90 555.77,286.35 555.43,285.84 555.02,285.38 554.56,284.97 554.05,284.63 553.50,284.36 552.92,284.16 552.31,284.04 551.70,284.00 551.09,284.04 550.48,284.16 549.90,284.36ZM551.66,291.53 551.40,291.41 551.16,291.25 550.94,291.06 550.75,290.84 550.59,290.60 550.47,290.34 550.37,290.07 550.32,289.79 550.30,289.50 550.32,289.21 550.37,288.93 550.47,288.66 550.59,288.40 550.75,288.16 550.94,287.94 551.16,287.75 551.40,287.59 551.66,287.47 551.93,287.37 552.21,287.32 552.50,287.30 552.79,287.32 553.07,287.37 553.34,287.47 553.60,287.59 553.84,287.75 554.06,287.94 554.25,288.16 554.41,288.40 554.53,288.66 554.63,288.93 554.68,289.21 554.70,289.50 554.68,289.79 554.63,290.07 554.53,290.34 554.41,290.60 554.25,290.84 554.06,291.06 553.84,291.25 553.60,291.41 553.34,291.53 553.07,291.63 552.79,291.68 552.50,291.70 552.21,291.68 551.93,291.63ZM549.35,299.83 548.84,300.17 548.38,300.58 547.97,301.04 547.63,301.55 547.36,302.10 547.16,302.68 547.04,303.29 547.00,303.90 547.04,304.51 547.16,305.12 547.36,305.70 547.63,306.25 547.97,306.76 548.38,307.22 548.84,307.63 549.35,307.97 549.90,308.24 550.48,308.44 551.09,308.56 551.70,308.60 552.31,308.56 552.92,308.44 553.50,308.24 554.05,307.97 554.56,307.63 555.02,307.22 555.43,306.76 555.77,306.25 556.04,305.70 556.24,305.12 556.36,304.51 556.40,303.90 556.36,303.29 556.24,302.68 556.04,302.10 555.77,301.55 555.43,301.04 555.02,300.58 554.56,300.17 554.05,299.83 553.50,299.56 552.92,299.36 552.31,299.24 551.70,299.20 551.09,299.24 550.48,299.36 549.90,299.56ZM551.93,306.83 551.66,306.73 551.40,306.61 551.16,306.45 550.94,306.26 550.75,306.04 550.59,305.80 550.47,305.54 550.37,305.27 550.32,304.99 550.30,304.70 550.32,304.41 550.37,304.13 550.47,303.86 550.59,303.60 550.75,303.36 550.94,303.14 551.16,302.95 551.40,302.79 551.66,302.67 551.93,302.57 552.21,302.52 552.50,302.50 552.79,302.52 553.07,302.57 553.34,302.67 553.60,302.79 553.84,302.95 554.06,303.14 554.25,303.36 554.41,303.60 554.53,303.86 554.63,304.13 554.68,304.41 554.70,304.70 554.68,304.99 554.63,305.27 554.53,305.54 554.41,305.80 554.25,306.04 554.06,306.26 553.84,306.45 553.60,306.61 553.34,306.73 553.07,306.83 552.79,306.88 552.50,306.90 552.21,306.88ZM535.19,347.54 534.58,347.66 534.00,347.86 533.45,348.13 532.94,348.47 532.48,348.88 532.07,349.34 531.73,349.85 531.46,350.40 531.26,350.98 531.14,351.59 531.10,352.20 531.14,352.81 531.26,353.42 531.46,354.00 531.73,354.55 532.07,355.06 532.48,355.52 532.94,355.93 533.45,356.27 534.00,356.54 534.58,356.74 535.19,356.86 535.80,356.90 536.41,356.86 537.02,356.74 537.60,356.54 538.15,356.27 538.66,355.93 539.12,355.52 539.53,355.06 539.87,354.55 540.14,354.00 540.34,353.42 540.46,352.81 540.50,352.20 540.46,351.59 540.34,350.98 540.14,350.40 539.87,349.85 539.53,349.34 539.12,348.88 538.66,348.47 538.15,348.13 537.60,347.86 537.02,347.66 536.41,347.54 535.80,347.50ZM536.89,355.18 536.60,355.20 536.31,355.18 536.03,355.13 535.76,355.03 535.50,354.91 535.26,354.75 535.04,354.56 534.85,354.34 534.69,354.10 534.57,353.84 534.47,353.57 534.42,353.29 534.40,353.00 534.42,352.71 534.47,352.43 534.57,352.16 534.69,351.90 534.85,351.66 535.04,351.44 535.26,351.25 535.50,351.09 535.76,350.97 536.03,350.87 536.31,350.82 536.60,350.80 536.89,350.82 537.17,350.87 537.44,350.97 537.70,351.09 537.94,351.25 538.16,351.44 538.35,351.66 538.51,351.90 538.63,352.16 538.73,352.43 538.78,352.71 538.80,353.00 538.78,353.29 538.73,353.57 538.63,353.84 538.51,354.10 538.35,354.34 538.16,354.56 537.94,354.75 537.70,354.91 537.44,355.03 537.17,355.13ZM540.61,387.74 540.00,387.70 539.39,387.74 538.78,387.86 538.20,388.06 537.65,388.33 537.14,388.67 536.68,389.08 536.27,389.54 535.93,390.05 535.66,390.60 535.46,391.18 535.34,391.79 535.30,392.40 535.34,393.01 535.46,393.62 535.66,394.20 535.93,394.75 536.27,395.26 536.68,395.72 537.14,396.13 537.65,396.47 538.20,396.74 538.78,396.94 539.39,397.06 540.00,397.10 540.61,397.06 541.22,396.94 541.80,396.74 542.35,396.47 542.86,396.13 543.32,395.72 543.73,395.26 544.07,394.75 544.34,394.20 544.54,393.62 544.66,393.01 544.70,392.40 544.66,391.79 544.54,391.18 544.34,390.60 544.07,390.05 543.73,389.54 543.32,389.08 542.86,388.67 542.35,388.33 541.80,388.06 541.22,387.86ZM541.64,395.23 541.37,395.33 541.09,395.38 540.80,395.40 540.51,395.38 540.23,395.33 539.96,395.23 539.70,395.11 539.46,394.95 539.24,394.76 539.05,394.54 538.89,394.30 538.77,394.04 538.67,393.77 538.62,393.49 538.60,393.20 538.62,392.91 538.67,392.63 538.77,392.36 538.89,392.10 539.05,391.86 539.24,391.64 539.46,391.45 539.70,391.29 539.96,391.17 540.23,391.07 540.51,391.02 540.80,391.00 541.09,391.02 541.37,391.07 541.64,391.17 541.90,391.29 542.14,391.45 542.36,391.64 542.55,391.86 542.71,392.10 542.83,392.36 542.93,392.63 542.98,392.91 543.00,393.20 542.98,393.49 542.93,393.77 542.83,394.04 542.71,394.30 542.55,394.54 542.36,394.76 542.14,394.95 541.90,395.11ZM493.82,90.66 493.21,90.54 492.60,90.50 491.99,90.54 491.38,90.66 490.80,90.86 490.25,91.13 489.74,91.47 489.28,91.88 488.87,92.34 488.53,92.85 488.26,93.40 488.06,93.98 487.94,94.59 487.90,95.20 487.94,95.81 488.06,96.42 488.26,97.00 488.53,97.55 488.87,98.06 489.28,98.52 489.74,98.93 490.25,99.27 490.80,99.54 491.38,99.74 491.99,99.86 492.60,99.90 493.21,99.86 493.82,99.74 494.40,99.54 494.95,99.27 495.46,98.93 495.92,98.52 496.33,98.06 496.67,97.55 496.94,97.00 497.14,96.42 497.26,95.81 497.30,95.20 497.26,94.59 497.14,93.98 496.94,93.40 496.67,92.85 496.33,92.34 495.92,91.88 495.46,91.47 494.95,91.13 494.40,90.86ZM494.50,97.91 494.24,98.03 493.97,98.13 493.69,98.18 493.40,98.20 493.11,98.18 492.83,98.13 492.56,98.03 492.30,97.91 492.06,97.75 491.84,97.56 491.65,97.34 491.49,97.10 491.37,96.84 491.27,96.57 491.22,96.29 491.20,96.00 491.22,95.71 491.27,95.43 491.37,95.16 491.49,94.90 491.65,94.66 491.84,94.44 492.06,94.25 492.30,94.09 492.56,93.97 492.83,93.87 493.11,93.82 493.40,93.80 493.69,93.82 493.97,93.87 494.24,93.97 494.50,94.09 494.74,94.25 494.96,94.44 495.15,94.66 495.31,94.90 495.43,95.16 495.53,95.43 495.58,95.71 495.60,96.00 495.58,96.29 495.53,96.57 495.43,96.84 495.31,97.10 495.15,97.34 494.96,97.56 494.74,97.75ZM592.40,90.86 591.82,90.66 591.21,90.54 590.60,90.50 589.99,90.54 589.38,90.66 588.80,90.86 588.25,91.13 587.74,91.47 587.28,91.88 586.87,92.34 586.53,92.85 586.26,93.40 586.06,93.98 585.94,94.59 585.90,95.20 585.94,95.81 586.06,96.42 586.26,97.00 586.53,97.55 586.87,98.06 587.28,98.52 587.74,98.93 588.25,99.27 588.80,99.54 589.38,99.74 589.99,99.86 590.60,99.90 591.21,99.86 591.82,99.74 592.40,99.54 592.95,99.27 593.46,98.93 593.92,98.52 594.33,98.06 594.67,97.55 594.94,97.00 595.14,96.42 595.26,95.81 595.30,95.20 595.26,94.59 595.14,93.98 594.94,93.40 594.67,92.85 594.33,92.34 593.92,91.88 593.46,91.47 592.95,91.13ZM592.74,97.75 592.50,97.91 592.24,98.03 591.97,98.13 591.69,98.18 591.40,98.20 591.11,98.18 590.83,98.13 590.56,98.03 590.30,97.91 590.06,97.75 589.84,97.56 589.65,97.34 589.49,97.10 589.37,96.84 589.27,96.57 589.22,96.29 589.20,96.00 589.22,95.71 589.27,95.43 589.37,95.16 589.49,94.90 589.65,94.66 589.84,94.44 590.06,94.25 590.30,94.09 590.56,93.97 590.83,93.87 591.11,93.82 591.40,93.80 591.69,93.82 591.97,93.87 592.24,93.97 592.50,94.09 592.74,94.25 592.96,94.44 593.15,94.66 593.31,94.90 593.43,95.16 593.53,95.43 593.58,95.71 593.60,96.00 593.58,96.29 593.53,96.57 593.43,96.84 593.31,97.10 593.15,97.34 592.96,97.56ZM593.60,126.56 593.02,126.36 592.41,126.24 591.80,126.20 591.19,126.24 590.58,126.36 590.00,126.56 589.45,126.83 588.94,127.17 588.48,127.58 588.07,128.04 587.73,128.55 587.46,129.10 587.26,129.68 587.14,130.29 587.10,130.90 587.14,131.51 587.26,132.12 587.46,132.70 587.73,133.25 588.07,133.76 588.48,134.22 588.94,134.63 589.45,134.97 590.00,135.24 590.58,135.44 591.19,135.56 591.80,135.60 592.41,135.56 593.02,135.44 593.60,135.24 594.15,134.97 594.66,134.63 595.12,134.22 595.53,133.76 595.87,133.25 596.14,132.70 596.34,132.12 596.46,131.51 596.50,130.90 596.46,130.29 596.34,129.68 596.14,129.10 595.87,128.55 595.53,128.04 595.12,127.58 594.66,127.17 594.15,126.83ZM594.16,133.26 593.94,133.45 593.70,133.61 593.44,133.73 593.17,133.83 592.89,133.88 592.60,133.90 592.31,133.88 592.03,133.83 591.76,133.73 591.50,133.61 591.26,133.45 591.04,133.26 590.85,133.04 590.69,132.80 590.57,132.54 590.47,132.27 590.42,131.99 590.40,131.70 590.42,131.41 590.47,131.13 590.57,130.86 590.69,130.60 590.85,130.36 591.04,130.14 591.26,129.95 591.50,129.79 591.76,129.67 592.03,129.57 592.31,129.52 592.60,129.50 592.89,129.52 593.17,129.57 593.44,129.67 593.70,129.79 593.94,129.95 594.16,130.14 594.35,130.36 594.51,130.60 594.63,130.86 594.73,131.13 594.78,131.41 594.80,131.70 594.78,131.99 594.73,132.27 594.63,132.54 594.51,132.80 594.35,133.04ZM589.15,217.83 588.60,217.56 588.02,217.36 587.41,217.24 586.80,217.20 586.19,217.24 585.58,217.36 585.00,217.56 584.45,217.83 583.94,218.17 583.48,218.58 583.07,219.04 582.73,219.55 582.46,220.10 582.26,220.68 582.14,221.29 582.10,221.90 582.14,222.51 582.26,223.12 582.46,223.70 582.73,224.25 583.07,224.76 583.48,225.22 583.94,225.63 584.45,225.97 585.00,226.24 585.58,226.44 586.19,226.56 586.80,226.60 587.41,226.56 588.02,226.44 588.60,226.24 589.15,225.97 589.66,225.63 590.12,225.22 590.53,224.76 590.87,224.25 591.14,223.70 591.34,223.12 591.46,222.51 591.50,221.90 591.46,221.29 591.34,220.68 591.14,220.10 590.87,219.55 590.53,219.04 590.12,218.58 589.66,218.17ZM589.35,224.04 589.16,224.26 588.94,224.45 588.70,224.61 588.44,224.73 588.17,224.83 587.89,224.88 587.60,224.90 587.31,224.88 587.03,224.83 586.76,224.73 586.50,224.61 586.26,224.45 586.04,224.26 585.85,224.04 585.69,223.80 585.57,223.54 585.47,223.27 585.42,222.99 585.40,222.70 585.42,222.41 585.47,222.13 585.57,221.86 585.69,221.60 585.85,221.36 586.04,221.14 586.26,220.95 586.50,220.79 586.76,220.67 587.03,220.57 587.31,220.52 587.60,220.50 587.89,220.52 588.17,220.57 588.44,220.67 588.70,220.79 588.94,220.95 589.16,221.14 589.35,221.36 589.51,221.60 589.63,221.86 589.73,222.13 589.78,222.41 589.80,222.70 589.78,222.99 589.73,223.27 589.63,223.54 589.51,223.80ZM635.46,218.17 634.95,217.83 634.40,217.56 633.82,217.36 633.21,217.24 632.60,217.20 631.99,217.24 631.38,217.36 630.80,217.56 630.25,217.83 629.74,218.17 629.28,218.58 628.87,219.04 628.53,219.55 628.26,220.10 628.06,220.68 627.94,221.29 627.90,221.90 627.94,222.51 628.06,223.12 628.26,223.70 628.53,224.25 628.87,224.76 629.28,225.22 629.74,225.63 630.25,225.97 630.80,226.24 631.38,226.44 631.99,226.56 632.60,226.60 633.21,226.56 633.82,226.44 634.40,226.24 634.95,225.97 635.46,225.63 635.92,225.22 636.33,224.76 636.67,224.25 636.94,223.70 637.14,223.12 637.26,222.51 637.30,221.90 637.26,221.29 637.14,220.68 636.94,220.10 636.67,219.55 636.33,219.04 635.92,218.58ZM635.31,223.80 635.15,224.04 634.96,224.26 634.74,224.45 634.50,224.61 634.24,224.73 633.97,224.83 633.69,224.88 633.40,224.90 633.11,224.88 632.83,224.83 632.56,224.73 632.30,224.61 632.06,224.45 631.84,224.26 631.65,224.04 631.49,223.80 631.37,223.54 631.27,223.27 631.22,222.99 631.20,222.70 631.22,222.41 631.27,222.13 631.37,221.86 631.49,221.60 631.65,221.36 631.84,221.14 632.06,220.95 632.30,220.79 632.56,220.67 632.83,220.57 633.11,220.52 633.40,220.50 633.69,220.52 633.97,220.57 634.24,220.67 634.50,220.79 634.74,220.95 634.96,221.14 635.15,221.36 635.31,221.60 635.43,221.86 635.53,222.13 635.58,222.41 635.60,222.70 635.58,222.99 635.53,223.27 635.43,223.54ZM589.66,253.17 589.15,252.83 588.60,252.56 588.02,252.36 587.41,252.24 586.80,252.20 586.19,252.24 585.58,252.36 585.00,252.56 584.45,252.83 583.94,253.17 583.48,253.58 583.07,254.04 582.73,254.55 582.46,255.10 582.26,255.68 582.14,256.29 582.10,256.90 582.14,257.51 582.26,258.12 582.46,258.70 582.73,259.25 583.07,259.76 583.48,260.22 583.94,260.63 584.45,260.97 585.00,261.24 585.58,261.44 586.19,261.56 586.80,261.60 587.41,261.56 588.02,261.44 588.60,261.24 589.15,260.97 589.66,260.63 590.12,260.22 590.53,259.76 590.87,259.25 591.14,258.70 591.34,258.12 591.46,257.51 591.50,256.90 591.46,256.29 591.34,255.68 591.14,255.10 590.87,254.55 590.53,254.04 590.12,253.58ZM589.63,258.54 589.51,258.80 589.35,259.04 589.16,259.26 588.94,259.45 588.70,259.61 588.44,259.73 588.17,259.83 587.89,259.88 587.60,259.90 587.31,259.88 587.03,259.83 586.76,259.73 586.50,259.61 586.26,259.45 586.04,259.26 585.85,259.04 585.69,258.80 585.57,258.54 585.47,258.27 585.42,257.99 585.40,257.70 585.42,257.41 585.47,257.13 585.57,256.86 585.69,256.60 585.85,256.36 586.04,256.14 586.26,255.95 586.50,255.79 586.76,255.67 587.03,255.57 587.31,255.52 587.60,255.50 587.89,255.52 588.17,255.57 588.44,255.67 588.70,255.79 588.94,255.95 589.16,256.14 589.35,256.36 589.51,256.60 589.63,256.86 589.73,257.13 589.78,257.41 589.80,257.70 589.78,257.99 589.73,258.27ZM590.12,274.38 589.66,273.97 589.15,273.63 588.60,273.36 588.02,273.16 587.41,273.04 586.80,273.00 586.19,273.04 585.58,273.16 585.00,273.36 584.45,273.63 583.94,273.97 583.48,274.38 583.07,274.84 582.73,275.35 582.46,275.90 582.26,276.48 582.14,277.09 582.10,277.70 582.14,278.31 582.26,278.92 582.46,279.50 582.73,280.05 583.07,280.56 583.48,281.02 583.94,281.43 584.45,281.77 585.00,282.04 585.58,282.24 586.19,282.36 586.80,282.40 587.41,282.36 588.02,282.24 588.60,282.04 589.15,281.77 589.66,281.43 590.12,281.02 590.53,280.56 590.87,280.05 591.14,279.50 591.34,278.92 591.46,278.31 591.50,277.70 591.46,277.09 591.34,276.48 591.14,275.90 590.87,275.35 590.53,274.84ZM589.73,279.07 589.63,279.34 589.51,279.60 589.35,279.84 589.16,280.06 588.94,280.25 588.70,280.41 588.44,280.53 588.17,280.63 587.89,280.68 587.60,280.70 587.31,280.68 587.03,280.63 586.76,280.53 586.50,280.41 586.26,280.25 586.04,280.06 585.85,279.84 585.69,279.60 585.57,279.34 585.47,279.07 585.42,278.79 585.40,278.50 585.42,278.21 585.47,277.93 585.57,277.66 585.69,277.40 585.85,277.16 586.04,276.94 586.26,276.75 586.50,276.59 586.76,276.47 587.03,276.37 587.31,276.32 587.60,276.30 587.89,276.32 588.17,276.37 588.44,276.47 588.70,276.59 588.94,276.75 589.16,276.94 589.35,277.16 589.51,277.40 589.63,277.66 589.73,277.93 589.78,278.21 589.80,278.50 589.78,278.79ZM636.33,254.04 635.92,253.58 635.46,253.17 634.95,252.83 634.40,252.56 633.82,252.36 633.21,252.24 632.60,252.20 631.99,252.24 631.38,252.36 630.80,252.56 630.25,252.83 629.74,253.17 629.28,253.58 628.87,254.04 628.53,254.55 628.26,255.10 628.06,255.68 627.94,256.29 627.90,256.90 627.94,257.51 628.06,258.12 628.26,258.70 628.53,259.25 628.87,259.76 629.28,260.22 629.74,260.63 630.25,260.97 630.80,261.24 631.38,261.44 631.99,261.56 632.60,261.60 633.21,261.56 633.82,261.44 634.40,261.24 634.95,260.97 635.46,260.63 635.92,260.22 636.33,259.76 636.67,259.25 636.94,258.70 637.14,258.12 637.26,257.51 637.30,256.90 637.26,256.29 637.14,255.68 636.94,255.10 636.67,254.55ZM635.58,257.99 635.53,258.27 635.43,258.54 635.31,258.80 635.15,259.04 634.96,259.26 634.74,259.45 634.50,259.61 634.24,259.73 633.97,259.83 633.69,259.88 633.40,259.90 633.11,259.88 632.83,259.83 632.56,259.73 632.30,259.61 632.06,259.45 631.84,259.26 631.65,259.04 631.49,258.80 631.37,258.54 631.27,258.27 631.22,257.99 631.20,257.70 631.22,257.41 631.27,257.13 631.37,256.86 631.49,256.60 631.65,256.36 631.84,256.14 632.06,255.95 632.30,255.79 632.56,255.67 632.83,255.57 633.11,255.52 633.40,255.50 633.69,255.52 633.97,255.57 634.24,255.67 634.50,255.79 634.74,255.95 634.96,256.14 635.15,256.36 635.31,256.60 635.43,256.86 635.53,257.13 635.58,257.41 635.60,257.70ZM636.67,275.35 636.33,274.84 635.92,274.38 635.46,273.97 634.95,273.63 634.40,273.36 633.82,273.16 633.21,273.04 632.60,273.00 631.99,273.04 631.38,273.16 630.80,273.36 630.25,273.63 629.74,273.97 629.28,274.38 628.87,274.84 628.53,275.35 628.26,275.90 628.06,276.48 627.94,277.09 627.90,277.70 627.94,278.31 628.06,278.92 628.26,279.50 628.53,280.05 628.87,280.56 629.28,281.02 629.74,281.43 630.25,281.77 630.80,282.04 631.38,282.24 631.99,282.36 632.60,282.40 633.21,282.36 633.82,282.24 634.40,282.04 634.95,281.77 635.46,281.43 635.92,281.02 636.33,280.56 636.67,280.05 636.94,279.50 637.14,278.92 637.26,278.31 637.30,277.70 637.26,277.09 637.14,276.48 636.94,275.90ZM635.60,278.50 635.58,278.79 635.53,279.07 635.43,279.34 635.31,279.60 635.15,279.84 634.96,280.06 634.74,280.25 634.50,280.41 634.24,280.53 633.97,280.63 633.69,280.68 633.40,280.70 633.11,280.68 632.83,280.63 632.56,280.53 632.30,280.41 632.06,280.25 631.84,280.06 631.65,279.84 631.49,279.60 631.37,279.34 631.27,279.07 631.22,278.79 631.20,278.50 631.22,278.21 631.27,277.93 631.37,277.66 631.49,277.40 631.65,277.16 631.84,276.94 632.06,276.75 632.30,276.59 632.56,276.47 632.83,276.37 633.11,276.32 633.40,276.30 633.69,276.32 633.97,276.37 634.24,276.47 634.50,276.59 634.74,276.75 634.96,276.94 635.15,277.16 635.31,277.40 635.43,277.66 635.53,277.93 635.58,278.21ZM591.14,310.10 590.87,309.55 590.53,309.04 590.12,308.58 589.66,308.17 589.15,307.83 588.60,307.56 588.02,307.36 587.41,307.24 586.80,307.20 586.19,307.24 585.58,307.36 585.00,307.56 584.45,307.83 583.94,308.17 583.48,308.58 583.07,309.04 582.73,309.55 582.46,310.10 582.26,310.68 582.14,311.29 582.10,311.90 582.14,312.51 582.26,313.12 582.46,313.70 582.73,314.25 583.07,314.76 583.48,315.22 583.94,315.63 584.45,315.97 585.00,316.24 585.58,316.44 586.19,316.56 586.80,316.60 587.41,316.56 588.02,316.44 588.60,316.24 589.15,315.97 589.66,315.63 590.12,315.22 590.53,314.76 590.87,314.25 591.14,313.70 591.34,313.12 591.46,312.51 591.50,311.90 591.46,311.29 591.34,310.68ZM589.78,312.41 589.80,312.70 589.78,312.99 589.73,313.27 589.63,313.54 589.51,313.80 589.35,314.04 589.16,314.26 588.94,314.45 588.70,314.61 588.44,314.73 588.17,314.83 587.89,314.88 587.60,314.90 587.31,314.88 587.03,314.83 586.76,314.73 586.50,314.61 586.26,314.45 586.04,314.26 585.85,314.04 585.69,313.80 585.57,313.54 585.47,313.27 585.42,312.99 585.40,312.70 585.42,312.41 585.47,312.13 585.57,311.86 585.69,311.60 585.85,311.36 586.04,311.14 586.26,310.95 586.50,310.79 586.76,310.67 587.03,310.57 587.31,310.52 587.60,310.50 587.89,310.52 588.17,310.57 588.44,310.67 588.70,310.79 588.94,310.95 589.16,311.14 589.35,311.36 589.51,311.60 589.63,311.86 589.73,312.13ZM637.14,310.68 636.94,310.10 636.67,309.55 636.33,309.04 635.92,308.58 635.46,308.17 634.95,307.83 634.40,307.56 633.82,307.36 633.21,307.24 632.60,307.20 631.99,307.24 631.38,307.36 630.80,307.56 630.25,307.83 629.74,308.17 629.28,308.58 628.87,309.04 628.53,309.55 628.26,310.10 628.06,310.68 627.94,311.29 627.90,311.90 627.94,312.51 628.06,313.12 628.26,313.70 628.53,314.25 628.87,314.76 629.28,315.22 629.74,315.63 630.25,315.97 630.80,316.24 631.38,316.44 631.99,316.56 632.60,316.60 633.21,316.56 633.82,316.44 634.40,316.24 634.95,315.97 635.46,315.63 635.92,315.22 636.33,314.76 636.67,314.25 636.94,313.70 637.14,313.12 637.26,312.51 637.30,311.90 637.26,311.29ZM635.53,312.13 635.58,312.41 635.60,312.70 635.58,312.99 635.53,313.27 635.43,313.54 635.31,313.80 635.15,314.04 634.96,314.26 634.74,314.45 634.50,314.61 634.24,314.73 633.97,314.83 633.69,314.88 633.40,314.90 633.11,314.88 632.83,314.83 632.56,314.73 632.30,314.61 632.06,314.45 631.84,314.26 631.65,314.04 631.49,313.80 631.37,313.54 631.27,313.27 631.22,312.99 631.20,312.70 631.22,312.41 631.27,312.13 631.37,311.86 631.49,311.60 631.65,311.36 631.84,311.14 632.06,310.95 632.30,310.79 632.56,310.67 632.83,310.57 633.11,310.52 633.40,310.50 633.69,310.52 633.97,310.57 634.24,310.67 634.50,310.79 634.74,310.95 634.96,311.14 635.15,311.36 635.31,311.60 635.43,311.86ZM638.96,351.79 638.84,351.18 638.64,350.60 638.37,350.05 638.03,349.54 637.62,349.08 637.16,348.67 636.65,348.33 636.10,348.06 635.52,347.86 634.91,347.74 634.30,347.70 633.69,347.74 633.08,347.86 632.50,348.06 631.95,348.33 631.44,348.67 630.98,349.08 630.57,349.54 630.23,350.05 629.96,350.60 629.76,351.18 629.64,351.79 629.60,352.40 629.64,353.01 629.76,353.62 629.96,354.20 630.23,354.75 630.57,355.26 630.98,355.72 631.44,356.13 631.95,356.47 632.50,356.74 633.08,356.94 633.69,357.06 634.30,357.10 634.91,357.06 635.52,356.94 636.10,356.74 636.65,356.47 637.16,356.13 637.62,355.72 638.03,355.26 638.37,354.75 638.64,354.20 638.84,353.62 638.96,353.01 639.00,352.40ZM637.13,352.36 637.23,352.63 637.28,352.91 637.30,353.20 637.28,353.49 637.23,353.77 637.13,354.04 637.01,354.30 636.85,354.54 636.66,354.76 636.44,354.95 636.20,355.11 635.94,355.23 635.67,355.33 635.39,355.38 635.10,355.40 634.81,355.38 634.53,355.33 634.26,355.23 634.00,355.11 633.76,354.95 633.54,354.76 633.35,354.54 633.19,354.30 633.07,354.04 632.97,353.77 632.92,353.49 632.90,353.20 632.92,352.91 632.97,352.63 633.07,352.36 633.19,352.10 633.35,351.86 633.54,351.64 633.76,351.45 634.00,351.29 634.26,351.17 634.53,351.07 634.81,351.02 635.10,351.00 635.39,351.02 635.67,351.07 635.94,351.17 636.20,351.29 636.44,351.45 636.66,351.64 636.85,351.86 637.01,352.10ZM505.25,361.63 504.74,361.97 504.28,362.38 503.91,362.79 503.26,363.36 502.68,364.02 502.20,364.75 501.81,365.54 501.53,366.37 501.36,367.23 501.30,368.10 501.36,368.97 501.53,369.83 501.81,370.66 502.20,371.45 502.68,372.18 503.26,372.84 503.92,373.42 504.65,373.90 505.44,374.29 506.27,374.57 507.13,374.74 508.00,374.80 508.87,374.74 509.73,374.57 510.56,374.29 511.35,373.90 512.08,373.42 512.74,372.84 513.32,372.18 513.80,371.45 514.19,370.66 514.47,369.83 514.64,368.97 514.70,368.10 514.64,367.23 514.47,366.37 514.19,365.54 513.80,364.75 513.32,364.02 512.74,363.36 512.08,362.78 511.35,362.30 510.56,361.91 510.17,361.78 509.95,361.63 509.40,361.36 508.82,361.16 508.21,361.04 507.60,361.00 506.99,361.04 506.38,361.16 505.80,361.36ZM511.30,364.57 511.84,364.93 512.34,365.36 512.77,365.86 513.13,366.40 513.42,366.99 513.63,367.61 513.76,368.25 513.80,368.90 513.76,369.55 513.63,370.19 513.42,370.81 513.13,371.40 512.77,371.94 512.34,372.44 511.84,372.87 511.30,373.23 510.71,373.52 510.09,373.73 509.45,373.86 508.80,373.90 508.15,373.86 507.51,373.73 506.89,373.52 506.30,373.23 505.76,372.87 505.26,372.44 504.83,371.94 504.47,371.40 504.18,370.81 503.97,370.19 503.84,369.55 503.80,368.90 503.84,368.25 503.97,367.61 504.18,366.99 504.47,366.40 504.83,365.86 505.26,365.36 505.76,364.93 506.30,364.57 506.89,364.28 507.51,364.07 508.15,363.94 508.80,363.90 509.45,363.94 510.09,364.07 510.71,364.28ZM566.34,174.67 566.40,173.80 566.34,172.93 566.17,172.07 565.89,171.24 565.50,170.45 565.02,169.72 564.44,169.06 563.78,168.48 563.05,168.00 562.26,167.61 561.43,167.33 560.57,167.16 559.70,167.10 558.83,167.16 557.97,167.33 557.14,167.61 556.35,168.00 555.62,168.48 554.96,169.06 554.38,169.72 553.90,170.45 553.51,171.24 553.23,172.07 553.06,172.93 553.00,173.80 553.06,174.67 553.23,175.53 553.51,176.36 553.90,177.15 554.38,177.88 554.96,178.54 555.62,179.12 556.35,179.60 557.14,179.99 557.97,180.27 558.83,180.44 559.70,180.50 560.57,180.44 561.43,180.27 562.26,179.99 563.05,179.60 563.78,179.12 564.44,178.54 565.02,177.88 565.50,177.15 565.89,176.36 566.17,175.53ZM564.47,171.56 564.83,172.10 565.12,172.69 565.33,173.31 565.46,173.95 565.50,174.60 565.46,175.25 565.33,175.89 565.12,176.51 564.83,177.10 564.47,177.64 564.04,178.14 563.54,178.57 563.00,178.93 562.41,179.22 561.79,179.43 561.15,179.56 560.50,179.60 559.85,179.56 559.21,179.43 558.59,179.22 558.00,178.93 557.46,178.57 556.96,178.14 556.53,177.64 556.17,177.10 555.88,176.51 555.67,175.89 555.54,175.25 555.50,174.60 555.54,173.95 555.67,173.31 555.88,172.69 556.17,172.10 556.53,171.56 556.96,171.06 557.46,170.63 558.00,170.27 558.59,169.98 559.21,169.77 559.85,169.64 560.50,169.60 561.15,169.64 561.79,169.77 562.41,169.98 563.00,170.27 563.54,170.63 564.04,171.06ZM586.17,175.53 586.34,174.67 586.40,173.80 586.34,172.93 586.17,172.07 585.89,171.24 585.50,170.45 585.02,169.72 584.44,169.06 583.78,168.48 583.05,168.00 582.26,167.61 581.43,167.33 580.57,167.16 579.70,167.10 578.83,167.16 577.97,167.33 577.14,167.61 576.35,168.00 575.62,168.48 574.96,169.06 574.38,169.72 573.90,170.45 573.51,171.24 573.23,172.07 573.06,172.93 573.00,173.80 573.06,174.67 573.23,175.53 573.51,176.36 573.90,177.15 574.38,177.88 574.96,178.54 575.62,179.12 576.35,179.60 577.14,179.99 577.97,180.27 578.83,180.44 579.70,180.50 580.57,180.44 581.43,180.27 582.26,179.99 583.05,179.60 583.78,179.12 584.44,178.54 585.02,177.88 585.50,177.15 585.89,176.36ZM584.04,171.06 584.47,171.56 584.83,172.10 585.12,172.69 585.33,173.31 585.46,173.95 585.50,174.60 585.46,175.25 585.33,175.89 585.12,176.51 584.83,177.10 584.47,177.64 584.04,178.14 583.54,178.57 583.00,178.93 582.41,179.22 581.79,179.43 581.15,179.56 580.50,179.60 579.85,179.56 579.21,179.43 578.59,179.22 578.00,178.93 577.46,178.57 576.96,178.14 576.53,177.64 576.17,177.10 575.88,176.51 575.67,175.89 575.54,175.25 575.50,174.60 575.54,173.95 575.67,173.31 575.88,172.69 576.17,172.10 576.53,171.56 576.96,171.06 577.46,170.63 578.00,170.27 578.59,169.98 579.21,169.77 579.85,169.64 580.50,169.60 581.15,169.64 581.79,169.77 582.41,169.98 583.00,170.27 583.54,170.63ZM514.19,335.16 514.47,334.33 514.64,333.47 514.70,332.60 514.64,331.73 514.47,330.87 514.19,330.04 513.80,329.25 513.32,328.52 512.74,327.86 512.08,327.28 511.35,326.80 510.56,326.41 509.73,326.13 508.87,325.96 508.00,325.90 507.13,325.96 506.27,326.13 505.44,326.41 504.65,326.80 503.92,327.28 503.26,327.86 502.68,328.52 502.20,329.25 501.81,330.04 501.53,330.87 501.36,331.73 501.30,332.60 501.36,333.47 501.53,334.33 501.81,335.16 502.20,335.95 502.68,336.68 503.26,337.34 503.92,337.92 504.65,338.40 505.44,338.79 506.27,339.07 507.13,339.24 508.00,339.30 508.87,339.24 509.73,339.07 510.56,338.79 511.35,338.40 512.08,337.92 512.74,337.34 513.32,336.68 513.80,335.95ZM511.84,329.43 512.34,329.86 512.77,330.36 513.13,330.90 513.42,331.49 513.63,332.11 513.76,332.75 513.80,333.40 513.76,334.05 513.63,334.69 513.42,335.31 513.13,335.90 512.77,336.44 512.34,336.94 511.84,337.37 511.30,337.73 510.71,338.02 510.09,338.23 509.45,338.36 508.80,338.40 508.15,338.36 507.51,338.23 506.89,338.02 506.30,337.73 505.76,337.37 505.26,336.94 504.83,336.44 504.47,335.90 504.18,335.31 503.97,334.69 503.84,334.05 503.80,333.40 503.84,332.75 503.97,332.11 504.18,331.49 504.47,330.90 504.83,330.36 505.26,329.86 505.76,329.43 506.30,329.07 506.89,328.78 507.51,328.57 508.15,328.44 508.80,328.40 509.45,328.44 510.09,328.57 510.71,328.78 511.30,329.07ZM582.32,429.58 582.80,428.85 583.19,428.06 583.47,427.23 583.64,426.37 583.70,425.50 583.64,424.63 583.47,423.77 583.19,422.94 582.80,422.15 582.32,421.42 581.74,420.76 581.08,420.18 580.35,419.70 579.56,419.31 578.73,419.03 577.87,418.86 577.00,418.80 576.13,418.86 575.27,419.03 574.44,419.31 573.65,419.70 572.92,420.18 572.26,420.76 571.68,421.42 571.20,422.15 570.81,422.94 570.53,423.77 570.36,424.63 570.30,425.50 570.36,426.37 570.53,427.23 570.81,428.06 571.20,428.85 571.68,429.58 572.26,430.24 572.92,430.82 573.65,431.30 574.44,431.69 575.27,431.97 576.13,432.14 577.00,432.20 577.87,432.14 578.73,431.97 579.56,431.69 580.35,431.30 581.08,430.82 581.74,430.24ZM579.71,421.68 580.30,421.97 580.84,422.33 581.34,422.76 581.77,423.26 582.13,423.80 582.42,424.39 582.63,425.01 582.76,425.65 582.80,426.30 582.76,426.95 582.63,427.59 582.42,428.21 582.13,428.80 581.77,429.34 581.34,429.84 580.84,430.27 580.30,430.63 579.71,430.92 579.09,431.13 578.45,431.26 577.80,431.30 577.15,431.26 576.51,431.13 575.89,430.92 575.30,430.63 574.76,430.27 574.26,429.84 573.83,429.34 573.47,428.80 573.18,428.21 572.97,427.59 572.84,426.95 572.80,426.30 572.84,425.65 572.97,425.01 573.18,424.39 573.47,423.80 573.83,423.26 574.26,422.76 574.76,422.33 575.30,421.97 575.89,421.68 576.51,421.47 577.15,421.34 577.80,421.30 578.45,421.34 579.09,421.47ZM581.74,450.24 582.32,449.58 582.80,448.85 583.19,448.06 583.47,447.23 583.64,446.37 583.70,445.50 583.64,444.63 583.47,443.77 583.19,442.94 582.80,442.15 582.32,441.42 581.74,440.76 581.08,440.18 580.35,439.70 579.56,439.31 578.73,439.03 577.87,438.86 577.00,438.80 576.13,438.86 575.27,439.03 574.44,439.31 573.65,439.70 572.92,440.18 572.26,440.76 571.68,441.42 571.20,442.15 570.81,442.94 570.53,443.77 570.36,444.63 570.30,445.50 570.36,446.37 570.53,447.23 570.81,448.06 571.20,448.85 571.68,449.58 572.26,450.24 572.92,450.82 573.65,451.30 574.44,451.69 575.27,451.97 576.13,452.14 577.00,452.20 577.87,452.14 578.73,451.97 579.56,451.69 580.35,451.30 581.08,450.82ZM579.09,441.47 579.71,441.68 580.30,441.97 580.84,442.33 581.34,442.76 581.77,443.26 582.13,443.80 582.42,444.39 582.63,445.01 582.76,445.65 582.80,446.30 582.76,446.95 582.63,447.59 582.42,448.21 582.13,448.80 581.77,449.34 581.34,449.84 580.84,450.27 580.30,450.63 579.71,450.92 579.09,451.13 578.45,451.26 577.80,451.30 577.15,451.26 576.51,451.13 575.89,450.92 575.30,450.63 574.76,450.27 574.26,449.84 573.83,449.34 573.47,448.80 573.18,448.21 572.97,447.59 572.84,446.95 572.80,446.30 572.84,445.65 572.97,445.01 573.18,444.39 573.47,443.80 573.83,443.26 574.26,442.76 574.76,442.33 575.30,441.97 575.89,441.68 576.51,441.47 577.15,441.34 577.80,441.30 578.45,441.34ZM621.38,188.32 622.04,187.74 622.62,187.08 623.10,186.35 623.49,185.56 623.77,184.73 623.94,183.87 624.00,183.00 623.94,182.13 623.77,181.27 623.49,180.44 623.10,179.65 622.62,178.92 622.04,178.26 621.38,177.68 620.65,177.20 619.86,176.81 619.03,176.53 618.17,176.36 617.30,176.30 616.43,176.36 615.57,176.53 614.74,176.81 613.95,177.20 613.22,177.68 612.56,178.26 611.98,178.92 611.50,179.65 611.11,180.44 610.83,181.27 610.66,182.13 610.60,183.00 610.66,183.87 610.83,184.73 611.11,185.56 611.50,186.35 611.98,187.08 612.56,187.74 613.22,188.32 613.95,188.80 614.74,189.19 615.57,189.47 616.43,189.64 617.30,189.70 618.17,189.64 619.03,189.47 619.86,189.19 620.65,188.80ZM618.75,178.84 619.39,178.97 620.01,179.18 620.60,179.47 621.14,179.83 621.64,180.26 622.07,180.76 622.43,181.30 622.72,181.89 622.93,182.51 623.06,183.15 623.10,183.80 623.06,184.45 622.93,185.09 622.72,185.71 622.43,186.30 622.07,186.84 621.64,187.34 621.14,187.77 620.60,188.13 620.01,188.42 619.39,188.63 618.75,188.76 618.10,188.80 617.45,188.76 616.81,188.63 616.19,188.42 615.60,188.13 615.06,187.77 614.56,187.34 614.13,186.84 613.77,186.30 613.48,185.71 613.27,185.09 613.14,184.45 613.10,183.80 613.14,183.15 613.27,182.51 613.48,181.89 613.77,181.30 614.13,180.76 614.56,180.26 615.06,179.83 615.60,179.47 616.19,179.18 616.81,178.97 617.45,178.84 618.10,178.80ZM620.65,429.50 621.38,429.02 622.04,428.44 622.62,427.78 623.10,427.05 623.49,426.26 623.77,425.43 623.94,424.57 624.00,423.70 623.94,422.83 623.77,421.97 623.49,421.14 623.10,420.35 622.62,419.62 622.04,418.96 621.38,418.38 620.65,417.90 619.86,417.51 619.03,417.23 618.17,417.06 617.30,417.00 616.43,417.06 615.57,417.23 614.74,417.51 613.95,417.90 613.22,418.38 612.56,418.96 611.98,419.62 611.50,420.35 611.11,421.14 610.83,421.97 610.66,422.83 610.60,423.70 610.66,424.57 610.83,425.43 611.11,426.26 611.50,427.05 611.98,427.78 612.56,428.44 613.22,429.02 613.95,429.50 614.74,429.89 615.57,430.17 616.43,430.34 617.30,430.40 618.17,430.34 619.03,430.17 619.86,429.89ZM618.10,419.50 618.75,419.54 619.39,419.67 620.01,419.88 620.60,420.17 621.14,420.53 621.64,420.96 622.07,421.46 622.43,422.00 622.72,422.59 622.93,423.21 623.06,423.85 623.10,424.50 623.06,425.15 622.93,425.79 622.72,426.41 622.43,427.00 622.07,427.54 621.64,428.04 621.14,428.47 620.60,428.83 620.01,429.12 619.39,429.33 618.75,429.46 618.10,429.50 617.45,429.46 616.81,429.33 616.19,429.12 615.60,428.83 615.06,428.47 614.56,428.04 614.13,427.54 613.77,427.00 613.48,426.41 613.27,425.79 613.14,425.15 613.10,424.50 613.14,423.85 613.27,423.21 613.48,422.59 613.77,422.00 614.13,421.46 614.56,420.96 615.06,420.53 615.60,420.17 616.19,419.88 616.81,419.67 617.45,419.54ZM624.20,170.20 624.20,156.40 610.40,156.40 610.40,170.20ZM617.42,158.94 618.10,158.90 618.78,158.94 619.45,159.08 620.09,159.30 620.70,159.60 621.27,159.97 621.78,160.42 622.23,160.93 622.60,161.50 622.90,162.11 623.12,162.75 623.26,163.42 623.30,164.10 623.26,164.78 623.12,165.45 622.90,166.09 622.60,166.70 622.23,167.27 621.78,167.78 621.27,168.23 620.70,168.60 620.09,168.90 619.45,169.12 618.78,169.26 618.10,169.30 617.42,169.26 616.75,169.12 616.11,168.90 615.50,168.60 614.93,168.23 614.42,167.78 613.97,167.27 613.60,166.70 613.30,166.09 613.08,165.45 612.94,164.78 612.90,164.10 612.94,163.42 613.08,162.75 613.30,162.11 613.60,161.50 613.97,160.93 614.42,160.42 614.93,159.97 615.50,159.60 616.11,159.30 616.75,159.08ZM610.40,450.40 624.20,450.40 624.20,436.60 610.40,436.60ZM616.75,439.28 617.42,439.14 618.10,439.10 618.78,439.14 619.45,439.28 620.09,439.50 620.70,439.80 621.27,440.17 621.78,440.62 622.23,441.13 622.60,441.70 622.90,442.31 623.12,442.95 623.26,443.62 623.30,444.30 623.26,444.98 623.12,445.65 622.90,446.29 622.60,446.90 622.23,447.47 621.78,447.98 621.27,448.43 620.70,448.80 620.09,449.10 619.45,449.32 618.78,449.46 618.10,449.50 617.42,449.46 616.75,449.32 616.11,449.10 615.50,448.80 614.93,448.43 614.42,447.98 613.97,447.47 613.60,446.90 613.30,446.29 613.08,445.65 612.94,444.98 612.90,444.30 612.94,443.62 613.08,442.95 613.30,442.31 613.60,441.70 613.97,441.13 614.42,440.62 614.93,440.17 615.50,439.80 616.11,439.50ZM585.50,267.00 582.50,270.50 590.50,270.50 587.50,267.00 590.50,263.50 582.50,263.50ZM628.30,263.50 631.30,267.00 628.30,270.50 636.30,270.50 633.30,267.00 636.30,263.50ZM586.00,431.00 580.00,433.00 585.00,438.00ZM89.00,457.00 88.00,457.00 88.00,467.00 89.00,467.00ZM59.80,483.80 59.80,497.60 73.60,497.60 73.60,483.80ZM64.33,487.37 64.90,487.00 65.51,486.70 66.15,486.48 66.82,486.34 67.50,486.30 68.18,486.34 68.85,486.48 69.49,486.70 70.10,487.00 70.67,487.37 71.18,487.82 71.63,488.33 72.00,488.90 72.30,489.51 72.52,490.15 72.66,490.82 72.70,491.50 72.66,492.18 72.52,492.85 72.30,493.49 72.00,494.10 71.63,494.67 71.18,495.18 70.67,495.63 70.10,496.00 69.49,496.30 68.85,496.52 68.18,496.66 67.50,496.70 66.82,496.66 66.15,496.52 65.51,496.30 64.90,496.00 64.33,495.63 63.82,495.18 63.37,494.67 63.00,494.10 62.70,493.49 62.48,492.85 62.34,492.18 62.30,491.50 62.34,490.82 62.48,490.15 62.70,489.51 63.00,488.90 63.37,488.33 63.82,487.82ZM60.38,513.95 60.91,514.74 61.54,515.46 62.26,516.09 63.05,516.62 63.91,517.04 64.81,517.35 65.75,517.54 66.70,517.60 67.65,517.54 68.59,517.35 69.49,517.04 70.35,516.62 71.14,516.09 71.86,515.46 72.49,514.74 73.02,513.95 73.44,513.09 73.75,512.19 73.94,511.25 74.00,510.30 73.94,509.35 73.75,508.41 73.44,507.51 73.02,506.65 72.49,505.86 71.86,505.14 71.14,504.51 70.35,503.98 69.49,503.56 68.59,503.25 67.65,503.06 66.70,503.00 65.75,503.06 64.81,503.25 63.91,503.56 63.05,503.98 62.26,504.51 61.54,505.14 60.91,505.86 60.38,506.65 59.96,507.51 59.65,508.41 59.46,509.35 59.40,510.30 59.46,511.25 59.65,512.19 59.96,513.09ZM63.82,507.42 64.33,506.97 64.90,506.60 65.51,506.30 66.15,506.08 66.82,505.94 67.50,505.90 68.18,505.94 68.85,506.08 69.49,506.30 70.10,506.60 70.67,506.97 71.18,507.42 71.63,507.93 72.00,508.50 72.30,509.11 72.52,509.75 72.66,510.42 72.70,511.10 72.66,511.78 72.52,512.45 72.30,513.09 72.00,513.70 71.63,514.27 71.18,514.78 70.67,515.23 70.10,515.60 69.49,515.90 68.85,516.12 68.18,516.26 67.50,516.30 66.82,516.26 66.15,516.12 65.51,515.90 64.90,515.60 64.33,515.23 63.82,514.78 63.37,514.27 63.00,513.70 62.70,513.09 62.48,512.45 62.34,511.78 62.30,511.10 62.34,510.42 62.48,509.75 62.70,509.11 63.00,508.50 63.37,507.93ZM56.80,482.60 55.80,482.60 55.80,514.30 56.80,514.30ZM60.38,560.45 60.91,561.24 61.54,561.96 62.26,562.59 63.05,563.12 63.91,563.54 64.81,563.85 65.75,564.04 66.70,564.10 67.65,564.04 68.59,563.85 69.49,563.54 70.35,563.12 71.14,562.59 71.86,561.96 72.49,561.24 73.02,560.45 73.44,559.59 73.75,558.69 73.94,557.75 74.00,556.80 73.94,555.85 73.75,554.91 73.44,554.01 73.02,553.15 72.49,552.36 71.86,551.64 71.14,551.01 70.35,550.48 69.49,550.06 68.59,549.75 67.65,549.56 66.70,549.50 65.75,549.56 64.81,549.75 63.91,550.06 63.05,550.48 62.26,551.01 61.54,551.64 60.91,552.36 60.38,553.15 59.96,554.01 59.65,554.91 59.46,555.85 59.40,556.80 59.46,557.75 59.65,558.69 59.96,559.59ZM63.37,554.43 63.82,553.92 64.33,553.47 64.90,553.10 65.51,552.80 66.15,552.58 66.82,552.44 67.50,552.40 68.18,552.44 68.85,552.58 69.49,552.80 70.10,553.10 70.67,553.47 71.18,553.92 71.63,554.43 72.00,555.00 72.30,555.61 72.52,556.25 72.66,556.92 72.70,557.60 72.66,558.28 72.52,558.95 72.30,559.59 72.00,560.20 71.63,560.77 71.18,561.28 70.67,561.73 70.10,562.10 69.49,562.40 68.85,562.62 68.18,562.76 67.50,562.80 66.82,562.76 66.15,562.62 65.51,562.40 64.90,562.10 64.33,561.73 63.82,561.28 63.37,560.77 63.00,560.20 62.70,559.59 62.48,558.95 62.34,558.28 62.30,557.60 62.34,556.92 62.48,556.25 62.70,555.61 63.00,555.00ZM73.60,568.60 59.80,568.60 59.80,582.40 73.60,582.40ZM63.00,573.70 63.37,573.13 63.82,572.62 64.33,572.17 64.90,571.80 65.51,571.50 66.15,571.28 66.82,571.14 67.50,571.10 68.18,571.14 68.85,571.28 69.49,571.50 70.10,571.80 70.67,572.17 71.18,572.62 71.63,573.13 72.00,573.70 72.30,574.31 72.52,574.95 72.66,575.62 72.70,576.30 72.66,576.98 72.52,577.65 72.30,578.29 72.00,578.90 71.63,579.47 71.18,579.98 70.67,580.43 70.10,580.80 69.49,581.10 68.85,581.32 68.18,581.46 67.50,581.50 66.82,581.46 66.15,581.32 65.51,581.10 64.90,580.80 64.33,580.43 63.82,579.98 63.37,579.47 63.00,578.90 62.70,578.29 62.48,577.65 62.34,576.98 62.30,576.30 62.34,575.62 62.48,574.95 62.70,574.31ZM56.80,552.30 55.80,552.30 55.80,585.00 56.80,585.00ZM106.26,558.60 106.53,559.15 106.87,559.66 107.28,560.12 107.74,560.53 108.25,560.87 108.80,561.14 109.38,561.34 109.99,561.46 110.60,561.50 111.21,561.46 111.82,561.34 112.40,561.14 112.95,560.87 113.46,560.53 113.92,560.12 114.33,559.66 114.67,559.15 114.94,558.60 115.14,558.02 115.26,557.41 115.30,556.80 115.26,556.19 115.14,555.58 114.94,555.00 114.67,554.45 114.33,553.94 113.92,553.48 113.46,553.07 112.95,552.73 112.40,552.46 111.82,552.26 111.21,552.14 110.60,552.10 109.99,552.14 109.38,552.26 108.80,552.46 108.25,552.73 107.74,553.07 107.28,553.48 106.87,553.94 106.53,554.45 106.26,555.00 106.06,555.58 105.94,556.19 105.90,556.80 105.94,557.41 106.06,558.02ZM109.37,556.76 109.49,556.50 109.65,556.26 109.84,556.04 110.06,555.85 110.30,555.69 110.56,555.57 110.83,555.47 111.11,555.42 111.40,555.40 111.69,555.42 111.97,555.47 112.24,555.57 112.50,555.69 112.74,555.85 112.96,556.04 113.15,556.26 113.31,556.50 113.43,556.76 113.53,557.03 113.58,557.31 113.60,557.60 113.58,557.89 113.53,558.17 113.43,558.44 113.31,558.70 113.15,558.94 112.96,559.16 112.74,559.35 112.50,559.51 112.24,559.63 111.97,559.73 111.69,559.78 111.40,559.80 111.11,559.78 110.83,559.73 110.56,559.63 110.30,559.51 110.06,559.35 109.84,559.16 109.65,558.94 109.49,558.70 109.37,558.44 109.27,558.17 109.22,557.89 109.20,557.60 109.22,557.31 109.27,557.03ZM106.06,573.12 106.26,573.70 106.53,574.25 106.87,574.76 107.28,575.22 107.74,575.63 108.25,575.97 108.80,576.24 109.38,576.44 109.99,576.56 110.60,576.60 111.21,576.56 111.82,576.44 112.40,576.24 112.95,575.97 113.46,575.63 113.92,575.22 114.33,574.76 114.67,574.25 114.94,573.70 115.14,573.12 115.26,572.51 115.30,571.90 115.26,571.29 115.14,570.68 114.94,570.10 114.67,569.55 114.33,569.04 113.92,568.58 113.46,568.17 112.95,567.83 112.40,567.56 111.82,567.36 111.21,567.24 110.60,567.20 109.99,567.24 109.38,567.36 108.80,567.56 108.25,567.83 107.74,568.17 107.28,568.58 106.87,569.04 106.53,569.55 106.26,570.10 106.06,570.68 105.94,571.29 105.90,571.90 105.94,572.51ZM109.27,572.13 109.37,571.86 109.49,571.60 109.65,571.36 109.84,571.14 110.06,570.95 110.30,570.79 110.56,570.67 110.83,570.57 111.11,570.52 111.40,570.50 111.69,570.52 111.97,570.57 112.24,570.67 112.50,570.79 112.74,570.95 112.96,571.14 113.15,571.36 113.31,571.60 113.43,571.86 113.53,572.13 113.58,572.41 113.60,572.70 113.58,572.99 113.53,573.27 113.43,573.54 113.31,573.80 113.15,574.04 112.96,574.26 112.74,574.45 112.50,574.61 112.24,574.73 111.97,574.83 111.69,574.88 111.40,574.90 111.11,574.88 110.83,574.83 110.56,574.73 110.30,574.61 110.06,574.45 109.84,574.26 109.65,574.04 109.49,573.80 109.37,573.54 109.27,573.27 109.22,572.99 109.20,572.70 109.22,572.41ZM102.00,567.50 105.60,564.00 102.00,560.50 102.00,555.00 101.00,555.00 101.00,575.00 102.00,575.00ZM117.50,567.50 117.50,561.50 114.00,564.50ZM59.10,635.40 72.90,635.40 72.90,621.60 59.10,621.60ZM61.64,628.62 61.78,627.95 62.00,627.31 62.30,626.70 62.67,626.13 63.12,625.62 63.63,625.17 64.20,624.80 64.81,624.50 65.45,624.28 66.12,624.14 66.80,624.10 67.48,624.14 68.15,624.28 68.79,624.50 69.40,624.80 69.97,625.17 70.48,625.62 70.93,626.13 71.30,626.70 71.60,627.31 71.82,627.95 71.96,628.62 72.00,629.30 71.96,629.98 71.82,630.65 71.60,631.29 71.30,631.90 70.93,632.47 70.48,632.98 69.97,633.43 69.40,633.80 68.79,634.10 68.15,634.32 67.48,634.46 66.80,634.50 66.12,634.46 65.45,634.32 64.81,634.10 64.20,633.80 63.63,633.43 63.12,632.98 62.67,632.47 62.30,631.90 62.00,631.29 61.78,630.65 61.64,629.98 61.60,629.30ZM58.95,646.61 58.76,647.55 58.70,648.50 58.76,649.45 58.95,650.39 59.26,651.29 59.68,652.15 60.21,652.94 60.84,653.66 61.56,654.29 62.35,654.82 63.21,655.24 64.11,655.55 65.05,655.74 66.00,655.80 66.95,655.74 67.89,655.55 68.79,655.24 69.65,654.82 70.44,654.29 71.16,653.66 71.79,652.94 72.32,652.15 72.74,651.29 73.05,650.39 73.24,649.45 73.30,648.50 73.24,647.55 73.05,646.61 72.74,645.71 72.32,644.85 71.79,644.06 71.16,643.34 70.44,642.71 69.65,642.18 68.79,641.76 67.89,641.45 66.95,641.26 66.00,641.20 65.05,641.26 64.11,641.45 63.21,641.76 62.35,642.18 61.56,642.71 60.84,643.34 60.21,644.06 59.68,644.85 59.26,645.71ZM61.60,649.30 61.64,648.62 61.78,647.95 62.00,647.31 62.30,646.70 62.67,646.13 63.12,645.62 63.63,645.17 64.20,644.80 64.81,644.50 65.45,644.28 66.12,644.14 66.80,644.10 67.48,644.14 68.15,644.28 68.79,644.50 69.40,644.80 69.97,645.17 70.48,645.62 70.93,646.13 71.30,646.70 71.60,647.31 71.82,647.95 71.96,648.62 72.00,649.30 71.96,649.98 71.82,650.65 71.60,651.29 71.30,651.90 70.93,652.47 70.48,652.98 69.97,653.43 69.40,653.80 68.79,654.10 68.15,654.32 67.48,654.46 66.80,654.50 66.12,654.46 65.45,654.32 64.81,654.10 64.20,653.80 63.63,653.43 63.12,652.98 62.67,652.47 62.30,651.90 62.00,651.29 61.78,650.65 61.64,649.98ZM105.46,627.28 105.34,627.89 105.30,628.50 105.34,629.11 105.46,629.72 105.66,630.30 105.93,630.85 106.27,631.36 106.68,631.82 107.14,632.23 107.65,632.57 108.20,632.84 108.78,633.04 109.39,633.16 110.00,633.20 110.61,633.16 111.22,633.04 111.80,632.84 112.35,632.57 112.86,632.23 113.32,631.82 113.73,631.36 114.07,630.85 114.34,630.30 114.54,629.72 114.66,629.11 114.70,628.50 114.66,627.89 114.54,627.28 114.34,626.70 114.07,626.15 113.73,625.64 113.32,625.18 112.86,624.77 112.35,624.43 111.80,624.16 111.22,623.96 110.61,623.84 110.00,623.80 109.39,623.84 108.78,623.96 108.20,624.16 107.65,624.43 107.14,624.77 106.68,625.18 106.27,625.64 105.93,626.15 105.66,626.70ZM108.62,629.59 108.60,629.30 108.62,629.01 108.67,628.73 108.77,628.46 108.89,628.20 109.05,627.96 109.24,627.74 109.46,627.55 109.70,627.39 109.96,627.27 110.23,627.17 110.51,627.12 110.80,627.10 111.09,627.12 111.37,627.17 111.64,627.27 111.90,627.39 112.14,627.55 112.36,627.74 112.55,627.96 112.71,628.20 112.83,628.46 112.93,628.73 112.98,629.01 113.00,629.30 112.98,629.59 112.93,629.87 112.83,630.14 112.71,630.40 112.55,630.64 112.36,630.86 112.14,631.05 111.90,631.21 111.64,631.33 111.37,631.43 111.09,631.48 110.80,631.50 110.51,631.48 110.23,631.43 109.96,631.33 109.70,631.21 109.46,631.05 109.24,630.86 109.05,630.64 108.89,630.40 108.77,630.14 108.67,629.87ZM105.66,641.70 105.46,642.28 105.34,642.89 105.30,643.50 105.34,644.11 105.46,644.72 105.66,645.30 105.93,645.85 106.27,646.36 106.68,646.82 107.14,647.23 107.65,647.57 108.20,647.84 108.78,648.04 109.39,648.16 110.00,648.20 110.61,648.16 111.22,648.04 111.80,647.84 112.35,647.57 112.86,647.23 113.32,646.82 113.73,646.36 114.07,645.85 114.34,645.30 114.54,644.72 114.66,644.11 114.70,643.50 114.66,642.89 114.54,642.28 114.34,641.70 114.07,641.15 113.73,640.64 113.32,640.18 112.86,639.77 112.35,639.43 111.80,639.16 111.22,638.96 110.61,638.84 110.00,638.80 109.39,638.84 108.78,638.96 108.20,639.16 107.65,639.43 107.14,639.77 106.68,640.18 106.27,640.64 105.93,641.15ZM108.67,644.87 108.62,644.59 108.60,644.30 108.62,644.01 108.67,643.73 108.77,643.46 108.89,643.20 109.05,642.96 109.24,642.74 109.46,642.55 109.70,642.39 109.96,642.27 110.23,642.17 110.51,642.12 110.80,642.10 111.09,642.12 111.37,642.17 111.64,642.27 111.90,642.39 112.14,642.55 112.36,642.74 112.55,642.96 112.71,643.20 112.83,643.46 112.93,643.73 112.98,644.01 113.00,644.30 112.98,644.59 112.93,644.87 112.83,645.14 112.71,645.40 112.55,645.64 112.36,645.86 112.14,646.05 111.90,646.21 111.64,646.33 111.37,646.43 111.09,646.48 110.80,646.50 110.51,646.48 110.23,646.43 109.96,646.33 109.70,646.21 109.46,646.05 109.24,645.86 109.05,645.64 108.89,645.40 108.77,645.14ZM102.00,631.00 102.00,626.00 101.00,626.00 101.00,647.00 102.00,647.00 102.00,638.00 105.60,634.50ZM117.50,632.00 114.00,635.00 117.50,638.00ZM61.86,703.51 61.14,704.14 60.51,704.86 59.98,705.65 59.56,706.51 59.25,707.41 59.06,708.35 59.00,709.30 59.06,710.25 59.25,711.19 59.56,712.09 59.98,712.95 60.51,713.74 61.14,714.46 61.86,715.09 62.65,715.62 63.51,716.04 64.41,716.35 65.35,716.54 66.30,716.60 67.25,716.54 68.19,716.35 69.09,716.04 69.95,715.62 70.74,715.09 71.46,714.46 72.09,713.74 72.62,712.95 73.04,712.09 73.35,711.19 73.54,710.25 73.60,709.30 73.54,708.35 73.35,707.41 73.04,706.51 72.62,705.65 72.09,704.86 71.46,704.14 70.74,703.51 69.95,702.98 69.09,702.56 68.19,702.25 67.25,702.06 66.30,702.00 65.35,702.06 64.41,702.25 63.51,702.56 62.65,702.98ZM62.30,712.09 62.08,711.45 61.94,710.78 61.90,710.10 61.94,709.42 62.08,708.75 62.30,708.11 62.60,707.50 62.97,706.93 63.42,706.42 63.93,705.97 64.50,705.60 65.11,705.30 65.75,705.08 66.42,704.94 67.10,704.90 67.78,704.94 68.45,705.08 69.09,705.30 69.70,705.60 70.27,705.97 70.78,706.42 71.23,706.93 71.60,707.50 71.90,708.11 72.12,708.75 72.26,709.42 72.30,710.10 72.26,710.78 72.12,711.45 71.90,712.09 71.60,712.70 71.23,713.27 70.78,713.78 70.27,714.23 69.70,714.60 69.09,714.90 68.45,715.12 67.78,715.26 67.10,715.30 66.42,715.26 65.75,715.12 65.11,714.90 64.50,714.60 63.93,714.23 63.42,713.78 62.97,713.27 62.60,712.70ZM59.40,722.40 59.40,736.20 73.20,736.20 73.20,722.40ZM62.60,732.70 62.30,732.09 62.08,731.45 61.94,730.78 61.90,730.10 61.94,729.42 62.08,728.75 62.30,728.11 62.60,727.50 62.97,726.93 63.42,726.42 63.93,725.97 64.50,725.60 65.11,725.30 65.75,725.08 66.42,724.94 67.10,724.90 67.78,724.94 68.45,725.08 69.09,725.30 69.70,725.60 70.27,725.97 70.78,726.42 71.23,726.93 71.60,727.50 71.90,728.11 72.12,728.75 72.26,729.42 72.30,730.10 72.26,730.78 72.12,731.45 71.90,732.09 71.60,732.70 71.23,733.27 70.78,733.78 70.27,734.23 69.70,734.60 69.09,734.90 68.45,735.12 67.78,735.26 67.10,735.30 66.42,735.26 65.75,735.12 65.11,734.90 64.50,734.60 63.93,734.23 63.42,733.78 62.97,733.27ZM107.34,705.57 106.88,705.98 106.47,706.44 106.13,706.95 105.86,707.50 105.66,708.08 105.54,708.69 105.50,709.30 105.54,709.91 105.66,710.52 105.86,711.10 106.13,711.65 106.47,712.16 106.88,712.62 107.34,713.03 107.85,713.37 108.40,713.64 108.98,713.84 109.59,713.96 110.20,714.00 110.81,713.96 111.42,713.84 112.00,713.64 112.55,713.37 113.06,713.03 113.52,712.62 113.93,712.16 114.27,711.65 114.54,711.10 114.74,710.52 114.86,709.91 114.90,709.30 114.86,708.69 114.74,708.08 114.54,707.50 114.27,706.95 113.93,706.44 113.52,705.98 113.06,705.57 112.55,705.23 112.00,704.96 111.42,704.76 110.81,704.64 110.20,704.60 109.59,704.64 108.98,704.76 108.40,704.96 107.85,705.23ZM109.25,711.44 109.09,711.20 108.97,710.94 108.87,710.67 108.82,710.39 108.80,710.10 108.82,709.81 108.87,709.53 108.97,709.26 109.09,709.00 109.25,708.76 109.44,708.54 109.66,708.35 109.90,708.19 110.16,708.07 110.43,707.97 110.71,707.92 111.00,707.90 111.29,707.92 111.57,707.97 111.84,708.07 112.10,708.19 112.34,708.35 112.56,708.54 112.75,708.76 112.91,709.00 113.03,709.26 113.13,709.53 113.18,709.81 113.20,710.10 113.18,710.39 113.13,710.67 113.03,710.94 112.91,711.20 112.75,711.44 112.56,711.66 112.34,711.85 112.10,712.01 111.84,712.13 111.57,712.23 111.29,712.28 111.00,712.30 110.71,712.28 110.43,712.23 110.16,712.13 109.90,712.01 109.66,711.85 109.44,711.66ZM107.85,721.13 107.34,721.47 106.88,721.88 106.47,722.34 106.13,722.85 105.86,723.40 105.66,723.98 105.54,724.59 105.50,725.20 105.54,725.81 105.66,726.42 105.86,727.00 106.13,727.55 106.47,728.06 106.88,728.52 107.34,728.93 107.85,729.27 108.40,729.54 108.98,729.74 109.59,729.86 110.20,729.90 110.81,729.86 111.42,729.74 112.00,729.54 112.55,729.27 113.06,728.93 113.52,728.52 113.93,728.06 114.27,727.55 114.54,727.00 114.74,726.42 114.86,725.81 114.90,725.20 114.86,724.59 114.74,723.98 114.54,723.40 114.27,722.85 113.93,722.34 113.52,721.88 113.06,721.47 112.55,721.13 112.00,720.86 111.42,720.66 110.81,720.54 110.20,720.50 109.59,720.54 108.98,720.66 108.40,720.86ZM109.44,727.56 109.25,727.34 109.09,727.10 108.97,726.84 108.87,726.57 108.82,726.29 108.80,726.00 108.82,725.71 108.87,725.43 108.97,725.16 109.09,724.90 109.25,724.66 109.44,724.44 109.66,724.25 109.90,724.09 110.16,723.97 110.43,723.87 110.71,723.82 111.00,723.80 111.29,723.82 111.57,723.87 111.84,723.97 112.10,724.09 112.34,724.25 112.56,724.44 112.75,724.66 112.91,724.90 113.03,725.16 113.13,725.43 113.18,725.71 113.20,726.00 113.18,726.29 113.13,726.57 113.03,726.84 112.91,727.10 112.75,727.34 112.56,727.56 112.34,727.75 112.10,727.91 111.84,728.03 111.57,728.13 111.29,728.18 111.00,728.20 110.71,728.18 110.43,728.13 110.16,728.03 109.90,727.91 109.66,727.75ZM101.00,706.00 101.00,728.00 102.00,728.00 102.00,721.00 105.60,717.00 102.00,713.00 102.00,706.00ZM114.00,717.00 117.50,720.00 117.50,714.00ZM63.30,761.30 62.69,761.34 62.08,761.46 61.50,761.66 60.95,761.93 60.44,762.27 59.98,762.68 59.57,763.14 59.23,763.65 58.96,764.20 58.76,764.78 58.64,765.39 58.60,766.00 58.64,766.61 58.76,767.22 58.96,767.80 59.23,768.35 59.57,768.86 59.98,769.32 60.44,769.73 60.95,770.07 61.50,770.34 62.08,770.54 62.69,770.66 63.30,770.70 63.91,770.66 64.52,770.54 65.10,770.34 65.65,770.07 66.16,769.73 66.62,769.32 67.03,768.86 67.37,768.35 67.64,767.80 67.84,767.22 67.96,766.61 68.00,766.00 67.96,765.39 67.84,764.78 67.64,764.20 67.37,763.65 67.03,763.14 66.62,762.68 66.16,762.27 65.65,761.93 65.10,761.66 64.52,761.46 63.91,761.34ZM62.76,768.55 62.54,768.36 62.35,768.14 62.19,767.90 62.07,767.64 61.97,767.37 61.92,767.09 61.90,766.80 61.92,766.51 61.97,766.23 62.07,765.96 62.19,765.70 62.35,765.46 62.54,765.24 62.76,765.05 63.00,764.89 63.26,764.77 63.53,764.67 63.81,764.62 64.10,764.60 64.39,764.62 64.67,764.67 64.94,764.77 65.20,764.89 65.44,765.05 65.66,765.24 65.85,765.46 66.01,765.70 66.13,765.96 66.23,766.23 66.28,766.51 66.30,766.80 66.28,767.09 66.23,767.37 66.13,767.64 66.01,767.90 65.85,768.14 65.66,768.36 65.44,768.55 65.20,768.71 64.94,768.83 64.67,768.93 64.39,768.98 64.10,769.00 63.81,768.98 63.53,768.93 63.26,768.83 63.00,768.71ZM146.00,628.70 145.05,628.76 144.11,628.95 143.21,629.26 142.35,629.68 141.56,630.21 140.84,630.84 140.21,631.56 139.68,632.35 139.26,633.21 138.95,634.11 138.76,635.05 138.70,636.00 138.76,636.95 138.95,637.89 139.26,638.79 139.68,639.65 140.21,640.44 140.84,641.16 141.56,641.79 142.35,642.32 143.21,642.74 144.11,643.05 145.05,643.24 146.00,643.30 146.95,643.24 147.89,643.05 148.79,642.74 149.65,642.32 150.44,641.79 151.16,641.16 151.79,640.44 152.32,639.65 152.74,638.79 153.05,637.89 153.24,636.95 153.30,636.00 153.24,635.05 153.05,634.11 152.74,633.21 152.32,632.35 151.79,631.56 151.16,630.84 150.44,630.21 149.65,629.68 148.79,629.26 147.89,628.95 146.95,628.76ZM144.05,641.56 143.45,641.16 142.91,640.69 142.44,640.15 142.04,639.55 141.72,638.90 141.49,638.22 141.35,637.52 141.30,636.80 141.35,636.08 141.49,635.38 141.72,634.70 142.04,634.05 142.44,633.45 142.91,632.91 143.45,632.44 144.05,632.04 144.70,631.72 145.38,631.49 146.08,631.35 146.80,631.30 147.52,631.35 148.22,631.49 148.90,631.72 149.55,632.04 150.15,632.44 150.69,632.91 151.16,633.45 151.56,634.05 151.88,634.70 152.11,635.38 152.25,636.08 152.30,636.80 152.25,637.52 152.11,638.22 151.88,638.90 151.56,639.55 151.16,640.15 150.69,640.69 150.15,641.16 149.55,641.56 148.90,641.88 148.22,642.11 147.52,642.25 146.80,642.30 146.08,642.25 145.38,642.11 144.70,641.88ZM280.20,570.80 280.20,627.88 279.78,627.97 278.82,628.29 277.90,628.75 277.05,629.31 276.28,629.98 275.61,630.75 275.05,631.60 274.59,632.52 274.27,633.48 274.07,634.48 274.00,635.50 274.07,636.52 274.27,637.52 274.59,638.48 275.05,639.40 275.61,640.25 276.28,641.02 277.05,641.69 277.90,642.25 278.82,642.71 279.78,643.03 280.78,643.23 281.80,643.30 282.82,643.23 283.82,643.03 284.78,642.71 285.70,642.25 286.55,641.69 287.32,641.02 287.99,640.25 288.55,639.40 289.01,638.48 289.33,637.52 289.53,636.52 289.60,635.50 289.53,634.48 289.33,633.48 289.01,632.52 288.55,631.60 287.99,630.75 287.32,629.98 286.55,629.31 286.00,628.95 286.00,570.80 289.80,570.80 289.80,531.20 242.10,531.20 242.10,549.80 206.50,549.80 206.50,553.50 242.10,553.50 242.10,568.30 214.50,568.30 214.50,569.40 206.50,569.40 206.50,572.60 214.50,572.60 214.50,573.40 238.00,573.40 243.00,573.40 243.00,570.80ZM284.86,641.75 284.13,642.00 283.37,642.15 282.60,642.20 281.83,642.15 281.07,642.00 280.34,641.75 279.65,641.41 279.01,640.98 278.43,640.47 277.92,639.89 277.49,639.25 277.15,638.56 276.90,637.83 276.75,637.07 276.70,636.30 276.75,635.53 276.90,634.77 277.15,634.04 277.49,633.35 277.92,632.71 278.43,632.13 279.01,631.62 279.65,631.19 280.34,630.85 281.07,630.60 281.83,630.45 282.60,630.40 283.37,630.45 284.13,630.60 284.86,630.85 285.55,631.19 286.19,631.62 286.77,632.13 287.28,632.71 287.71,633.35 288.05,634.04 288.30,634.77 288.45,635.53 288.50,636.30 288.45,637.07 288.30,637.83 288.05,638.56 287.71,639.25 287.28,639.89 286.77,640.47 286.19,640.98 285.55,641.41ZM293.30,572.30 296.00,572.30 296.00,541.90 304.90,537.60 296.00,531.80 296.00,528.90 293.30,528.90ZM315.56,534.47 315.05,534.13 314.50,533.86 313.92,533.66 313.31,533.54 312.70,533.50 312.09,533.54 311.48,533.66 310.90,533.86 310.35,534.13 309.84,534.47 309.38,534.88 308.97,535.34 308.63,535.85 308.36,536.40 308.16,536.98 308.04,537.59 308.00,538.20 308.04,538.81 308.16,539.42 308.36,540.00 308.63,540.55 308.97,541.06 309.38,541.52 309.84,541.93 310.35,542.27 310.90,542.54 311.48,542.74 312.09,542.86 312.70,542.90 313.31,542.86 313.92,542.74 314.50,542.54 315.05,542.27 315.56,541.93 316.02,541.52 316.43,541.06 316.77,540.55 317.04,540.00 317.24,539.42 317.36,538.81 317.40,538.20 317.36,537.59 317.24,536.98 317.04,536.40 316.77,535.85 316.43,535.34 316.02,534.88ZM312.66,541.03 312.40,540.91 312.16,540.75 311.94,540.56 311.75,540.34 311.59,540.10 311.47,539.84 311.37,539.57 311.32,539.29 311.30,539.00 311.32,538.71 311.37,538.43 311.47,538.16 311.59,537.90 311.75,537.66 311.94,537.44 312.16,537.25 312.40,537.09 312.66,536.97 312.93,536.87 313.21,536.82 313.50,536.80 313.79,536.82 314.07,536.87 314.34,536.97 314.60,537.09 314.84,537.25 315.06,537.44 315.25,537.66 315.41,537.90 315.53,538.16 315.63,538.43 315.68,538.71 315.70,539.00 315.68,539.29 315.63,539.57 315.53,539.84 315.41,540.10 315.25,540.34 315.06,540.56 314.84,540.75 314.60,540.91 314.34,541.03 314.07,541.13 313.79,541.18 313.50,541.20 313.21,541.18 312.93,541.13ZM326.46,512.74 325.74,512.11 324.95,511.58 324.09,511.16 323.19,510.85 322.25,510.66 321.30,510.60 320.35,510.66 319.41,510.85 318.51,511.16 317.65,511.58 316.86,512.11 316.14,512.74 315.51,513.46 314.98,514.25 314.56,515.11 314.25,516.01 314.06,516.95 314.00,517.90 314.06,518.85 314.25,519.79 314.56,520.69 314.98,521.55 315.51,522.34 316.14,523.06 316.86,523.69 317.65,524.22 318.51,524.64 319.41,524.95 320.35,525.14 321.30,525.20 322.25,525.14 323.19,524.95 324.09,524.64 324.95,524.22 325.74,523.69 326.46,523.06 327.09,522.34 327.62,521.55 328.04,520.69 328.35,519.79 328.54,518.85 328.60,517.90 328.54,516.95 328.35,516.01 328.04,515.11 327.62,514.25 327.09,513.46ZM320.75,523.72 320.11,523.50 319.50,523.20 318.93,522.83 318.42,522.38 317.97,521.87 317.60,521.30 317.30,520.69 317.08,520.05 316.94,519.38 316.90,518.70 316.94,518.02 317.08,517.35 317.30,516.71 317.60,516.10 317.97,515.53 318.42,515.02 318.93,514.57 319.50,514.20 320.11,513.90 320.75,513.68 321.42,513.54 322.10,513.50 322.78,513.54 323.45,513.68 324.09,513.90 324.70,514.20 325.27,514.57 325.78,515.02 326.23,515.53 326.60,516.10 326.90,516.71 327.12,517.35 327.26,518.02 327.30,518.70 327.26,519.38 327.12,520.05 326.90,520.69 326.60,521.30 326.23,521.87 325.78,522.38 325.27,522.83 324.70,523.20 324.09,523.50 323.45,523.72 322.78,523.86 322.10,523.90 321.42,523.86ZM334.10,511.40 334.10,525.20 347.90,525.20 347.90,511.40ZM341.12,524.26 340.45,524.12 339.81,523.90 339.20,523.60 338.63,523.23 338.12,522.78 337.67,522.27 337.30,521.70 337.00,521.09 336.78,520.45 336.64,519.78 336.60,519.10 336.64,518.42 336.78,517.75 337.00,517.11 337.30,516.50 337.67,515.93 338.12,515.42 338.63,514.97 339.20,514.60 339.81,514.30 340.45,514.08 341.12,513.94 341.80,513.90 342.48,513.94 343.15,514.08 343.79,514.30 344.40,514.60 344.97,514.97 345.48,515.42 345.93,515.93 346.30,516.50 346.60,517.11 346.82,517.75 346.96,518.42 347.00,519.10 346.96,519.78 346.82,520.45 346.60,521.09 346.30,521.70 345.93,522.27 345.48,522.78 344.97,523.23 344.40,523.60 343.79,523.90 343.15,524.12 342.48,524.26 341.80,524.30ZM310.50,516.00 309.50,516.00 309.50,529.00 310.50,529.00ZM312.00,524.00 312.00,530.00 318.00,528.00ZM174.52,517.88 174.06,517.47 173.55,517.13 173.00,516.86 172.42,516.66 171.81,516.54 171.20,516.50 170.59,516.54 169.98,516.66 169.40,516.86 168.85,517.13 168.34,517.47 167.88,517.88 167.47,518.34 167.13,518.85 166.86,519.40 166.66,519.98 166.54,520.59 166.50,521.20 166.54,521.81 166.66,522.42 166.86,523.00 167.13,523.55 167.47,524.06 167.88,524.52 168.34,524.93 168.85,525.27 169.40,525.54 169.98,525.74 170.59,525.86 171.20,525.90 171.81,525.86 171.94,525.83 179.09,533.57 179.28,533.75 179.49,533.92 179.72,534.06 179.96,534.18 180.21,534.28 180.47,534.34 180.73,534.39 181.00,534.40 227.70,534.40 227.70,529.20 182.14,529.20 175.76,522.30 175.86,521.81 175.90,521.20 175.86,520.59 175.74,519.98 175.54,519.40 175.27,518.85 174.93,518.34ZM172.00,524.30 171.70,524.28 171.40,524.22 171.12,524.12 170.85,523.99 170.60,523.82 170.37,523.63 170.18,523.40 170.01,523.15 169.88,522.88 169.78,522.60 169.72,522.30 169.70,522.00 169.72,521.70 169.78,521.40 169.88,521.12 170.01,520.85 170.18,520.60 170.37,520.37 170.60,520.18 170.85,520.01 171.12,519.88 171.40,519.78 171.70,519.72 172.00,519.70 172.30,519.72 172.60,519.78 172.88,519.88 173.15,520.01 173.40,520.18 173.63,520.37 173.82,520.60 173.99,520.85 174.12,521.12 174.22,521.40 174.28,521.70 174.30,522.00 174.28,522.30 174.22,522.60 174.12,522.88 173.99,523.15 173.82,523.40 173.63,523.63 173.40,523.82 173.15,523.99 172.88,524.12 172.60,524.22 172.30,524.28ZM161.20,534.40 174.00,534.40 165.20,528.00ZM152.07,536.35 151.73,535.84 151.32,535.38 150.86,534.97 150.35,534.63 149.80,534.36 149.22,534.16 148.61,534.04 148.00,534.00 147.39,534.04 146.78,534.16 146.20,534.36 145.65,534.63 145.14,534.97 144.68,535.38 144.27,535.84 143.93,536.35 143.66,536.90 143.46,537.48 143.34,538.09 143.30,538.70 143.34,539.31 143.46,539.92 143.66,540.50 143.93,541.05 144.27,541.56 144.68,542.02 145.14,542.43 145.65,542.77 146.20,543.04 146.78,543.24 147.39,543.36 148.00,543.40 148.00,544.20 227.70,544.20 227.70,539.00 152.68,539.00 152.70,538.70 152.66,538.09 152.54,537.48 152.34,536.90ZM149.10,541.78 148.80,541.80 148.50,541.78 148.20,541.72 147.92,541.62 147.65,541.49 147.40,541.32 147.17,541.13 146.98,540.90 146.81,540.65 146.68,540.38 146.58,540.10 146.52,539.80 146.50,539.50 146.52,539.20 146.58,538.90 146.68,538.62 146.81,538.35 146.98,538.10 147.17,537.87 147.40,537.68 147.65,537.51 147.92,537.38 148.20,537.28 148.50,537.22 148.80,537.20 149.10,537.22 149.40,537.28 149.68,537.38 149.95,537.51 150.20,537.68 150.43,537.87 150.62,538.10 150.79,538.35 150.92,538.62 151.02,538.90 151.08,539.20 151.10,539.50 151.08,539.80 151.02,540.10 150.92,540.38 150.79,540.65 150.62,540.90 150.43,541.13 150.20,541.32 149.95,541.49 149.68,541.62 149.40,541.72ZM231.20,528.50 231.20,544.40 239.10,544.40 239.10,528.50ZM202.60,549.50 170.00,549.50 170.00,554.60 202.60,554.60ZM148.93,582.80 148.61,582.74 148.00,582.70 147.39,582.74 146.78,582.86 146.20,583.06 145.65,583.33 145.14,583.67 144.68,584.08 144.27,584.54 143.93,585.05 143.66,585.60 143.46,586.18 143.34,586.79 143.30,587.40 143.34,588.01 143.46,588.62 143.66,589.20 143.93,589.75 144.27,590.26 144.68,590.72 145.14,591.13 145.65,591.47 146.20,591.74 146.78,591.94 147.39,592.06 148.00,592.10 148.61,592.06 149.22,591.94 149.80,591.74 150.35,591.47 150.86,591.13 151.32,590.72 151.73,590.26 152.07,589.75 152.34,589.20 152.54,588.62 152.66,588.01 152.70,587.40 152.66,586.79 152.60,586.49 175.77,563.40 227.70,563.40 227.70,558.20 174.70,558.20 174.45,558.21 174.19,558.25 173.95,558.31 173.71,558.40 173.48,558.51 173.26,558.64 173.05,558.79 172.86,558.96ZM149.40,590.42 149.10,590.48 148.80,590.50 148.50,590.48 148.20,590.42 147.92,590.32 147.65,590.19 147.40,590.02 147.17,589.83 146.98,589.60 146.81,589.35 146.68,589.08 146.58,588.80 146.52,588.50 146.50,588.20 146.52,587.90 146.58,587.60 146.68,587.32 146.81,587.05 146.98,586.80 147.17,586.57 147.40,586.38 147.65,586.21 147.92,586.08 148.20,585.98 148.50,585.92 148.80,585.90 149.10,585.92 149.40,585.98 149.68,586.08 149.95,586.21 150.20,586.38 150.43,586.57 150.62,586.80 150.79,587.05 150.92,587.32 151.02,587.60 151.08,587.90 151.10,588.20 151.08,588.50 151.02,588.80 150.92,589.08 150.79,589.35 150.62,589.60 150.43,589.83 150.20,590.02 149.95,590.19 149.68,590.32ZM239.10,558.30 231.20,558.30 231.20,563.50 239.10,563.50ZM203.20,568.60 202.20,568.60 202.20,575.70 203.20,575.70ZM139.70,541.00 139.70,536.00 138.70,536.00 138.70,541.00ZM138.70,590.00 139.70,590.00 139.70,585.00 138.70,585.00ZM304.30,634.00 295.50,634.00 295.50,638.00 304.30,638.00ZM309.64,639.73 310.15,640.07 310.70,640.34 311.28,640.54 311.89,640.66 312.50,640.70 313.11,640.66 313.72,640.54 314.30,640.34 314.85,640.07 315.36,639.73 315.82,639.32 316.23,638.86 316.57,638.35 316.84,637.80 317.04,637.22 317.16,636.61 317.20,636.00 317.16,635.39 317.04,634.78 316.84,634.20 316.57,633.65 316.23,633.14 315.82,632.68 315.36,632.27 314.85,631.93 314.30,631.66 313.72,631.46 313.11,631.34 312.50,631.30 311.89,631.34 311.28,631.46 310.70,631.66 310.15,631.93 309.64,632.27 309.18,632.68 308.77,633.14 308.43,633.65 308.16,634.20 307.96,634.78 307.84,635.39 307.80,636.00 307.84,636.61 307.96,637.22 308.16,637.80 308.43,638.35 308.77,638.86 309.18,639.32ZM314.40,638.71 314.14,638.83 313.87,638.93 313.59,638.98 313.30,639.00 313.01,638.98 312.73,638.93 312.46,638.83 312.20,638.71 311.96,638.55 311.74,638.36 311.55,638.14 311.39,637.90 311.27,637.64 311.17,637.37 311.12,637.09 311.10,636.80 311.12,636.51 311.17,636.23 311.27,635.96 311.39,635.70 311.55,635.46 311.74,635.24 311.96,635.05 312.20,634.89 312.46,634.77 312.73,634.67 313.01,634.62 313.30,634.60 313.59,634.62 313.87,634.67 314.14,634.77 314.40,634.89 314.64,635.05 314.86,635.24 315.05,635.46 315.21,635.70 315.33,635.96 315.43,636.23 315.48,636.51 315.50,636.80 315.48,637.09 315.43,637.37 315.33,637.64 315.21,637.90 315.05,638.14 314.86,638.36 314.64,638.55ZM329.34,680.36 330.13,681.05 331.00,681.63 331.94,682.09 332.93,682.43 333.96,682.63 335.00,682.70 336.04,682.63 337.07,682.43 338.06,682.09 339.00,681.63 339.87,681.05 340.66,680.36 341.35,679.57 341.93,678.70 342.39,677.76 342.73,676.77 342.93,675.74 343.00,674.70 342.93,673.66 342.73,672.63 342.39,671.64 341.93,670.70 341.35,669.83 340.66,669.04 339.87,668.35 339.00,667.77 338.06,667.31 337.07,666.97 336.04,666.77 335.00,666.70 333.96,666.77 332.93,666.97 331.94,667.31 331.00,667.77 330.13,668.35 329.34,669.04 328.65,669.83 328.07,670.70 327.61,671.64 327.27,672.63 327.07,673.66 327.00,674.70 327.07,675.74 327.27,676.77 327.61,677.76 328.07,678.70 328.65,679.57ZM339.57,680.42 338.90,680.87 338.17,681.23 337.40,681.49 336.61,681.65 335.80,681.70 334.99,681.65 334.20,681.49 333.43,681.23 332.70,680.87 332.03,680.42 331.42,679.88 330.88,679.27 330.43,678.60 330.07,677.87 329.81,677.10 329.65,676.31 329.60,675.50 329.65,674.69 329.81,673.90 330.07,673.13 330.43,672.40 330.88,671.73 331.42,671.12 332.03,670.58 332.70,670.13 333.43,669.77 334.20,669.51 334.99,669.35 335.80,669.30 336.61,669.35 337.40,669.51 338.17,669.77 338.90,670.13 339.57,670.58 340.18,671.12 340.72,671.73 341.17,672.40 341.53,673.13 341.79,673.90 341.95,674.69 342.00,675.50 341.95,676.31 341.79,677.10 341.53,677.87 341.17,678.60 340.72,679.27 340.18,679.88ZM345.27,540.16 345.68,540.62 346.14,541.03 346.65,541.37 347.20,541.64 347.78,541.84 348.39,541.96 349.00,542.00 349.61,541.96 350.22,541.84 350.80,541.64 351.35,541.37 351.86,541.03 352.32,540.62 352.73,540.16 353.07,539.65 353.34,539.10 353.54,538.52 353.66,537.91 353.70,537.30 353.66,536.69 353.54,536.08 353.34,535.50 353.07,534.95 352.73,534.44 352.32,533.98 351.86,533.57 351.35,533.23 350.80,532.96 350.22,532.76 349.61,532.64 349.00,532.60 348.39,532.64 347.78,532.76 347.20,532.96 346.65,533.23 346.14,533.57 345.68,533.98 345.27,534.44 344.93,534.95 344.66,535.50 344.46,536.08 344.34,536.69 344.30,537.30 344.34,537.91 344.46,538.52 344.66,539.10 344.93,539.65ZM351.36,539.66 351.14,539.85 350.90,540.01 350.64,540.13 350.37,540.23 350.09,540.28 349.80,540.30 349.51,540.28 349.23,540.23 348.96,540.13 348.70,540.01 348.46,539.85 348.24,539.66 348.05,539.44 347.89,539.20 347.77,538.94 347.67,538.67 347.62,538.39 347.60,538.10 347.62,537.81 347.67,537.53 347.77,537.26 347.89,537.00 348.05,536.76 348.24,536.54 348.46,536.35 348.70,536.19 348.96,536.07 349.23,535.97 349.51,535.92 349.80,535.90 350.09,535.92 350.37,535.97 350.64,536.07 350.90,536.19 351.14,536.35 351.36,536.54 351.55,536.76 351.71,537.00 351.83,537.26 351.93,537.53 351.98,537.81 352.00,538.10 351.98,538.39 351.93,538.67 351.83,538.94 351.71,539.20 351.55,539.44ZM344.93,637.65 345.27,638.16 345.68,638.62 346.14,639.03 346.65,639.37 347.20,639.64 347.78,639.84 348.39,639.96 349.00,640.00 349.61,639.96 350.22,639.84 350.80,639.64 351.35,639.37 351.86,639.03 352.32,638.62 352.73,638.16 353.07,637.65 353.34,637.10 353.54,636.52 353.66,635.91 353.70,635.30 353.66,634.69 353.54,634.08 353.34,633.50 353.07,632.95 352.73,632.44 352.32,631.98 351.86,631.57 351.35,631.23 350.80,630.96 350.22,630.76 349.61,630.64 349.00,630.60 348.39,630.64 347.78,630.76 347.20,630.96 346.65,631.23 346.14,631.57 345.68,631.98 345.27,632.44 344.93,632.95 344.66,633.50 344.46,634.08 344.34,634.69 344.30,635.30 344.34,635.91 344.46,636.52 344.66,637.10ZM351.55,637.44 351.36,637.66 351.14,637.85 350.90,638.01 350.64,638.13 350.37,638.23 350.09,638.28 349.80,638.30 349.51,638.28 349.23,638.23 348.96,638.13 348.70,638.01 348.46,637.85 348.24,637.66 348.05,637.44 347.89,637.20 347.77,636.94 347.67,636.67 347.62,636.39 347.60,636.10 347.62,635.81 347.67,635.53 347.77,635.26 347.89,635.00 348.05,634.76 348.24,634.54 348.46,634.35 348.70,634.19 348.96,634.07 349.23,633.97 349.51,633.92 349.80,633.90 350.09,633.92 350.37,633.97 350.64,634.07 350.90,634.19 351.14,634.35 351.36,634.54 351.55,634.76 351.71,635.00 351.83,635.26 351.93,635.53 351.98,635.81 352.00,636.10 351.98,636.39 351.93,636.67 351.83,636.94 351.71,637.20ZM254.20,736.00 248.00,742.00 183.30,742.00 183.30,747.40 248.00,747.40 250.00,747.40 250.00,745.62 258.00,738.50 298.10,738.50 298.10,700.40 254.20,700.40 254.20,716.40 147.94,716.40 147.63,715.94 147.22,715.48 146.76,715.07 146.25,714.73 145.70,714.46 145.12,714.26 144.51,714.14 143.90,714.10 143.29,714.14 142.68,714.26 142.10,714.46 141.55,714.73 141.04,715.07 140.58,715.48 140.17,715.94 139.83,716.45 139.56,717.00 139.36,717.58 139.24,718.19 139.20,718.80 139.24,719.41 139.36,720.02 139.56,720.60 139.83,721.15 140.17,721.66 140.58,722.12 141.04,722.53 141.55,722.87 142.10,723.14 142.68,723.34 143.29,723.46 143.90,723.50 144.51,723.46 145.12,723.34 145.70,723.14 146.25,722.87 146.76,722.53 147.22,722.12 147.63,721.66 147.67,721.60 254.20,721.60ZM146.69,720.75 146.52,721.00 146.33,721.23 146.10,721.42 145.85,721.59 145.58,721.72 145.30,721.82 145.00,721.88 144.70,721.90 144.40,721.88 144.10,721.82 143.82,721.72 143.55,721.59 143.30,721.42 143.07,721.23 142.88,721.00 142.71,720.75 142.58,720.48 142.48,720.20 142.42,719.90 142.40,719.60 142.42,719.30 142.48,719.00 142.58,718.72 142.71,718.45 142.88,718.20 143.07,717.97 143.30,717.78 143.55,717.61 143.82,717.48 144.10,717.38 144.40,717.32 144.70,717.30 145.00,717.32 145.30,717.38 145.58,717.48 145.85,717.61 146.10,717.78 146.33,717.97 146.52,718.20 146.69,718.45 146.82,718.72 146.92,719.00 146.98,719.30 147.00,719.60 146.98,719.90 146.92,720.20 146.82,720.48ZM138.25,680.97 138.76,680.63 139.22,680.22 139.63,679.76 139.74,679.60 165.74,679.60 180.88,694.46 181.07,694.62 181.27,694.77 181.49,694.90 181.72,695.01 181.95,695.09 182.20,695.15 182.45,695.19 182.70,695.20 202.40,695.20 202.40,690.00 183.76,690.00 168.62,675.14 168.43,674.98 168.23,674.83 168.01,674.70 167.78,674.59 167.55,674.51 167.30,674.45 167.05,674.41 166.80,674.40 139.87,674.40 139.63,674.04 139.22,673.58 138.76,673.17 138.25,672.83 137.70,672.56 137.12,672.36 136.51,672.24 135.90,672.20 135.29,672.24 134.68,672.36 134.10,672.56 133.55,672.83 133.04,673.17 132.58,673.58 132.17,674.04 131.83,674.55 131.56,675.10 131.36,675.68 131.24,676.29 131.20,676.90 131.24,677.51 131.36,678.12 131.56,678.70 131.83,679.25 132.17,679.76 132.58,680.22 133.04,680.63 133.55,680.97 134.10,681.24 134.68,681.44 135.29,681.56 135.90,681.60 136.51,681.56 137.12,681.44 137.70,681.24ZM138.82,678.58 138.69,678.85 138.52,679.10 138.33,679.33 138.10,679.52 137.85,679.69 137.58,679.82 137.30,679.92 137.00,679.98 136.70,680.00 136.40,679.98 136.10,679.92 135.82,679.82 135.55,679.69 135.30,679.52 135.07,679.33 134.88,679.10 134.71,678.85 134.58,678.58 134.48,678.30 134.42,678.00 134.40,677.70 134.42,677.40 134.48,677.10 134.58,676.82 134.71,676.55 134.88,676.30 135.07,676.07 135.30,675.88 135.55,675.71 135.82,675.58 136.10,675.48 136.40,675.42 136.70,675.40 137.00,675.42 137.30,675.48 137.58,675.58 137.85,675.71 138.10,675.88 138.33,676.07 138.52,676.30 138.69,676.55 138.82,676.82 138.92,677.10 138.98,677.40 139.00,677.70 138.98,678.00 138.92,678.30ZM152.57,694.66 152.98,695.12 153.44,695.53 153.95,695.87 154.50,696.14 155.08,696.34 155.69,696.46 156.30,696.50 156.91,696.46 157.06,696.43 167.60,707.77 167.79,707.96 168.00,708.12 168.22,708.26 168.46,708.38 168.71,708.48 168.97,708.55 169.23,708.59 169.50,708.60 202.40,708.60 202.40,703.40 170.63,703.40 160.86,692.89 160.96,692.41 161.00,691.80 160.96,691.19 160.84,690.58 160.64,690.00 160.37,689.45 160.03,688.94 159.62,688.48 159.16,688.07 158.65,687.73 158.10,687.46 157.52,687.26 156.91,687.14 156.30,687.10 155.69,687.14 155.08,687.26 154.50,687.46 153.95,687.73 153.44,688.07 152.98,688.48 152.57,688.94 152.23,689.45 151.96,690.00 151.76,690.58 151.64,691.19 151.60,691.80 151.64,692.41 151.76,693.02 151.96,693.60 152.23,694.15ZM159.32,693.20 159.22,693.48 159.09,693.75 158.92,694.00 158.73,694.23 158.50,694.42 158.25,694.59 157.98,694.72 157.70,694.82 157.40,694.88 157.10,694.90 156.80,694.88 156.50,694.82 156.22,694.72 155.95,694.59 155.70,694.42 155.47,694.23 155.28,694.00 155.11,693.75 154.98,693.48 154.88,693.20 154.82,692.90 154.80,692.60 154.82,692.30 154.88,692.00 154.98,691.72 155.11,691.45 155.28,691.20 155.47,690.97 155.70,690.78 155.95,690.61 156.22,690.48 156.50,690.38 156.80,690.32 157.10,690.30 157.40,690.32 157.70,690.38 157.98,690.48 158.25,690.61 158.50,690.78 158.73,690.97 158.92,691.20 159.09,691.45 159.22,691.72 159.32,692.00 159.38,692.30 159.40,692.60 159.38,692.90ZM160.50,684.00 160.50,688.70 171.50,699.70 179.50,699.70 179.50,695.00 168.50,684.00ZM150.90,684.80 141.30,684.80 147.70,691.80ZM158.20,712.50 168.40,712.50 158.20,704.50ZM154.50,736.76 153.95,737.03 153.44,737.37 152.98,737.78 152.57,738.24 152.23,738.75 151.96,739.30 151.76,739.88 151.64,740.49 151.60,741.10 151.64,741.71 151.76,742.32 151.96,742.90 152.23,743.45 152.57,743.96 152.98,744.42 153.44,744.83 153.95,745.17 154.50,745.44 155.08,745.64 155.69,745.76 156.30,745.80 156.91,745.76 157.52,745.64 158.10,745.44 158.65,745.17 159.16,744.83 159.62,744.42 160.03,743.96 160.37,743.45 160.64,742.90 160.84,742.32 160.96,741.71 161.00,741.10 160.96,740.49 160.84,739.88 160.64,739.30 160.37,738.75 160.03,738.24 159.62,737.78 159.16,737.37 158.65,737.03 158.10,736.76 157.52,736.56 156.91,736.44 156.30,736.40 155.69,736.44 155.08,736.56ZM159.38,742.20 159.32,742.50 159.22,742.78 159.09,743.05 158.92,743.30 158.73,743.53 158.50,743.72 158.25,743.89 157.98,744.02 157.70,744.12 157.40,744.18 157.10,744.20 156.80,744.18 156.50,744.12 156.22,744.02 155.95,743.89 155.70,743.72 155.47,743.53 155.28,743.30 155.11,743.05 154.98,742.78 154.88,742.50 154.82,742.20 154.80,741.90 154.82,741.60 154.88,741.30 154.98,741.02 155.11,740.75 155.28,740.50 155.47,740.27 155.70,740.08 155.95,739.91 156.22,739.78 156.50,739.68 156.80,739.62 157.10,739.60 157.40,739.62 157.70,739.68 157.98,739.78 158.25,739.91 158.50,740.08 158.73,740.27 158.92,740.50 159.09,740.75 159.22,741.02 159.32,741.30 159.38,741.60 159.40,741.90ZM163.60,744.00 166.80,734.70 170.60,726.80 147.70,726.80 158.80,734.70ZM128.26,780.27 128.00,780.10 128.00,774.13 148.72,754.80 166.80,754.80 167.06,754.79 167.32,754.75 167.57,754.68 167.81,754.59 168.05,754.48 168.27,754.34 168.48,754.19 168.67,754.01 168.84,753.81 174.54,746.61 174.68,746.41 174.81,746.20 174.91,745.97 174.99,745.74 175.05,745.49 175.09,745.25 175.10,745.00 175.10,734.30 202.40,734.30 202.40,729.10 172.50,729.10 172.25,729.11 171.99,729.15 171.75,729.21 171.51,729.30 171.27,729.41 171.06,729.54 170.85,729.69 170.66,729.86 170.49,730.05 170.34,730.26 170.21,730.47 170.10,730.71 170.01,730.95 169.95,731.19 169.91,731.45 169.90,731.70 169.90,744.10 165.54,749.60 147.70,749.60 147.46,749.61 147.21,749.65 146.98,749.70 146.75,749.78 146.52,749.88 146.31,750.00 146.11,750.14 145.93,750.30 123.63,771.10 123.44,771.29 123.28,771.50 123.13,771.72 123.02,771.96 122.92,772.21 122.85,772.47 122.81,772.73 122.80,773.00 122.80,780.10 122.54,780.27 122.08,780.68 121.67,781.14 121.33,781.65 121.06,782.20 120.86,782.78 120.74,783.39 120.70,784.00 120.74,784.61 120.86,785.22 121.06,785.80 121.33,786.35 121.67,786.86 122.08,787.32 122.54,787.73 123.05,788.07 123.60,788.34 124.18,788.54 124.79,788.66 125.40,788.70 126.01,788.66 126.62,788.54 127.20,788.34 127.75,788.07 128.26,787.73 128.72,787.32 129.13,786.86 129.47,786.35 129.74,785.80 129.94,785.22 130.06,784.61 130.10,784.00 130.06,783.39 129.94,782.78 129.74,782.20 129.47,781.65 129.13,781.14 128.72,780.68ZM128.50,784.80 128.48,785.10 128.42,785.40 128.32,785.68 128.19,785.95 128.02,786.20 127.83,786.43 127.60,786.62 127.35,786.79 127.08,786.92 126.80,787.02 126.50,787.08 126.20,787.10 125.90,787.08 125.60,787.02 125.32,786.92 125.05,786.79 124.80,786.62 124.57,786.43 124.38,786.20 124.21,785.95 124.08,785.68 123.98,785.40 123.92,785.10 123.90,784.80 123.92,784.50 123.98,784.20 124.08,783.92 124.21,783.65 124.38,783.40 124.57,783.17 124.80,782.98 125.05,782.81 125.32,782.68 125.60,782.58 125.90,782.52 126.20,782.50 126.50,782.52 126.80,782.58 127.08,782.68 127.35,782.81 127.60,782.98 127.83,783.17 128.02,783.40 128.19,783.65 128.32,783.92 128.42,784.20 128.48,784.50ZM162.01,760.94 161.40,760.90 160.79,760.94 160.18,761.06 159.60,761.26 159.05,761.53 158.54,761.87 158.08,762.28 157.67,762.74 157.33,763.25 157.06,763.80 156.86,764.38 156.74,764.99 156.70,765.60 156.74,766.21 156.86,766.82 157.06,767.40 157.33,767.95 157.67,768.46 158.08,768.92 158.54,769.33 159.05,769.67 159.60,769.94 160.18,770.14 160.79,770.26 161.40,770.30 162.01,770.26 162.62,770.14 163.20,769.94 163.75,769.67 164.26,769.33 164.72,768.92 165.13,768.46 165.47,767.95 165.74,767.40 165.94,766.82 166.06,766.21 166.10,765.60 166.06,764.99 165.94,764.38 165.74,763.80 165.47,763.25 165.13,762.74 164.72,762.28 164.26,761.87 163.75,761.53 163.20,761.26 162.62,761.06ZM164.48,766.10 164.50,766.40 164.48,766.70 164.42,767.00 164.32,767.28 164.19,767.55 164.02,767.80 163.83,768.03 163.60,768.22 163.35,768.39 163.08,768.52 162.80,768.62 162.50,768.68 162.20,768.70 161.90,768.68 161.60,768.62 161.32,768.52 161.05,768.39 160.80,768.22 160.57,768.03 160.38,767.80 160.21,767.55 160.08,767.28 159.98,767.00 159.92,766.70 159.90,766.40 159.92,766.10 159.98,765.80 160.08,765.52 160.21,765.25 160.38,765.00 160.57,764.77 160.80,764.58 161.05,764.41 161.32,764.28 161.60,764.18 161.90,764.12 162.20,764.10 162.50,764.12 162.80,764.18 163.08,764.28 163.35,764.41 163.60,764.58 163.83,764.77 164.02,765.00 164.19,765.25 164.32,765.52 164.42,765.80ZM154.00,766.50 150.90,760.20 144.50,766.50ZM206.00,700.00 206.00,712.00 207.00,712.00 207.00,700.00ZM207.00,737.00 207.00,727.00 209.50,727.00 209.50,726.00 207.00,726.00 206.00,726.00 206.00,738.00 207.00,738.00 209.50,738.00 209.50,737.00ZM98.40,799.00 98.40,812.80 112.20,812.80 112.20,799.00ZM111.12,805.35 111.26,806.02 111.30,806.70 111.26,807.38 111.12,808.05 110.90,808.69 110.60,809.30 110.23,809.87 109.78,810.38 109.27,810.83 108.70,811.20 108.09,811.50 107.45,811.72 106.78,811.86 106.10,811.90 105.42,811.86 104.75,811.72 104.11,811.50 103.50,811.20 102.93,810.83 102.42,810.38 101.97,809.87 101.60,809.30 101.30,808.69 101.08,808.05 100.94,807.38 100.90,806.70 100.94,806.02 101.08,805.35 101.30,804.71 101.60,804.10 101.97,803.53 102.42,803.02 102.93,802.57 103.50,802.20 104.11,801.90 104.75,801.68 105.42,801.54 106.10,801.50 106.78,801.54 107.45,801.68 108.09,801.90 108.70,802.20 109.27,802.57 109.78,803.02 110.23,803.53 110.60,804.10 110.90,804.71ZM131.29,801.46 130.66,800.74 129.94,800.11 129.15,799.58 128.29,799.16 127.39,798.85 126.45,798.66 125.50,798.60 124.55,798.66 123.61,798.85 122.71,799.16 121.85,799.58 121.06,800.11 120.34,800.74 119.71,801.46 119.18,802.25 118.76,803.11 118.45,804.01 118.26,804.95 118.20,805.90 118.26,806.85 118.45,807.79 118.76,808.69 119.18,809.55 119.71,810.34 120.34,811.06 121.06,811.69 121.85,812.22 122.71,812.64 123.61,812.95 124.55,813.14 125.50,813.20 126.45,813.14 127.39,812.95 128.29,812.64 129.15,812.22 129.94,811.69 130.66,811.06 131.29,810.34 131.82,809.55 132.24,808.69 132.55,807.79 132.74,806.85 132.80,805.90 132.74,804.95 132.55,804.01 132.24,803.11 131.82,802.25ZM131.10,804.71 131.32,805.35 131.46,806.02 131.50,806.70 131.46,807.38 131.32,808.05 131.10,808.69 130.80,809.30 130.43,809.87 129.98,810.38 129.47,810.83 128.90,811.20 128.29,811.50 127.65,811.72 126.98,811.86 126.30,811.90 125.62,811.86 124.95,811.72 124.31,811.50 123.70,811.20 123.13,810.83 122.62,810.38 122.17,809.87 121.80,809.30 121.50,808.69 121.28,808.05 121.14,807.38 121.10,806.70 121.14,806.02 121.28,805.35 121.50,804.71 121.80,804.10 122.17,803.53 122.62,803.02 123.13,802.57 123.70,802.20 124.31,801.90 124.95,801.68 125.62,801.54 126.30,801.50 126.98,801.54 127.65,801.68 128.29,801.90 128.90,802.20 129.47,802.57 129.98,803.02 130.43,803.53 130.80,804.10ZM151.02,802.25 150.49,801.46 149.86,800.74 149.14,800.11 148.35,799.58 147.49,799.16 146.59,798.85 145.65,798.66 144.70,798.60 143.75,798.66 142.81,798.85 141.91,799.16 141.05,799.58 140.26,800.11 139.54,800.74 138.91,801.46 138.38,802.25 137.96,803.11 137.65,804.01 137.46,804.95 137.40,805.90 137.46,806.85 137.65,807.79 137.96,808.69 138.38,809.55 138.91,810.34 139.54,811.06 140.26,811.69 141.05,812.22 141.91,812.64 142.81,812.95 143.75,813.14 144.70,813.20 145.65,813.14 146.59,812.95 147.49,812.64 148.35,812.22 149.14,811.69 149.86,811.06 150.49,810.34 151.02,809.55 151.44,808.69 151.75,807.79 151.94,806.85 152.00,805.90 151.94,804.95 151.75,804.01 151.44,803.11ZM150.00,804.10 150.30,804.71 150.52,805.35 150.66,806.02 150.70,806.70 150.66,807.38 150.52,808.05 150.30,808.69 150.00,809.30 149.63,809.87 149.18,810.38 148.67,810.83 148.10,811.20 147.49,811.50 146.85,811.72 146.18,811.86 145.50,811.90 144.82,811.86 144.15,811.72 143.51,811.50 142.90,811.20 142.33,810.83 141.82,810.38 141.37,809.87 141.00,809.30 140.70,808.69 140.48,808.05 140.34,807.38 140.30,806.70 140.34,806.02 140.48,805.35 140.70,804.71 141.00,804.10 141.37,803.53 141.82,803.02 142.33,802.57 142.90,802.20 143.51,801.90 144.15,801.68 144.82,801.54 145.50,801.50 146.18,801.54 146.85,801.68 147.49,801.90 148.10,802.20 148.67,802.57 149.18,803.02 149.63,803.53ZM177.24,803.11 176.82,802.25 176.29,801.46 175.66,800.74 174.94,800.11 174.15,799.58 173.29,799.16 172.39,798.85 171.45,798.66 170.50,798.60 169.55,798.66 168.61,798.85 167.71,799.16 166.85,799.58 166.06,800.11 165.34,800.74 164.71,801.46 164.18,802.25 163.76,803.11 163.45,804.01 163.26,804.95 163.20,805.90 163.26,806.85 163.45,807.79 163.76,808.69 164.18,809.55 164.71,810.34 165.34,811.06 166.06,811.69 166.85,812.22 167.71,812.64 168.61,812.95 169.55,813.14 170.50,813.20 171.45,813.14 172.39,812.95 173.29,812.64 174.15,812.22 174.94,811.69 175.66,811.06 176.29,810.34 176.82,809.55 177.24,808.69 177.55,807.79 177.74,806.85 177.80,805.90 177.74,804.95 177.55,804.01ZM175.43,803.53 175.80,804.10 176.10,804.71 176.32,805.35 176.46,806.02 176.50,806.70 176.46,807.38 176.32,808.05 176.10,808.69 175.80,809.30 175.43,809.87 174.98,810.38 174.47,810.83 173.90,811.20 173.29,811.50 172.65,811.72 171.98,811.86 171.30,811.90 170.62,811.86 169.95,811.72 169.31,811.50 168.70,811.20 168.13,810.83 167.62,810.38 167.17,809.87 166.80,809.30 166.50,808.69 166.28,808.05 166.14,807.38 166.10,806.70 166.14,806.02 166.28,805.35 166.50,804.71 166.80,804.10 167.17,803.53 167.62,803.02 168.13,802.57 168.70,802.20 169.31,801.90 169.95,801.68 170.62,801.54 171.30,801.50 171.98,801.54 172.65,801.68 173.29,801.90 173.90,802.20 174.47,802.57 174.98,803.02ZM182.60,812.80 196.40,812.80 196.40,799.00 182.60,799.00ZM193.98,803.02 194.43,803.53 194.80,804.10 195.10,804.71 195.32,805.35 195.46,806.02 195.50,806.70 195.46,807.38 195.32,808.05 195.10,808.69 194.80,809.30 194.43,809.87 193.98,810.38 193.47,810.83 192.90,811.20 192.29,811.50 191.65,811.72 190.98,811.86 190.30,811.90 189.62,811.86 188.95,811.72 188.31,811.50 187.70,811.20 187.13,810.83 186.62,810.38 186.17,809.87 185.80,809.30 185.50,808.69 185.28,808.05 185.14,807.38 185.10,806.70 185.14,806.02 185.28,805.35 185.50,804.71 185.80,804.10 186.17,803.53 186.62,803.02 187.13,802.57 187.70,802.20 188.31,801.90 188.95,801.68 189.62,801.54 190.30,801.50 190.98,801.54 191.65,801.68 192.29,801.90 192.90,802.20 193.47,802.57ZM155.50,805.40 155.50,806.60 160.00,806.60 160.00,805.40ZM95.20,796.60 94.20,796.60 94.20,816.30 95.20,816.30ZM201.10,816.30 201.10,796.60 200.10,796.60 200.10,816.30ZM231.04,794.82 231.16,794.21 231.20,793.60 231.16,792.99 231.04,792.38 230.84,791.80 230.57,791.25 230.23,790.74 229.82,790.28 229.36,789.87 228.85,789.53 228.30,789.26 227.72,789.06 227.11,788.94 226.50,788.90 225.89,788.94 225.28,789.06 224.70,789.26 224.15,789.53 223.64,789.87 223.18,790.28 222.77,790.74 222.43,791.25 222.16,791.80 221.96,792.38 221.84,792.99 221.80,793.60 221.84,794.21 221.96,794.82 222.16,795.40 222.43,795.95 222.77,796.46 223.18,796.92 223.64,797.33 224.15,797.67 224.70,797.94 225.28,798.14 225.89,798.26 226.50,798.30 227.11,798.26 227.72,798.14 228.30,797.94 228.85,797.67 229.36,797.33 229.82,796.92 230.23,796.46 230.57,795.95 230.84,795.40ZM228.64,792.65 228.86,792.84 229.05,793.06 229.21,793.30 229.33,793.56 229.43,793.83 229.48,794.11 229.50,794.40 229.48,794.69 229.43,794.97 229.33,795.24 229.21,795.50 229.05,795.74 228.86,795.96 228.64,796.15 228.40,796.31 228.14,796.43 227.87,796.53 227.59,796.58 227.30,796.60 227.01,796.58 226.73,796.53 226.46,796.43 226.20,796.31 225.96,796.15 225.74,795.96 225.55,795.74 225.39,795.50 225.27,795.24 225.17,794.97 225.12,794.69 225.10,794.40 225.12,794.11 225.17,793.83 225.27,793.56 225.39,793.30 225.55,793.06 225.74,792.84 225.96,792.65 226.20,792.49 226.46,792.37 226.73,792.27 227.01,792.22 227.30,792.20 227.59,792.22 227.87,792.27 228.14,792.37 228.40,792.49ZM230.84,810.70 231.04,810.12 231.16,809.51 231.20,808.90 231.16,808.29 231.04,807.68 230.84,807.10 230.57,806.55 230.23,806.04 229.82,805.58 229.36,805.17 228.85,804.83 228.30,804.56 227.72,804.36 227.11,804.24 226.50,804.20 225.89,804.24 225.28,804.36 224.70,804.56 224.15,804.83 223.64,805.17 223.18,805.58 222.77,806.04 222.43,806.55 222.16,807.10 221.96,807.68 221.84,808.29 221.80,808.90 221.84,809.51 221.96,810.12 222.16,810.70 222.43,811.25 222.77,811.76 223.18,812.22 223.64,812.63 224.15,812.97 224.70,813.24 225.28,813.44 225.89,813.56 226.50,813.60 227.11,813.56 227.72,813.44 228.30,813.24 228.85,812.97 229.36,812.63 229.82,812.22 230.23,811.76 230.57,811.25ZM228.40,807.79 228.64,807.95 228.86,808.14 229.05,808.36 229.21,808.60 229.33,808.86 229.43,809.13 229.48,809.41 229.50,809.70 229.48,809.99 229.43,810.27 229.33,810.54 229.21,810.80 229.05,811.04 228.86,811.26 228.64,811.45 228.40,811.61 228.14,811.73 227.87,811.83 227.59,811.88 227.30,811.90 227.01,811.88 226.73,811.83 226.46,811.73 226.20,811.61 225.96,811.45 225.74,811.26 225.55,811.04 225.39,810.80 225.27,810.54 225.17,810.27 225.12,809.99 225.10,809.70 225.12,809.41 225.17,809.13 225.27,808.86 225.39,808.60 225.55,808.36 225.74,808.14 225.96,807.95 226.20,807.79 226.46,807.67 226.73,807.57 227.01,807.52 227.30,807.50 227.59,807.52 227.87,807.57 228.14,807.67ZM341.93,815.00 342.39,814.06 342.73,813.07 342.93,812.04 343.00,811.00 342.93,809.96 342.73,808.93 342.39,807.94 341.93,807.00 341.35,806.13 340.66,805.34 339.87,804.65 339.00,804.07 338.06,803.61 337.07,803.27 336.04,803.07 335.00,803.00 333.96,803.07 332.93,803.27 331.94,803.61 331.00,804.07 330.13,804.65 329.34,805.34 328.65,806.13 328.07,807.00 327.61,807.94 327.27,808.93 327.07,809.96 327.00,811.00 327.07,812.04 327.27,813.07 327.61,814.06 328.07,815.00 328.65,815.87 329.34,816.66 330.13,817.35 331.00,817.93 331.94,818.39 332.93,818.73 333.96,818.93 335.00,819.00 336.04,818.93 337.07,818.73 338.06,818.39 339.00,817.93 339.87,817.35 340.66,816.66 341.35,815.87ZM338.17,806.07 338.90,806.43 339.57,806.88 340.18,807.42 340.72,808.03 341.17,808.70 341.53,809.43 341.79,810.20 341.95,810.99 342.00,811.80 341.95,812.61 341.79,813.40 341.53,814.17 341.17,814.90 340.72,815.57 340.18,816.18 339.57,816.72 338.90,817.17 338.17,817.53 337.40,817.79 336.61,817.95 335.80,818.00 334.99,817.95 334.20,817.79 333.43,817.53 332.70,817.17 332.03,816.72 331.42,816.18 330.88,815.57 330.43,814.90 330.07,814.17 329.81,813.40 329.65,812.61 329.60,811.80 329.65,810.99 329.81,810.20 330.07,809.43 330.43,808.70 330.88,808.03 331.42,807.42 332.03,806.88 332.70,806.43 333.43,806.07 334.20,805.81 334.99,805.65 335.80,805.60 336.61,805.65 337.40,805.81ZM398.63,796.96 398.97,796.45 399.24,795.90 399.44,795.32 399.56,794.71 399.60,794.10 399.56,793.49 399.44,792.88 399.24,792.30 398.97,791.75 398.63,791.24 398.22,790.78 397.76,790.37 397.25,790.03 396.70,789.76 396.12,789.56 395.51,789.44 394.90,789.40 394.29,789.44 393.68,789.56 393.10,789.76 392.55,790.03 392.04,790.37 391.58,790.78 391.17,791.24 390.83,791.75 390.56,792.30 390.36,792.88 390.24,793.49 390.20,794.10 390.24,794.71 390.36,795.32 390.56,795.90 390.83,796.45 391.17,796.96 391.58,797.42 392.04,797.83 392.55,798.17 393.10,798.44 393.68,798.64 394.29,798.76 394.90,798.80 395.51,798.76 396.12,798.64 396.70,798.44 397.25,798.17 397.76,797.83 398.22,797.42ZM396.27,792.77 396.54,792.87 396.80,792.99 397.04,793.15 397.26,793.34 397.45,793.56 397.61,793.80 397.73,794.06 397.83,794.33 397.88,794.61 397.90,794.90 397.88,795.19 397.83,795.47 397.73,795.74 397.61,796.00 397.45,796.24 397.26,796.46 397.04,796.65 396.80,796.81 396.54,796.93 396.27,797.03 395.99,797.08 395.70,797.10 395.41,797.08 395.13,797.03 394.86,796.93 394.60,796.81 394.36,796.65 394.14,796.46 393.95,796.24 393.79,796.00 393.67,795.74 393.57,795.47 393.52,795.19 393.50,794.90 393.52,794.61 393.57,794.33 393.67,794.06 393.79,793.80 393.95,793.56 394.14,793.34 394.36,793.15 394.60,792.99 394.86,792.87 395.13,792.77 395.41,792.72 395.70,792.70 395.99,792.72ZM398.22,812.52 398.63,812.06 398.97,811.55 399.24,811.00 399.44,810.42 399.56,809.81 399.60,809.20 399.56,808.59 399.44,807.98 399.24,807.40 398.97,806.85 398.63,806.34 398.22,805.88 397.76,805.47 397.25,805.13 396.70,804.86 396.12,804.66 395.51,804.54 394.90,804.50 394.29,804.54 393.68,804.66 393.10,804.86 392.55,805.13 392.04,805.47 391.58,805.88 391.17,806.34 390.83,806.85 390.56,807.40 390.36,807.98 390.24,808.59 390.20,809.20 390.24,809.81 390.36,810.42 390.56,811.00 390.83,811.55 391.17,812.06 391.58,812.52 392.04,812.93 392.55,813.27 393.10,813.54 393.68,813.74 394.29,813.86 394.90,813.90 395.51,813.86 396.12,813.74 396.70,813.54 397.25,813.27 397.76,812.93ZM395.99,807.82 396.27,807.87 396.54,807.97 396.80,808.09 397.04,808.25 397.26,808.44 397.45,808.66 397.61,808.90 397.73,809.16 397.83,809.43 397.88,809.71 397.90,810.00 397.88,810.29 397.83,810.57 397.73,810.84 397.61,811.10 397.45,811.34 397.26,811.56 397.04,811.75 396.80,811.91 396.54,812.03 396.27,812.13 395.99,812.18 395.70,812.20 395.41,812.18 395.13,812.13 394.86,812.03 394.60,811.91 394.36,811.75 394.14,811.56 393.95,811.34 393.79,811.10 393.67,810.84 393.57,810.57 393.52,810.29 393.50,810.00 393.52,809.71 393.57,809.43 393.67,809.16 393.79,808.90 393.95,808.66 394.14,808.44 394.36,808.25 394.60,808.09 394.86,807.97 395.13,807.87 395.41,807.82 395.70,807.80ZM386.00,790.90 386.00,811.50 387.00,811.50 387.00,806.00 391.00,801.50 387.00,797.00 387.00,790.90ZM403.00,798.00 399.00,801.50 403.00,805.00ZM448.19,813.05 449.09,812.74 449.95,812.32 450.74,811.79 451.46,811.16 452.09,810.44 452.62,809.65 453.04,808.79 453.35,807.89 453.54,806.95 453.60,806.00 453.54,805.05 453.35,804.11 453.04,803.21 452.62,802.35 452.09,801.56 451.46,800.84 450.74,800.21 449.95,799.68 449.09,799.26 448.19,798.95 447.25,798.76 446.30,798.70 445.35,798.76 444.41,798.95 443.51,799.26 442.65,799.68 441.86,800.21 441.14,800.84 440.51,801.56 439.98,802.35 439.56,803.21 439.25,804.11 439.06,805.05 439.00,806.00 439.06,806.95 439.25,807.89 439.56,808.79 439.98,809.65 440.51,810.44 441.14,811.16 441.86,811.79 442.65,812.32 443.51,812.74 444.41,813.05 445.35,813.24 446.30,813.30 447.25,813.24ZM447.10,801.60 447.78,801.64 448.45,801.78 449.09,802.00 449.70,802.30 450.27,802.67 450.78,803.12 451.23,803.63 451.60,804.20 451.90,804.81 452.12,805.45 452.26,806.12 452.30,806.80 452.26,807.48 452.12,808.15 451.90,808.79 451.60,809.40 451.23,809.97 450.78,810.48 450.27,810.93 449.70,811.30 449.09,811.60 448.45,811.82 447.78,811.96 447.10,812.00 446.42,811.96 445.75,811.82 445.11,811.60 444.50,811.30 443.93,810.93 443.42,810.48 442.97,809.97 442.60,809.40 442.30,808.79 442.08,808.15 441.94,807.48 441.90,806.80 441.94,806.12 442.08,805.45 442.30,804.81 442.60,804.20 442.97,803.63 443.42,803.12 443.93,802.67 444.50,802.30 445.11,802.00 445.75,801.78 446.42,801.64ZM458.50,799.10 458.50,812.90 472.30,812.90 472.30,799.10ZM465.52,801.64 466.20,801.60 466.88,801.64 467.55,801.78 468.19,802.00 468.80,802.30 469.37,802.67 469.88,803.12 470.33,803.63 470.70,804.20 471.00,804.81 471.22,805.45 471.36,806.12 471.40,806.80 471.36,807.48 471.22,808.15 471.00,808.79 470.70,809.40 470.33,809.97 469.88,810.48 469.37,810.93 468.80,811.30 468.19,811.60 467.55,811.82 466.88,811.96 466.20,812.00 465.52,811.96 464.85,811.82 464.21,811.60 463.60,811.30 463.03,810.93 462.52,810.48 462.07,809.97 461.70,809.40 461.40,808.79 461.18,808.15 461.04,807.48 461.00,806.80 461.04,806.12 461.18,805.45 461.40,804.81 461.70,804.20 462.07,803.63 462.52,803.12 463.03,802.67 463.60,802.30 464.21,802.00 464.85,801.78ZM516.80,798.70 517.41,798.66 518.02,798.54 518.60,798.34 519.15,798.07 519.66,797.73 520.12,797.32 520.53,796.86 520.87,796.35 521.14,795.80 521.34,795.22 521.46,794.61 521.50,794.00 521.46,793.39 521.34,792.78 521.14,792.20 520.87,791.65 520.53,791.14 520.12,790.68 519.66,790.27 519.15,789.93 518.60,789.66 518.02,789.46 517.41,789.34 516.80,789.30 516.19,789.34 515.58,789.46 515.00,789.66 514.45,789.93 513.94,790.27 513.48,790.68 513.07,791.14 512.73,791.65 512.46,792.20 512.26,792.78 512.14,793.39 512.10,794.00 512.14,794.61 512.26,795.22 512.46,795.80 512.73,796.35 513.07,796.86 513.48,797.32 513.94,797.73 514.45,798.07 515.00,798.34 515.58,798.54 516.19,798.66ZM517.03,792.67 517.31,792.62 517.60,792.60 517.89,792.62 518.17,792.67 518.44,792.77 518.70,792.89 518.94,793.05 519.16,793.24 519.35,793.46 519.51,793.70 519.63,793.96 519.73,794.23 519.78,794.51 519.80,794.80 519.78,795.09 519.73,795.37 519.63,795.64 519.51,795.90 519.35,796.14 519.16,796.36 518.94,796.55 518.70,796.71 518.44,796.83 518.17,796.93 517.89,796.98 517.60,797.00 517.31,796.98 517.03,796.93 516.76,796.83 516.50,796.71 516.26,796.55 516.04,796.36 515.85,796.14 515.69,795.90 515.57,795.64 515.47,795.37 515.42,795.09 515.40,794.80 515.42,794.51 515.47,794.23 515.57,793.96 515.69,793.70 515.85,793.46 516.04,793.24 516.26,793.05 516.50,792.89 516.76,792.77ZM516.19,813.16 516.80,813.20 517.41,813.16 518.02,813.04 518.60,812.84 519.15,812.57 519.66,812.23 520.12,811.82 520.53,811.36 520.87,810.85 521.14,810.30 521.34,809.72 521.46,809.11 521.50,808.50 521.46,807.89 521.34,807.28 521.14,806.70 520.87,806.15 520.53,805.64 520.12,805.18 519.66,804.77 519.15,804.43 518.60,804.16 518.02,803.96 517.41,803.84 516.80,803.80 516.19,803.84 515.58,803.96 515.00,804.16 514.45,804.43 513.94,804.77 513.48,805.18 513.07,805.64 512.73,806.15 512.46,806.70 512.26,807.28 512.14,807.89 512.10,808.50 512.14,809.11 512.26,809.72 512.46,810.30 512.73,810.85 513.07,811.36 513.48,811.82 513.94,812.23 514.45,812.57 515.00,812.84 515.58,813.04ZM516.76,807.27 517.03,807.17 517.31,807.12 517.60,807.10 517.89,807.12 518.17,807.17 518.44,807.27 518.70,807.39 518.94,807.55 519.16,807.74 519.35,807.96 519.51,808.20 519.63,808.46 519.73,808.73 519.78,809.01 519.80,809.30 519.78,809.59 519.73,809.87 519.63,810.14 519.51,810.40 519.35,810.64 519.16,810.86 518.94,811.05 518.70,811.21 518.44,811.33 518.17,811.43 517.89,811.48 517.60,811.50 517.31,811.48 517.03,811.43 516.76,811.33 516.50,811.21 516.26,811.05 516.04,810.86 515.85,810.64 515.69,810.40 515.57,810.14 515.47,809.87 515.42,809.59 515.40,809.30 515.42,809.01 515.47,808.73 515.57,808.46 515.69,808.20 515.85,807.96 516.04,807.74 516.26,807.55 516.50,807.39ZM508.00,806.00 512.00,801.50 508.00,797.00ZM571.70,797.54 572.28,797.74 572.89,797.86 573.50,797.90 574.11,797.86 574.72,797.74 575.30,797.54 575.85,797.27 576.36,796.93 576.82,796.52 577.23,796.06 577.57,795.55 577.84,795.00 578.04,794.42 578.16,793.81 578.20,793.20 578.16,792.59 578.04,791.98 577.84,791.40 577.57,790.85 577.23,790.34 576.82,789.88 576.36,789.47 575.85,789.13 575.30,788.86 574.72,788.66 574.11,788.54 573.50,788.50 572.89,788.54 572.28,788.66 571.70,788.86 571.15,789.13 570.64,789.47 570.18,789.88 569.77,790.34 569.43,790.85 569.16,791.40 568.96,791.98 568.84,792.59 568.80,793.20 568.84,793.81 568.96,794.42 569.16,795.00 569.43,795.55 569.77,796.06 570.18,796.52 570.64,796.93 571.15,797.27ZM573.20,792.09 573.46,791.97 573.73,791.87 574.01,791.82 574.30,791.80 574.59,791.82 574.87,791.87 575.14,791.97 575.40,792.09 575.64,792.25 575.86,792.44 576.05,792.66 576.21,792.90 576.33,793.16 576.43,793.43 576.48,793.71 576.50,794.00 576.48,794.29 576.43,794.57 576.33,794.84 576.21,795.10 576.05,795.34 575.86,795.56 575.64,795.75 575.40,795.91 575.14,796.03 574.87,796.13 574.59,796.18 574.30,796.20 574.01,796.18 573.73,796.13 573.46,796.03 573.20,795.91 572.96,795.75 572.74,795.56 572.55,795.34 572.39,795.10 572.27,794.84 572.17,794.57 572.12,794.29 572.10,794.00 572.12,793.71 572.17,793.43 572.27,793.16 572.39,792.90 572.55,792.66 572.74,792.44 572.96,792.25ZM571.15,812.87 571.70,813.14 572.28,813.34 572.89,813.46 573.50,813.50 574.11,813.46 574.72,813.34 575.30,813.14 575.85,812.87 576.36,812.53 576.82,812.12 577.23,811.66 577.57,811.15 577.84,810.60 578.04,810.02 578.16,809.41 578.20,808.80 578.16,808.19 578.04,807.58 577.84,807.00 577.57,806.45 577.23,805.94 576.82,805.48 576.36,805.07 575.85,804.73 575.30,804.46 574.72,804.26 574.11,804.14 573.50,804.10 572.89,804.14 572.28,804.26 571.70,804.46 571.15,804.73 570.64,805.07 570.18,805.48 569.77,805.94 569.43,806.45 569.16,807.00 568.96,807.58 568.84,808.19 568.80,808.80 568.84,809.41 568.96,810.02 569.16,810.60 569.43,811.15 569.77,811.66 570.18,812.12 570.64,812.53ZM572.96,807.85 573.20,807.69 573.46,807.57 573.73,807.47 574.01,807.42 574.30,807.40 574.59,807.42 574.87,807.47 575.14,807.57 575.40,807.69 575.64,807.85 575.86,808.04 576.05,808.26 576.21,808.50 576.33,808.76 576.43,809.03 576.48,809.31 576.50,809.60 576.48,809.89 576.43,810.17 576.33,810.44 576.21,810.70 576.05,810.94 575.86,811.16 575.64,811.35 575.40,811.51 575.14,811.63 574.87,811.73 574.59,811.78 574.30,811.80 574.01,811.78 573.73,811.73 573.46,811.63 573.20,811.51 572.96,811.35 572.74,811.16 572.55,810.94 572.39,810.70 572.27,810.44 572.17,810.17 572.12,809.89 572.10,809.60 572.12,809.31 572.17,809.03 572.27,808.76 572.39,808.50 572.55,808.26 572.74,808.04ZM569.50,801.00 564.50,796.00 564.50,790.00 563.50,790.00 563.50,811.00 564.50,811.00 564.50,806.00ZM581.50,804.00 581.50,798.00 577.50,801.00ZM377.35,538.55 377.87,539.32 378.48,540.02 379.18,540.63 379.95,541.15 380.78,541.56 381.66,541.86 382.57,542.04 383.50,542.10 384.43,542.04 385.34,541.86 386.22,541.56 387.05,541.15 387.82,540.63 388.52,540.02 389.13,539.32 389.65,538.55 390.06,537.72 390.36,536.84 390.54,535.93 390.60,535.00 390.54,534.07 390.36,533.16 390.06,532.28 389.65,531.45 389.13,530.68 388.52,529.98 387.82,529.37 387.05,528.85 386.22,528.44 385.34,528.14 384.43,527.96 383.50,527.90 382.57,527.96 381.66,528.14 380.78,528.44 379.95,528.85 379.18,529.37 378.48,529.98 377.87,530.68 377.35,531.45 376.94,532.28 376.64,533.16 376.46,534.07 376.40,535.00 376.46,535.93 376.64,536.84 376.94,537.72ZM380.48,531.98 381.01,531.52 381.60,531.12 382.23,530.81 382.90,530.58 383.60,530.45 384.30,530.40 385.00,530.45 385.70,530.58 386.37,530.81 387.00,531.12 387.59,531.52 388.12,531.98 388.58,532.51 388.98,533.10 389.29,533.73 389.52,534.40 389.65,535.10 389.70,535.80 389.65,536.50 389.52,537.20 389.29,537.87 388.98,538.50 388.58,539.09 388.12,539.62 387.59,540.08 387.00,540.48 386.37,540.79 385.70,541.02 385.00,541.15 384.30,541.20 383.60,541.15 382.90,541.02 382.23,540.79 381.60,540.48 381.01,540.08 380.48,539.62 380.02,539.09 379.62,538.50 379.31,537.87 379.08,537.20 378.95,536.50 378.90,535.80 378.95,535.10 379.08,534.40 379.31,533.73 379.62,533.10 380.02,532.51ZM395.74,537.72 396.15,538.55 396.67,539.32 397.28,540.02 397.98,540.63 398.75,541.15 399.58,541.56 400.46,541.86 401.37,542.04 402.30,542.10 403.23,542.04 404.14,541.86 405.02,541.56 405.85,541.15 406.62,540.63 407.32,540.02 407.93,539.32 408.45,538.55 408.86,537.72 409.16,536.84 409.34,535.93 409.40,535.00 409.34,534.07 409.16,533.16 408.86,532.28 408.45,531.45 407.93,530.68 407.32,529.98 406.62,529.37 405.85,528.85 405.02,528.44 404.14,528.14 403.23,527.96 402.30,527.90 401.37,527.96 400.46,528.14 399.58,528.44 398.75,528.85 397.98,529.37 397.28,529.98 396.67,530.68 396.15,531.45 395.74,532.28 395.44,533.16 395.26,534.07 395.20,535.00 395.26,535.93 395.44,536.84ZM398.82,532.51 399.28,531.98 399.81,531.52 400.40,531.12 401.03,530.81 401.70,530.58 402.40,530.45 403.10,530.40 403.80,530.45 404.50,530.58 405.17,530.81 405.80,531.12 406.39,531.52 406.92,531.98 407.38,532.51 407.78,533.10 408.09,533.73 408.32,534.40 408.45,535.10 408.50,535.80 408.45,536.50 408.32,537.20 408.09,537.87 407.78,538.50 407.38,539.09 406.92,539.62 406.39,540.08 405.80,540.48 405.17,540.79 404.50,541.02 403.80,541.15 403.10,541.20 402.40,541.15 401.70,541.02 401.03,540.79 400.40,540.48 399.81,540.08 399.28,539.62 398.82,539.09 398.42,538.50 398.11,537.87 397.88,537.20 397.75,536.50 397.70,535.80 397.75,535.10 397.88,534.40 398.11,533.73 398.42,533.10ZM414.94,536.84 415.24,537.72 415.65,538.55 416.17,539.32 416.78,540.02 417.48,540.63 418.25,541.15 419.08,541.56 419.96,541.86 420.87,542.04 421.80,542.10 422.73,542.04 423.64,541.86 424.52,541.56 425.35,541.15 426.12,540.63 426.82,540.02 427.43,539.32 427.95,538.55 428.36,537.72 428.66,536.84 428.84,535.93 428.90,535.00 428.84,534.07 428.66,533.16 428.36,532.28 427.95,531.45 427.43,530.68 426.82,529.98 426.12,529.37 425.35,528.85 424.52,528.44 423.64,528.14 422.73,527.96 421.80,527.90 420.87,527.96 419.96,528.14 419.08,528.44 418.25,528.85 417.48,529.37 416.78,529.98 416.17,530.68 415.65,531.45 415.24,532.28 414.94,533.16 414.76,534.07 414.70,535.00 414.76,535.93ZM417.92,533.10 418.32,532.51 418.78,531.98 419.31,531.52 419.90,531.12 420.53,530.81 421.20,530.58 421.90,530.45 422.60,530.40 423.30,530.45 424.00,530.58 424.67,530.81 425.30,531.12 425.89,531.52 426.42,531.98 426.88,532.51 427.28,533.10 427.59,533.73 427.82,534.40 427.95,535.10 428.00,535.80 427.95,536.50 427.82,537.20 427.59,537.87 427.28,538.50 426.88,539.09 426.42,539.62 425.89,540.08 425.30,540.48 424.67,540.79 424.00,541.02 423.30,541.15 422.60,541.20 421.90,541.15 421.20,541.02 420.53,540.79 419.90,540.48 419.31,540.08 418.78,539.62 418.32,539.09 417.92,538.50 417.61,537.87 417.38,537.20 417.25,536.50 417.20,535.80 417.25,535.10 417.38,534.40 417.61,533.73ZM434.26,535.93 434.44,536.84 434.74,537.72 435.15,538.55 435.67,539.32 436.28,540.02 436.98,540.63 437.75,541.15 438.58,541.56 439.46,541.86 440.37,542.04 441.30,542.10 442.23,542.04 443.14,541.86 444.02,541.56 444.85,541.15 445.62,540.63 446.32,540.02 446.93,539.32 447.45,538.55 447.86,537.72 448.16,536.84 448.34,535.93 448.40,535.00 448.34,534.07 448.16,533.16 447.86,532.28 447.45,531.45 446.93,530.68 446.32,529.98 445.62,529.37 444.85,528.85 444.02,528.44 443.14,528.14 442.23,527.96 441.30,527.90 440.37,527.96 439.46,528.14 438.58,528.44 437.75,528.85 436.98,529.37 436.28,529.98 435.67,530.68 435.15,531.45 434.74,532.28 434.44,533.16 434.26,534.07 434.20,535.00ZM437.11,533.73 437.42,533.10 437.82,532.51 438.28,531.98 438.81,531.52 439.40,531.12 440.03,530.81 440.70,530.58 441.40,530.45 442.10,530.40 442.80,530.45 443.50,530.58 444.17,530.81 444.80,531.12 445.39,531.52 445.92,531.98 446.38,532.51 446.78,533.10 447.09,533.73 447.32,534.40 447.45,535.10 447.50,535.80 447.45,536.50 447.32,537.20 447.09,537.87 446.78,538.50 446.38,539.09 445.92,539.62 445.39,540.08 444.80,540.48 444.17,540.79 443.50,541.02 442.80,541.15 442.10,541.20 441.40,541.15 440.70,541.02 440.03,540.79 439.40,540.48 438.81,540.08 438.28,539.62 437.82,539.09 437.42,538.50 437.11,537.87 436.88,537.20 436.75,536.50 436.70,535.80 436.75,535.10 436.88,534.40ZM390.40,586.10 376.60,586.10 376.60,599.90 390.40,599.90ZM379.28,592.45 379.50,591.81 379.80,591.20 380.17,590.63 380.62,590.12 381.13,589.67 381.70,589.30 382.31,589.00 382.95,588.78 383.62,588.64 384.30,588.60 384.98,588.64 385.65,588.78 386.29,589.00 386.90,589.30 387.47,589.67 387.98,590.12 388.43,590.63 388.80,591.20 389.10,591.81 389.32,592.45 389.46,593.12 389.50,593.80 389.46,594.48 389.32,595.15 389.10,595.79 388.80,596.40 388.43,596.97 387.98,597.48 387.47,597.93 386.90,598.30 386.29,598.60 385.65,598.82 384.98,598.96 384.30,599.00 383.62,598.96 382.95,598.82 382.31,598.60 381.70,598.30 381.13,597.93 380.62,597.48 380.17,596.97 379.80,596.40 379.50,595.79 379.28,595.15 379.14,594.48 379.10,593.80 379.14,593.12ZM395.26,592.07 395.20,593.00 395.26,593.93 395.44,594.84 395.74,595.72 396.15,596.55 396.67,597.32 397.28,598.02 397.98,598.63 398.75,599.15 399.58,599.56 400.46,599.86 401.37,600.04 402.30,600.10 403.23,600.04 404.14,599.86 405.02,599.56 405.85,599.15 406.62,598.63 407.32,598.02 407.93,597.32 408.45,596.55 408.86,595.72 409.16,594.84 409.34,593.93 409.40,593.00 409.34,592.07 409.16,591.16 408.86,590.28 408.45,589.45 407.93,588.68 407.32,587.98 406.62,587.37 405.85,586.85 405.02,586.44 404.14,586.14 403.23,585.96 402.30,585.90 401.37,585.96 400.46,586.14 399.58,586.44 398.75,586.85 397.98,587.37 397.28,587.98 396.67,588.68 396.15,589.45 395.74,590.28 395.44,591.16ZM397.75,593.10 397.88,592.40 398.11,591.73 398.42,591.10 398.82,590.51 399.28,589.98 399.81,589.52 400.40,589.12 401.03,588.81 401.70,588.58 402.40,588.45 403.10,588.40 403.80,588.45 404.50,588.58 405.17,588.81 405.80,589.12 406.39,589.52 406.92,589.98 407.38,590.51 407.78,591.10 408.09,591.73 408.32,592.40 408.45,593.10 408.50,593.80 408.45,594.50 408.32,595.20 408.09,595.87 407.78,596.50 407.38,597.09 406.92,597.62 406.39,598.08 405.80,598.48 405.17,598.79 404.50,599.02 403.80,599.15 403.10,599.20 402.40,599.15 401.70,599.02 401.03,598.79 400.40,598.48 399.81,598.08 399.28,597.62 398.82,597.09 398.42,596.50 398.11,595.87 397.88,595.20 397.75,594.50 397.70,593.80ZM414.94,591.16 414.76,592.07 414.70,593.00 414.76,593.93 414.94,594.84 415.24,595.72 415.65,596.55 416.17,597.32 416.78,598.02 417.48,598.63 418.25,599.15 419.08,599.56 419.96,599.86 420.87,600.04 421.80,600.10 422.73,600.04 423.64,599.86 424.52,599.56 425.35,599.15 426.12,598.63 426.82,598.02 427.43,597.32 427.95,596.55 428.36,595.72 428.66,594.84 428.84,593.93 428.90,593.00 428.84,592.07 428.66,591.16 428.36,590.28 427.95,589.45 427.43,588.68 426.82,587.98 426.12,587.37 425.35,586.85 424.52,586.44 423.64,586.14 422.73,585.96 421.80,585.90 420.87,585.96 419.96,586.14 419.08,586.44 418.25,586.85 417.48,587.37 416.78,587.98 416.17,588.68 415.65,589.45 415.24,590.28ZM417.20,593.80 417.25,593.10 417.38,592.40 417.61,591.73 417.92,591.10 418.32,590.51 418.78,589.98 419.31,589.52 419.90,589.12 420.53,588.81 421.20,588.58 421.90,588.45 422.60,588.40 423.30,588.45 424.00,588.58 424.67,588.81 425.30,589.12 425.89,589.52 426.42,589.98 426.88,590.51 427.28,591.10 427.59,591.73 427.82,592.40 427.95,593.10 428.00,593.80 427.95,594.50 427.82,595.20 427.59,595.87 427.28,596.50 426.88,597.09 426.42,597.62 425.89,598.08 425.30,598.48 424.67,598.79 424.00,599.02 423.30,599.15 422.60,599.20 421.90,599.15 421.20,599.02 420.53,598.79 419.90,598.48 419.31,598.08 418.78,597.62 418.32,597.09 417.92,596.50 417.61,595.87 417.38,595.20 417.25,594.50ZM434.74,590.28 434.44,591.16 434.26,592.07 434.20,593.00 434.26,593.93 434.44,594.84 434.74,595.72 435.15,596.55 435.67,597.32 436.28,598.02 436.98,598.63 437.75,599.15 438.58,599.56 439.46,599.86 440.37,600.04 441.30,600.10 442.23,600.04 443.14,599.86 444.02,599.56 444.85,599.15 445.62,598.63 446.32,598.02 446.93,597.32 447.45,596.55 447.86,595.72 448.16,594.84 448.34,593.93 448.40,593.00 448.34,592.07 448.16,591.16 447.86,590.28 447.45,589.45 446.93,588.68 446.32,587.98 445.62,587.37 444.85,586.85 444.02,586.44 443.14,586.14 442.23,585.96 441.30,585.90 440.37,585.96 439.46,586.14 438.58,586.44 437.75,586.85 436.98,587.37 436.28,587.98 435.67,588.68 435.15,589.45ZM436.75,594.50 436.70,593.80 436.75,593.10 436.88,592.40 437.11,591.73 437.42,591.10 437.82,590.51 438.28,589.98 438.81,589.52 439.40,589.12 440.03,588.81 440.70,588.58 441.40,588.45 442.10,588.40 442.80,588.45 443.50,588.58 444.17,588.81 444.80,589.12 445.39,589.52 445.92,589.98 446.38,590.51 446.78,591.10 447.09,591.73 447.32,592.40 447.45,593.10 447.50,593.80 447.45,594.50 447.32,595.20 447.09,595.87 446.78,596.50 446.38,597.09 445.92,597.62 445.39,598.08 444.80,598.48 444.17,598.79 443.50,599.02 442.80,599.15 442.10,599.20 441.40,599.15 440.70,599.02 440.03,598.79 439.40,598.48 438.81,598.08 438.28,597.62 437.82,597.09 437.42,596.50 437.11,595.87 436.88,595.20ZM378.43,622.95 378.16,623.50 377.96,624.08 377.84,624.69 377.80,625.30 377.84,625.91 377.96,626.52 378.16,627.10 378.43,627.65 378.77,628.16 379.18,628.62 379.64,629.03 380.15,629.37 380.70,629.64 381.28,629.84 381.89,629.96 382.50,630.00 383.11,629.96 383.72,629.84 384.30,629.64 384.85,629.37 385.36,629.03 385.82,628.62 386.23,628.16 386.57,627.65 386.84,627.10 387.04,626.52 387.16,625.91 387.20,625.30 387.16,624.69 387.04,624.08 386.84,623.50 386.57,622.95 386.23,622.44 385.82,621.98 385.36,621.57 384.85,621.23 384.30,620.96 383.72,620.76 383.11,620.64 382.50,620.60 381.89,620.64 381.28,620.76 380.70,620.96 380.15,621.23 379.64,621.57 379.18,621.98 378.77,622.44ZM381.08,626.70 381.02,626.40 381.00,626.10 381.02,625.80 381.08,625.50 381.18,625.22 381.31,624.95 381.48,624.70 381.67,624.47 381.90,624.28 382.15,624.11 382.42,623.98 382.70,623.88 383.00,623.82 383.30,623.80 383.60,623.82 383.90,623.88 384.18,623.98 384.45,624.11 384.70,624.28 384.93,624.47 385.12,624.70 385.29,624.95 385.42,625.22 385.52,625.50 385.58,625.80 385.60,626.10 385.58,626.40 385.52,626.70 385.42,626.98 385.29,627.25 385.12,627.50 384.93,627.73 384.70,627.92 384.45,628.09 384.18,628.22 383.90,628.32 383.60,628.38 383.30,628.40 383.00,628.38 382.70,628.32 382.42,628.22 382.15,628.09 381.90,627.92 381.67,627.73 381.48,627.50 381.31,627.25 381.18,626.98ZM407.80,752.50 408.03,752.60 408.26,752.69 408.50,752.75 408.75,752.79 409.00,752.80 434.40,752.80 434.40,747.80 410.05,747.80 387.11,724.25 387.16,724.01 387.20,723.40 387.16,722.79 387.04,722.18 386.84,721.60 386.57,721.05 386.23,720.54 385.82,720.08 385.36,719.67 384.85,719.33 384.30,719.06 383.72,718.86 383.11,718.74 382.50,718.70 381.89,718.74 381.28,718.86 380.70,719.06 380.15,719.33 379.64,719.67 379.18,720.08 378.77,720.54 378.43,721.05 378.16,721.60 377.96,722.18 377.84,722.79 377.80,723.40 377.84,724.01 377.96,724.62 378.16,725.20 378.43,725.75 378.77,726.26 379.18,726.72 379.64,727.13 380.15,727.47 380.70,727.74 381.28,727.94 381.89,728.06 382.50,728.10 383.11,728.06 383.72,727.94 383.73,727.94 407.21,752.04 407.39,752.21 407.59,752.36ZM381.18,725.08 381.08,724.80 381.02,724.50 381.00,724.20 381.02,723.90 381.08,723.60 381.18,723.32 381.31,723.05 381.48,722.80 381.67,722.57 381.90,722.38 382.15,722.21 382.42,722.08 382.70,721.98 383.00,721.92 383.30,721.90 383.60,721.92 383.90,721.98 384.18,722.08 384.45,722.21 384.70,722.38 384.93,722.57 385.12,722.80 385.29,723.05 385.42,723.32 385.52,723.60 385.58,723.90 385.60,724.20 385.58,724.50 385.52,724.80 385.42,725.08 385.29,725.35 385.12,725.60 384.93,725.83 384.70,726.02 384.45,726.19 384.18,726.32 383.90,726.42 383.60,726.48 383.30,726.50 383.00,726.48 382.70,726.42 382.42,726.32 382.15,726.19 381.90,726.02 381.67,725.83 381.48,725.60 381.31,725.35ZM424.88,621.98 424.47,622.44 424.13,622.95 423.86,623.50 423.66,624.08 423.54,624.69 423.50,625.30 423.54,625.91 423.66,626.52 423.86,627.10 424.13,627.65 424.47,628.16 424.88,628.62 425.34,629.03 425.85,629.37 426.40,629.64 426.98,629.84 427.59,629.96 428.20,630.00 428.81,629.96 429.42,629.84 430.00,629.64 430.55,629.37 431.06,629.03 431.52,628.62 431.93,628.16 432.27,627.65 432.54,627.10 432.74,626.52 432.86,625.91 432.90,625.30 432.86,624.69 432.74,624.08 432.54,623.50 432.27,622.95 431.93,622.44 431.52,621.98 431.06,621.57 430.55,621.23 430.00,620.96 429.42,620.76 428.81,620.64 428.20,620.60 427.59,620.64 426.98,620.76 426.40,620.96 425.85,621.23 425.34,621.57ZM427.01,627.25 426.88,626.98 426.78,626.70 426.72,626.40 426.70,626.10 426.72,625.80 426.78,625.50 426.88,625.22 427.01,624.95 427.18,624.70 427.37,624.47 427.60,624.28 427.85,624.11 428.12,623.98 428.40,623.88 428.70,623.82 429.00,623.80 429.30,623.82 429.60,623.88 429.88,623.98 430.15,624.11 430.40,624.28 430.63,624.47 430.82,624.70 430.99,624.95 431.12,625.22 431.22,625.50 431.28,625.80 431.30,626.10 431.28,626.40 431.22,626.70 431.12,626.98 430.99,627.25 430.82,627.50 430.63,627.73 430.40,627.92 430.15,628.09 429.88,628.22 429.60,628.32 429.30,628.38 429.00,628.40 428.70,628.38 428.40,628.32 428.12,628.22 427.85,628.09 427.60,627.92 427.37,627.73 427.18,627.50ZM447.70,759.80 452.70,759.80 452.70,745.00 452.69,744.75 452.65,744.51 452.59,744.27 452.51,744.04 452.40,743.82 452.27,743.60 452.13,743.41 451.96,743.22 432.81,724.25 432.86,724.01 432.90,723.40 432.86,722.79 432.74,722.18 432.54,721.60 432.27,721.05 431.93,720.54 431.52,720.08 431.06,719.67 430.55,719.33 430.00,719.06 429.42,718.86 428.81,718.74 428.20,718.70 427.59,718.74 426.98,718.86 426.40,719.06 425.85,719.33 425.34,719.67 424.88,720.08 424.47,720.54 424.13,721.05 423.86,721.60 423.66,722.18 423.54,722.79 423.50,723.40 423.54,724.01 423.66,724.62 423.86,725.20 424.13,725.75 424.47,726.26 424.88,726.72 425.34,727.13 425.85,727.47 426.40,727.74 426.98,727.94 427.59,728.06 428.20,728.10 428.81,728.06 429.42,727.94 429.43,727.94 447.70,746.04ZM427.18,725.60 427.01,725.35 426.88,725.08 426.78,724.80 426.72,724.50 426.70,724.20 426.72,723.90 426.78,723.60 426.88,723.32 427.01,723.05 427.18,722.80 427.37,722.57 427.60,722.38 427.85,722.21 428.12,722.08 428.40,721.98 428.70,721.92 429.00,721.90 429.30,721.92 429.60,721.98 429.88,722.08 430.15,722.21 430.40,722.38 430.63,722.57 430.82,722.80 430.99,723.05 431.12,723.32 431.22,723.60 431.28,723.90 431.30,724.20 431.28,724.50 431.22,724.80 431.12,725.08 430.99,725.35 430.82,725.60 430.63,725.83 430.40,726.02 430.15,726.19 429.88,726.32 429.60,726.42 429.30,726.48 429.00,726.50 428.70,726.48 428.40,726.42 428.12,726.32 427.85,726.19 427.60,726.02 427.37,725.83ZM471.55,621.23 471.04,621.57 470.58,621.98 470.17,622.44 469.83,622.95 469.56,623.50 469.36,624.08 469.24,624.69 469.20,625.30 469.24,625.91 469.36,626.52 469.56,627.10 469.83,627.65 470.17,628.16 470.58,628.62 471.04,629.03 471.55,629.37 472.10,629.64 472.68,629.84 473.29,629.96 473.90,630.00 474.51,629.96 475.12,629.84 475.70,629.64 476.25,629.37 476.76,629.03 477.22,628.62 477.63,628.16 477.97,627.65 478.24,627.10 478.44,626.52 478.56,625.91 478.60,625.30 478.56,624.69 478.44,624.08 478.24,623.50 477.97,622.95 477.63,622.44 477.22,621.98 476.76,621.57 476.25,621.23 475.70,620.96 475.12,620.76 474.51,620.64 473.90,620.60 473.29,620.64 472.68,620.76 472.10,620.96ZM473.07,627.73 472.88,627.50 472.71,627.25 472.58,626.98 472.48,626.70 472.42,626.40 472.40,626.10 472.42,625.80 472.48,625.50 472.58,625.22 472.71,624.95 472.88,624.70 473.07,624.47 473.30,624.28 473.55,624.11 473.82,623.98 474.10,623.88 474.40,623.82 474.70,623.80 475.00,623.82 475.30,623.88 475.58,623.98 475.85,624.11 476.10,624.28 476.33,624.47 476.52,624.70 476.69,624.95 476.82,625.22 476.92,625.50 476.98,625.80 477.00,626.10 476.98,626.40 476.92,626.70 476.82,626.98 476.69,627.25 476.52,627.50 476.33,627.73 476.10,627.92 475.85,628.09 475.58,628.22 475.30,628.32 475.00,628.38 474.70,628.40 474.40,628.38 474.10,628.32 473.82,628.22 473.55,628.09 473.30,627.92ZM472.10,719.06 471.55,719.33 471.04,719.67 470.58,720.08 470.17,720.54 469.83,721.05 469.56,721.60 469.36,722.18 469.24,722.79 469.20,723.40 469.24,724.01 469.36,724.62 469.56,725.20 469.83,725.75 470.17,726.26 470.58,726.72 471.04,727.13 471.55,727.47 472.10,727.74 472.68,727.94 473.29,728.06 473.90,728.10 474.51,728.06 475.12,727.94 475.70,727.74 476.25,727.47 476.76,727.13 477.22,726.72 477.63,726.26 477.97,725.75 478.24,725.20 478.44,724.62 478.56,724.01 478.60,723.40 478.56,722.79 478.44,722.18 478.24,721.60 477.97,721.05 477.63,720.54 477.22,720.08 476.76,719.67 476.25,719.33 475.70,719.06 475.12,718.86 474.51,718.74 473.90,718.70 473.29,718.74 472.68,718.86ZM473.30,726.02 473.07,725.83 472.88,725.60 472.71,725.35 472.58,725.08 472.48,724.80 472.42,724.50 472.40,724.20 472.42,723.90 472.48,723.60 472.58,723.32 472.71,723.05 472.88,722.80 473.07,722.57 473.30,722.38 473.55,722.21 473.82,722.08 474.10,721.98 474.40,721.92 474.70,721.90 475.00,721.92 475.30,721.98 475.58,722.08 475.85,722.21 476.10,722.38 476.33,722.57 476.52,722.80 476.69,723.05 476.82,723.32 476.92,723.60 476.98,723.90 477.00,724.20 476.98,724.50 476.92,724.80 476.82,725.08 476.69,725.35 476.52,725.60 476.33,725.83 476.10,726.02 475.85,726.19 475.58,726.32 475.30,726.42 475.00,726.48 474.70,726.50 474.40,726.48 474.10,726.42 473.82,726.32 473.55,726.19ZM524.07,627.65 524.34,627.10 524.54,626.52 524.66,625.91 524.70,625.30 524.66,624.69 524.54,624.08 524.34,623.50 524.07,622.95 523.73,622.44 523.32,621.98 522.86,621.57 522.35,621.23 521.80,620.96 521.22,620.76 520.61,620.64 520.00,620.60 519.39,620.64 518.78,620.76 518.20,620.96 517.65,621.23 517.14,621.57 516.68,621.98 516.27,622.44 515.93,622.95 515.66,623.50 515.46,624.08 515.34,624.69 515.30,625.30 515.34,625.91 515.46,626.52 515.66,627.10 515.93,627.65 516.27,628.16 516.68,628.62 517.14,629.03 517.65,629.37 518.20,629.64 518.78,629.84 519.39,629.96 519.87,629.99 562.12,720.48 562.07,720.54 561.73,721.05 561.46,721.60 561.26,722.18 561.14,722.79 561.10,723.40 561.14,724.01 561.26,724.62 561.46,725.20 561.73,725.75 562.07,726.26 562.48,726.72 562.94,727.13 563.45,727.47 564.00,727.74 564.58,727.94 565.19,728.06 565.80,728.10 566.41,728.06 567.02,727.94 567.60,727.74 568.15,727.47 568.66,727.13 569.12,726.72 569.53,726.26 569.87,725.75 570.14,725.20 570.34,724.62 570.46,724.01 570.50,723.40 570.46,722.79 570.34,722.18 570.14,721.60 569.87,721.05 569.53,720.54 569.12,720.08 568.66,719.67 568.15,719.33 567.60,719.06 567.02,718.86 566.41,718.74 565.93,718.71 523.68,628.22 523.73,628.16ZM519.65,628.09 519.40,627.92 519.17,627.73 518.98,627.50 518.81,627.25 518.68,626.98 518.58,626.70 518.52,626.40 518.50,626.10 518.52,625.80 518.58,625.50 518.68,625.22 518.81,624.95 518.98,624.70 519.17,624.47 519.40,624.28 519.65,624.11 519.92,623.98 520.20,623.88 520.50,623.82 520.80,623.80 521.10,623.82 521.40,623.88 521.68,623.98 521.95,624.11 522.20,624.28 522.43,624.47 522.62,624.70 522.79,624.95 522.92,625.22 523.02,625.50 523.08,625.80 523.10,626.10 523.08,626.40 523.02,626.70 522.92,626.98 522.79,627.25 522.62,627.50 522.43,627.73 522.20,627.92 521.95,628.09 521.68,628.22 521.40,628.32 521.10,628.38 520.80,628.40 520.50,628.38 520.20,628.32 519.92,628.22ZM566.30,726.48 566.00,726.42 565.72,726.32 565.45,726.19 565.20,726.02 564.97,725.83 564.78,725.60 564.61,725.35 564.48,725.08 564.38,724.80 564.32,724.50 564.30,724.20 564.32,723.90 564.38,723.60 564.48,723.32 564.61,723.05 564.78,722.80 564.97,722.57 565.20,722.38 565.45,722.21 565.72,722.08 566.00,721.98 566.30,721.92 566.60,721.90 566.90,721.92 567.20,721.98 567.48,722.08 567.75,722.21 568.00,722.38 568.23,722.57 568.42,722.80 568.59,723.05 568.72,723.32 568.82,723.60 568.88,723.90 568.90,724.20 568.88,724.50 568.82,724.80 568.72,725.08 568.59,725.35 568.42,725.60 568.23,725.83 568.00,726.02 567.75,726.19 567.48,726.32 567.20,726.42 566.90,726.48 566.60,726.50ZM519.39,718.74 518.78,718.86 518.20,719.06 517.65,719.33 517.14,719.67 516.68,720.08 516.27,720.54 515.93,721.05 515.66,721.60 515.46,722.18 515.34,722.79 515.30,723.40 515.34,724.01 515.46,724.62 515.66,725.20 515.93,725.75 516.27,726.26 516.68,726.72 517.14,727.13 517.65,727.47 518.20,727.74 518.78,727.94 519.39,728.06 520.00,728.10 520.61,728.06 521.22,727.94 521.80,727.74 522.35,727.47 522.86,727.13 523.32,726.72 523.73,726.26 524.07,725.75 524.34,725.20 524.54,724.62 524.66,724.01 524.70,723.40 524.66,722.79 524.54,722.18 524.34,721.60 524.07,721.05 523.73,720.54 523.32,720.08 522.86,719.67 522.35,719.33 521.80,719.06 521.22,718.86 520.61,718.74 520.00,718.70ZM519.92,726.32 519.65,726.19 519.40,726.02 519.17,725.83 518.98,725.60 518.81,725.35 518.68,725.08 518.58,724.80 518.52,724.50 518.50,724.20 518.52,723.90 518.58,723.60 518.68,723.32 518.81,723.05 518.98,722.80 519.17,722.57 519.40,722.38 519.65,722.21 519.92,722.08 520.20,721.98 520.50,721.92 520.80,721.90 521.10,721.92 521.40,721.98 521.68,722.08 521.95,722.21 522.20,722.38 522.43,722.57 522.62,722.80 522.79,723.05 522.92,723.32 523.02,723.60 523.08,723.90 523.10,724.20 523.08,724.50 523.02,724.80 522.92,725.08 522.79,725.35 522.62,725.60 522.43,725.83 522.20,726.02 521.95,726.19 521.68,726.32 521.40,726.42 521.10,726.48 520.80,726.50 520.50,726.48 520.20,726.42ZM565.80,620.60 565.19,620.64 564.58,620.76 564.00,620.96 563.45,621.23 562.94,621.57 562.48,621.98 562.07,622.44 561.73,622.95 561.46,623.50 561.26,624.08 561.14,624.69 561.10,625.30 561.14,625.91 561.26,626.52 561.46,627.10 561.73,627.65 562.07,628.16 562.48,628.62 562.94,629.03 563.45,629.37 564.00,629.64 564.58,629.84 565.19,629.96 565.80,630.00 566.41,629.96 567.02,629.84 567.60,629.64 568.15,629.37 568.66,629.03 569.12,628.62 569.53,628.16 569.87,627.65 570.14,627.10 570.34,626.52 570.46,625.91 570.50,625.30 570.46,624.69 570.34,624.08 570.14,623.50 569.87,622.95 569.53,622.44 569.12,621.98 568.66,621.57 568.15,621.23 567.60,620.96 567.02,620.76 566.41,620.64ZM566.00,628.32 565.72,628.22 565.45,628.09 565.20,627.92 564.97,627.73 564.78,627.50 564.61,627.25 564.48,626.98 564.38,626.70 564.32,626.40 564.30,626.10 564.32,625.80 564.38,625.50 564.48,625.22 564.61,624.95 564.78,624.70 564.97,624.47 565.20,624.28 565.45,624.11 565.72,623.98 566.00,623.88 566.30,623.82 566.60,623.80 566.90,623.82 567.20,623.88 567.48,623.98 567.75,624.11 568.00,624.28 568.23,624.47 568.42,624.70 568.59,624.95 568.72,625.22 568.82,625.50 568.88,625.80 568.90,626.10 568.88,626.40 568.82,626.70 568.72,626.98 568.59,627.25 568.42,627.50 568.23,627.73 568.00,627.92 567.75,628.09 567.48,628.22 567.20,628.32 566.90,628.38 566.60,628.40 566.30,628.38ZM541.50,485.96 540.92,485.76 540.31,485.64 539.70,485.60 539.09,485.64 538.48,485.76 537.90,485.96 537.35,486.23 536.84,486.57 536.38,486.98 535.97,487.44 535.63,487.95 535.36,488.50 535.16,489.08 535.04,489.69 535.00,490.30 535.04,490.91 535.16,491.52 535.36,492.10 535.63,492.65 535.97,493.16 536.38,493.62 536.84,494.03 537.35,494.37 537.90,494.64 538.48,494.84 539.09,494.96 539.70,495.00 540.31,494.96 540.92,494.84 541.50,494.64 542.05,494.37 542.56,494.03 543.02,493.62 543.43,493.16 543.77,492.65 544.04,492.10 544.24,491.52 544.36,490.91 544.40,490.30 544.36,489.69 544.24,489.08 544.04,488.50 543.77,487.95 543.43,487.44 543.02,486.98 542.56,486.57 542.05,486.23ZM540.50,493.30 540.21,493.28 539.93,493.23 539.66,493.13 539.40,493.01 539.16,492.85 538.94,492.66 538.75,492.44 538.59,492.20 538.47,491.94 538.37,491.67 538.32,491.39 538.30,491.10 538.32,490.81 538.37,490.53 538.47,490.26 538.59,490.00 538.75,489.76 538.94,489.54 539.16,489.35 539.40,489.19 539.66,489.07 539.93,488.97 540.21,488.92 540.50,488.90 540.79,488.92 541.07,488.97 541.34,489.07 541.60,489.19 541.84,489.35 542.06,489.54 542.25,489.76 542.41,490.00 542.53,490.26 542.63,490.53 542.68,490.81 542.70,491.10 542.68,491.39 542.63,491.67 542.53,491.94 542.41,492.20 542.25,492.44 542.06,492.66 541.84,492.85 541.60,493.01 541.34,493.13 541.07,493.23 540.79,493.28ZM436.00,490.00 421.00,490.00 417.00,486.00 416.00,490.00 420.00,494.00 436.00,494.00ZM624.20,514.20 624.20,500.40 610.40,500.40 610.40,514.20ZM620.09,512.90 619.45,513.12 618.78,513.26 618.10,513.30 617.42,513.26 616.75,513.12 616.11,512.90 615.50,512.60 614.93,512.23 614.42,511.78 613.97,511.27 613.60,510.70 613.30,510.09 613.08,509.45 612.94,508.78 612.90,508.10 612.94,507.42 613.08,506.75 613.30,506.11 613.60,505.50 613.97,504.93 614.42,504.42 614.93,503.97 615.50,503.60 616.11,503.30 616.75,503.08 617.42,502.94 618.10,502.90 618.78,502.94 619.45,503.08 620.09,503.30 620.70,503.60 621.27,503.97 621.78,504.42 622.23,504.93 622.60,505.50 622.90,506.11 623.12,506.75 623.26,507.42 623.30,508.10 623.26,508.78 623.12,509.45 622.90,510.09 622.60,510.70 622.23,511.27 621.78,511.78 621.27,512.23 620.70,512.60ZM624.35,525.41 624.04,524.51 623.62,523.65 623.09,522.86 622.46,522.14 621.74,521.51 620.95,520.98 620.09,520.56 619.19,520.25 618.25,520.06 617.30,520.00 616.35,520.06 615.41,520.25 614.51,520.56 613.65,520.98 612.86,521.51 612.14,522.14 611.51,522.86 610.98,523.65 610.56,524.51 610.25,525.41 610.06,526.35 610.00,527.30 610.06,528.25 610.25,529.19 610.56,530.09 610.98,530.95 611.51,531.74 612.14,532.46 612.86,533.09 613.65,533.62 614.51,534.04 615.41,534.35 616.35,534.54 617.30,534.60 618.25,534.54 619.19,534.35 620.09,534.04 620.95,533.62 621.74,533.09 622.46,532.46 623.09,531.74 623.62,530.95 624.04,530.09 624.35,529.19 624.54,528.25 624.60,527.30 624.54,526.35ZM620.70,532.60 620.09,532.90 619.45,533.12 618.78,533.26 618.10,533.30 617.42,533.26 616.75,533.12 616.11,532.90 615.50,532.60 614.93,532.23 614.42,531.78 613.97,531.27 613.60,530.70 613.30,530.09 613.08,529.45 612.94,528.78 612.90,528.10 612.94,527.42 613.08,526.75 613.30,526.11 613.60,525.50 613.97,524.93 614.42,524.42 614.93,523.97 615.50,523.60 616.11,523.30 616.75,523.08 617.42,522.94 618.10,522.90 618.78,522.94 619.45,523.08 620.09,523.30 620.70,523.60 621.27,523.97 621.78,524.42 622.23,524.93 622.60,525.50 622.90,526.11 623.12,526.75 623.26,527.42 623.30,528.10 623.26,528.78 623.12,529.45 622.90,530.09 622.60,530.70 622.23,531.27 621.78,531.78 621.27,532.23ZM624.54,568.75 624.35,567.81 624.04,566.91 623.62,566.05 623.09,565.26 622.46,564.54 621.74,563.91 620.95,563.38 620.09,562.96 619.19,562.65 618.25,562.46 617.30,562.40 616.35,562.46 615.41,562.65 614.51,562.96 613.65,563.38 612.86,563.91 612.14,564.54 611.51,565.26 610.98,566.05 610.56,566.91 610.25,567.81 610.06,568.75 610.00,569.70 610.06,570.65 610.25,571.59 610.56,572.49 610.98,573.35 611.51,574.14 612.14,574.86 612.86,575.49 613.65,576.02 614.51,576.44 615.41,576.75 616.35,576.94 617.30,577.00 618.25,576.94 619.19,576.75 620.09,576.44 620.95,576.02 621.74,575.49 622.46,574.86 623.09,574.14 623.62,573.35 624.04,572.49 624.35,571.59 624.54,570.65 624.60,569.70ZM621.27,574.63 620.70,575.00 620.09,575.30 619.45,575.52 618.78,575.66 618.10,575.70 617.42,575.66 616.75,575.52 616.11,575.30 615.50,575.00 614.93,574.63 614.42,574.18 613.97,573.67 613.60,573.10 613.30,572.49 613.08,571.85 612.94,571.18 612.90,570.50 612.94,569.82 613.08,569.15 613.30,568.51 613.60,567.90 613.97,567.33 614.42,566.82 614.93,566.37 615.50,566.00 616.11,565.70 616.75,565.48 617.42,565.34 618.10,565.30 618.78,565.34 619.45,565.48 620.09,565.70 620.70,566.00 621.27,566.37 621.78,566.82 622.23,567.33 622.60,567.90 622.90,568.51 623.12,569.15 623.26,569.82 623.30,570.50 623.26,571.18 623.12,571.85 622.90,572.49 622.60,573.10 622.23,573.67 621.78,574.18ZM624.60,589.30 624.54,588.35 624.35,587.41 624.04,586.51 623.62,585.65 623.09,584.86 622.46,584.14 621.74,583.51 620.95,582.98 620.09,582.56 619.19,582.25 618.25,582.06 617.30,582.00 616.35,582.06 615.41,582.25 614.51,582.56 613.65,582.98 612.86,583.51 612.14,584.14 611.51,584.86 610.98,585.65 610.56,586.51 610.25,587.41 610.06,588.35 610.00,589.30 610.06,590.25 610.25,591.19 610.56,592.09 610.98,592.95 611.51,593.74 612.14,594.46 612.86,595.09 613.65,595.62 614.51,596.04 615.41,596.35 616.35,596.54 617.30,596.60 618.25,596.54 619.19,596.35 620.09,596.04 620.95,595.62 621.74,595.09 622.46,594.46 623.09,593.74 623.62,592.95 624.04,592.09 624.35,591.19 624.54,590.25ZM621.78,593.78 621.27,594.23 620.70,594.60 620.09,594.90 619.45,595.12 618.78,595.26 618.10,595.30 617.42,595.26 616.75,595.12 616.11,594.90 615.50,594.60 614.93,594.23 614.42,593.78 613.97,593.27 613.60,592.70 613.30,592.09 613.08,591.45 612.94,590.78 612.90,590.10 612.94,589.42 613.08,588.75 613.30,588.11 613.60,587.50 613.97,586.93 614.42,586.42 614.93,585.97 615.50,585.60 616.11,585.30 616.75,585.08 617.42,584.94 618.10,584.90 618.78,584.94 619.45,585.08 620.09,585.30 620.70,585.60 621.27,585.97 621.78,586.42 622.23,586.93 622.60,587.50 622.90,588.11 623.12,588.75 623.26,589.42 623.30,590.10 623.26,590.78 623.12,591.45 622.90,592.09 622.60,592.70 622.23,593.27ZM624.20,615.90 624.20,602.10 610.40,602.10 610.40,615.90ZM622.23,612.97 621.78,613.48 621.27,613.93 620.70,614.30 620.09,614.60 619.45,614.82 618.78,614.96 618.10,615.00 617.42,614.96 616.75,614.82 616.11,614.60 615.50,614.30 614.93,613.93 614.42,613.48 613.97,612.97 613.60,612.40 613.30,611.79 613.08,611.15 612.94,610.48 612.90,609.80 612.94,609.12 613.08,608.45 613.30,607.81 613.60,607.20 613.97,606.63 614.42,606.12 614.93,605.67 615.50,605.30 616.11,605.00 616.75,604.78 617.42,604.64 618.10,604.60 618.78,604.64 619.45,604.78 620.09,605.00 620.70,605.30 621.27,605.67 621.78,606.12 622.23,606.63 622.60,607.20 622.90,607.81 623.12,608.45 623.26,609.12 623.30,609.80 623.26,610.48 623.12,611.15 622.90,611.79 622.60,612.40ZM610.40,680.40 624.20,680.40 624.20,666.60 610.40,666.60ZM622.60,676.90 622.23,677.47 621.78,677.98 621.27,678.43 620.70,678.80 620.09,679.10 619.45,679.32 618.78,679.46 618.10,679.50 617.42,679.46 616.75,679.32 616.11,679.10 615.50,678.80 614.93,678.43 614.42,677.98 613.97,677.47 613.60,676.90 613.30,676.29 613.08,675.65 612.94,674.98 612.90,674.30 612.94,673.62 613.08,672.95 613.30,672.31 613.60,671.70 613.97,671.13 614.42,670.62 614.93,670.17 615.50,669.80 616.11,669.50 616.75,669.28 617.42,669.14 618.10,669.10 618.78,669.14 619.45,669.28 620.09,669.50 620.70,669.80 621.27,670.17 621.78,670.62 622.23,671.13 622.60,671.70 622.90,672.31 623.12,672.95 623.26,673.62 623.30,674.30 623.26,674.98 623.12,675.65 622.90,676.29ZM624.04,695.79 624.35,694.89 624.54,693.95 624.60,693.00 624.54,692.05 624.35,691.11 624.04,690.21 623.62,689.35 623.09,688.56 622.46,687.84 621.74,687.21 620.95,686.68 620.09,686.26 619.19,685.95 618.25,685.76 617.30,685.70 616.35,685.76 615.41,685.95 614.51,686.26 613.65,686.68 612.86,687.21 612.14,687.84 611.51,688.56 610.98,689.35 610.56,690.21 610.25,691.11 610.06,692.05 610.00,693.00 610.06,693.95 610.25,694.89 610.56,695.79 610.98,696.65 611.51,697.44 612.14,698.16 612.86,698.79 613.65,699.32 614.51,699.74 615.41,700.05 616.35,700.24 617.30,700.30 618.25,700.24 619.19,700.05 620.09,699.74 620.95,699.32 621.74,698.79 622.46,698.16 623.09,697.44 623.62,696.65ZM622.90,695.79 622.60,696.40 622.23,696.97 621.78,697.48 621.27,697.93 620.70,698.30 620.09,698.60 619.45,698.82 618.78,698.96 618.10,699.00 617.42,698.96 616.75,698.82 616.11,698.60 615.50,698.30 614.93,697.93 614.42,697.48 613.97,696.97 613.60,696.40 613.30,695.79 613.08,695.15 612.94,694.48 612.90,693.80 612.94,693.12 613.08,692.45 613.30,691.81 613.60,691.20 613.97,690.63 614.42,690.12 614.93,689.67 615.50,689.30 616.11,689.00 616.75,688.78 617.42,688.64 618.10,688.60 618.78,688.64 619.45,688.78 620.09,689.00 620.70,689.30 621.27,689.67 621.78,690.12 622.23,690.63 622.60,691.20 622.90,691.81 623.12,692.45 623.26,693.12 623.30,693.80 623.26,694.48 623.12,695.15ZM623.62,716.65 624.04,715.79 624.35,714.89 624.54,713.95 624.60,713.00 624.54,712.05 624.35,711.11 624.04,710.21 623.62,709.35 623.09,708.56 622.46,707.84 621.74,707.21 620.95,706.68 620.09,706.26 619.19,705.95 618.25,705.76 617.30,705.70 616.35,705.76 615.41,705.95 614.51,706.26 613.65,706.68 612.86,707.21 612.14,707.84 611.51,708.56 610.98,709.35 610.56,710.21 610.25,711.11 610.06,712.05 610.00,713.00 610.06,713.95 610.25,714.89 610.56,715.79 610.98,716.65 611.51,717.44 612.14,718.16 612.86,718.79 613.65,719.32 614.51,719.74 615.41,720.05 616.35,720.24 617.30,720.30 618.25,720.24 619.19,720.05 620.09,719.74 620.95,719.32 621.74,718.79 622.46,718.16 623.09,717.44ZM623.12,715.15 622.90,715.79 622.60,716.40 622.23,716.97 621.78,717.48 621.27,717.93 620.70,718.30 620.09,718.60 619.45,718.82 618.78,718.96 618.10,719.00 617.42,718.96 616.75,718.82 616.11,718.60 615.50,718.30 614.93,717.93 614.42,717.48 613.97,716.97 613.60,716.40 613.30,715.79 613.08,715.15 612.94,714.48 612.90,713.80 612.94,713.12 613.08,712.45 613.30,711.81 613.60,711.20 613.97,710.63 614.42,710.12 614.93,709.67 615.50,709.30 616.11,709.00 616.75,708.78 617.42,708.64 618.10,708.60 618.78,708.64 619.45,708.78 620.09,709.00 620.70,709.30 621.27,709.67 621.78,710.12 622.23,710.63 622.60,711.20 622.90,711.81 623.12,712.45 623.26,713.12 623.30,713.80 623.26,714.48ZM438.40,748.00 438.40,761.00 444.00,768.00 454.00,773.00 454.00,764.50 452.00,765.00 443.00,760.00 443.00,746.50 432.00,736.00 429.50,736.00 429.50,742.50ZM437.00,757.80 422.50,757.80 422.50,758.80 424.40,758.80 424.40,769.40 425.40,769.40 425.40,758.80 437.00,758.80ZM441.87,781.24 442.14,781.80 442.49,782.32 442.91,782.79 443.38,783.21 443.90,783.56 444.46,783.83 445.06,784.04 445.67,784.16 446.30,784.20 446.93,784.16 447.54,784.04 448.14,783.83 448.70,783.56 449.22,783.21 449.69,782.79 450.11,782.32 450.46,781.80 450.73,781.24 450.94,780.64 451.06,780.03 451.10,779.40 451.06,778.77 450.94,778.16 450.73,777.56 450.46,777.00 450.11,776.48 449.69,776.01 449.22,775.59 448.70,775.24 448.14,774.97 447.54,774.76 446.93,774.64 446.30,774.60 445.67,774.64 445.35,774.71 433.33,761.80 429.67,765.20 441.68,778.11 441.66,778.16 441.54,778.77 441.50,779.40 441.54,780.03 441.66,780.64ZM449.48,780.51 449.42,780.82 449.32,781.12 449.18,781.40 449.00,781.66 448.80,781.90 448.56,782.10 448.30,782.28 448.02,782.42 447.72,782.52 447.41,782.58 447.10,782.60 446.79,782.58 446.48,782.52 446.18,782.42 445.90,782.28 445.64,782.10 445.40,781.90 445.20,781.66 445.02,781.40 444.88,781.12 444.78,780.82 444.72,780.51 444.70,780.20 444.72,779.89 444.78,779.58 444.88,779.28 445.02,779.00 445.20,778.74 445.40,778.50 445.64,778.30 445.90,778.12 446.18,777.98 446.48,777.88 446.79,777.82 447.10,777.80 447.41,777.82 447.72,777.88 448.02,777.98 448.30,778.12 448.56,778.30 448.80,778.50 449.00,778.74 449.18,779.00 449.32,779.28 449.42,779.58 449.48,779.89 449.50,780.20ZM456.60,794.80 453.50,791.60 453.50,784.50 449.50,788.50 443.10,788.50 443.10,795.60 451.00,795.60 453.50,798.80ZM130.00,795.30 135.09,800.68 136.11,799.72 130.90,794.22 130.90,791.40 129.20,791.40 129.20,793.90 121.50,793.90 121.50,791.40 119.80,791.40 119.80,794.60 120.02,794.60 115.90,798.81 115.85,798.86 115.81,798.92 115.78,798.97 115.75,799.04 115.73,799.10 115.71,799.17 115.70,799.23 115.70,799.30 115.70,803.00 117.10,803.00 117.10,799.59 121.29,795.30ZM119.90,812.80 116.40,812.80 116.40,814.20 119.90,814.20ZM136.00,813.60 136.00,810.50 132.60,812.00ZM460.00,148.82 461.00,148.82 461.00,147.22 460.00,147.22ZM460.00,166.66 460.00,168.26 461.00,168.26 461.00,166.66ZM461.00,186.10 460.00,186.10 460.00,187.70 461.00,187.70ZM460.00,244.42 460.00,246.02 461.00,246.02 461.00,244.42ZM461.00,263.86 460.00,263.86 460.00,265.46 461.00,265.46ZM461.00,391.30 461.00,389.70 460.00,389.70 460.00,391.30ZM460.00,410.70 461.00,410.70 461.00,409.10 460.00,409.10ZM460.00,428.50 460.00,430.10 461.00,430.10 461.00,428.50ZM444.00,136.50 443.00,136.50 443.00,140.80 444.00,140.80ZM610.80,173.50 609.30,173.50 608.30,173.50 608.30,174.50 608.30,176.50 609.30,176.50 609.30,174.50 610.80,174.50ZM623.80,173.50 623.80,174.50 625.30,174.50 625.30,173.50ZM609.30,436.70 609.30,434.70 610.80,434.70 610.80,433.70 609.30,433.70 608.30,433.70 608.30,434.70 608.30,436.70ZM623.80,434.70 625.30,434.70 625.30,433.70 623.80,433.70ZM608.30,517.30 608.30,518.30 608.30,520.30 609.30,520.30 609.30,518.30 610.80,518.30 610.80,517.30 609.30,517.30ZM625.30,518.30 625.30,517.30 623.80,517.30 623.80,518.30ZM610.80,600.00 610.80,599.00 609.30,599.00 608.30,599.00 608.30,600.00 608.30,602.00 609.30,602.00 609.30,600.00ZM625.30,599.00 623.80,599.00 623.80,600.00 625.30,600.00ZM608.30,686.00 609.30,686.00 609.30,684.00 610.80,684.00 610.80,683.00 609.30,683.00 608.30,683.00 608.30,684.00ZM623.80,683.00 623.80,684.00 625.30,684.00 625.30,683.00Z"/></g>
<circle cx="146.50" cy="134.30" r="2.50" fill="#000"/>
<circle cx="179.40" cy="147.30" r="2.50" fill="#000"/>
<circle cx="335.60" cy="157.20" r="2.50" fill="#000"/>
<circle cx="375.30" cy="134.90" r="2.50" fill="#000"/>
<circle cx="421.40" cy="248.00" r="2.50" fill="#000"/>
<circle cx="395.00" cy="260.70" r="2.50" fill="#000"/>
<circle cx="178.30" cy="347.50" r="2.50" fill="#000"/>
<circle cx="148.00" cy="398.30" r="2.50" fill="#000"/>
<circle cx="359.20" cy="430.30" r="2.50" fill="#000"/>
<circle cx="349.30" cy="400.90" r="2.50" fill="#000"/>
<circle cx="125.30" cy="111.20" r="5.50" fill="#000"/>
<circle cx="144.69" cy="111.20" r="5.50" fill="#000"/>
<circle cx="164.08" cy="111.20" r="5.50" fill="#000"/>
<circle cx="183.47" cy="111.20" r="5.50" fill="#000"/>
<circle cx="202.86" cy="111.20" r="5.50" fill="#000"/>
<circle cx="222.25" cy="111.20" r="5.50" fill="#000"/>
<circle cx="241.64" cy="111.20" r="5.50" fill="#000"/>
<circle cx="285.20" cy="111.20" r="5.50" fill="#000"/>
<circle cx="304.60" cy="111.20" r="5.50" fill="#000"/>
<circle cx="324.00" cy="111.20" r="5.50" fill="#000"/>
<circle cx="343.40" cy="111.20" r="5.50" fill="#000"/>
<circle cx="362.80" cy="111.20" r="5.50" fill="#000"/>
<circle cx="382.20" cy="111.20" r="5.50" fill="#000"/>
<circle cx="401.60" cy="111.20" r="5.50" fill="#000"/>
<circle cx="261.03" cy="111.20" r="5.50" fill="#000"/>
<circle cx="421.00" cy="111.20" r="5.50" fill="#000"/>
<circle cx="95.60" cy="164.79" r="5.50" fill="#000"/>
<circle cx="95.60" cy="184.18" r="5.50" fill="#000"/>
<circle cx="95.60" cy="203.57" r="5.50" fill="#000"/>
<circle cx="95.60" cy="222.96" r="5.50" fill="#000"/>
<circle cx="95.60" cy="242.35" r="5.50" fill="#000"/>
<circle cx="95.60" cy="261.74" r="5.50" fill="#000"/>
<circle cx="95.60" cy="281.13" r="5.50" fill="#000"/>
<circle cx="95.60" cy="332.74" r="5.50" fill="#000"/>
<circle cx="95.60" cy="352.18" r="5.50" fill="#000"/>
<circle cx="95.60" cy="371.62" r="5.50" fill="#000"/>
<circle cx="95.60" cy="391.06" r="5.50" fill="#000"/>
<circle cx="95.60" cy="410.50" r="5.50" fill="#000"/>
<circle cx="95.60" cy="429.94" r="5.50" fill="#000"/>
<circle cx="95.60" cy="449.38" r="5.50" fill="#000"/>
<circle cx="95.60" cy="145.40" r="5.50" fill="#000"/>
<circle cx="95.60" cy="313.30" r="5.50" fill="#000"/>
<circle cx="454.60" cy="138.30" r="5.50" fill="#000"/>
<circle cx="454.60" cy="157.74" r="5.50" fill="#000"/>
<circle cx="454.60" cy="177.18" r="5.50" fill="#000"/>
<circle cx="454.60" cy="196.62" r="5.50" fill="#000"/>
<circle cx="454.60" cy="216.06" r="5.50" fill="#000"/>
<circle cx="454.60" cy="235.50" r="5.50" fill="#000"/>
<circle cx="454.60" cy="254.94" r="5.50" fill="#000"/>
<circle cx="454.60" cy="303.20" r="5.50" fill="#000"/>
<circle cx="454.60" cy="322.60" r="5.50" fill="#000"/>
<circle cx="454.60" cy="342.00" r="5.50" fill="#000"/>
<circle cx="454.60" cy="361.40" r="5.50" fill="#000"/>
<circle cx="454.60" cy="380.80" r="5.50" fill="#000"/>
<circle cx="454.60" cy="400.20" r="5.50" fill="#000"/>
<circle cx="454.60" cy="419.60" r="5.50" fill="#000"/>
<circle cx="454.60" cy="274.38" r="5.50" fill="#000"/>
<circle cx="454.60" cy="439.00" r="5.50" fill="#000"/>
<circle cx="148.33" cy="479.60" r="5.50" fill="#000"/>
<circle cx="167.76" cy="479.60" r="5.50" fill="#000"/>
<circle cx="187.19" cy="479.60" r="5.50" fill="#000"/>
<circle cx="206.62" cy="479.60" r="5.50" fill="#000"/>
<circle cx="226.05" cy="479.60" r="5.50" fill="#000"/>
<circle cx="245.48" cy="479.60" r="5.50" fill="#000"/>
<circle cx="264.91" cy="479.60" r="5.50" fill="#000"/>
<circle cx="312.93" cy="479.60" r="5.50" fill="#000"/>
<circle cx="332.36" cy="479.60" r="5.50" fill="#000"/>
<circle cx="351.79" cy="479.60" r="5.50" fill="#000"/>
<circle cx="371.22" cy="479.60" r="5.50" fill="#000"/>
<circle cx="390.65" cy="479.60" r="5.50" fill="#000"/>
<circle cx="410.08" cy="479.60" r="5.50" fill="#000"/>
<circle cx="429.51" cy="479.60" r="5.50" fill="#000"/>
<circle cx="128.90" cy="479.60" r="5.50" fill="#000"/>
<circle cx="293.50" cy="479.60" r="5.50" fill="#000"/>
<circle cx="494.30" cy="131.50" r="2.50" fill="#000"/>
<circle cx="510.60" cy="167.80" r="2.50" fill="#000"/>
<circle cx="525.80" cy="167.80" r="2.50" fill="#000"/>
<circle cx="482.90" cy="196.80" r="2.50" fill="#000"/>
<circle cx="516.40" cy="220.90" r="2.50" fill="#000"/>
<circle cx="531.40" cy="220.90" r="2.50" fill="#000"/>
<circle cx="519.50" cy="259.30" r="2.50" fill="#000"/>
<circle cx="551.70" cy="288.70" r="2.50" fill="#000"/>
<circle cx="551.70" cy="303.90" r="2.50" fill="#000"/>
<circle cx="482.30" cy="294.10" r="2.50" fill="#000"/>
<circle cx="519.50" cy="299.40" r="2.50" fill="#000"/>
<circle cx="535.80" cy="352.20" r="2.50" fill="#000"/>
<circle cx="508.30" cy="421.40" r="2.50" fill="#000"/>
<circle cx="540.00" cy="392.40" r="2.50" fill="#000"/>
<circle cx="492.60" cy="95.20" r="2.50" fill="#000"/>
<circle cx="590.60" cy="95.20" r="2.50" fill="#000"/>
<circle cx="591.80" cy="130.90" r="2.50" fill="#000"/>
<circle cx="586.80" cy="221.90" r="2.50" fill="#000"/>
<circle cx="632.60" cy="221.90" r="2.50" fill="#000"/>
<circle cx="586.80" cy="256.90" r="2.50" fill="#000"/>
<circle cx="586.80" cy="277.70" r="2.50" fill="#000"/>
<circle cx="632.60" cy="256.90" r="2.50" fill="#000"/>
<circle cx="632.60" cy="277.70" r="2.50" fill="#000"/>
<circle cx="586.80" cy="311.90" r="2.50" fill="#000"/>
<circle cx="632.60" cy="311.90" r="2.50" fill="#000"/>
<circle cx="634.30" cy="352.40" r="2.50" fill="#000"/>
<circle cx="507.60" cy="365.70" r="2.50" fill="#000"/>
<circle cx="559.70" cy="173.80" r="5.30" fill="#000"/>
<circle cx="579.70" cy="173.80" r="5.30" fill="#000"/>
<circle cx="508.00" cy="332.60" r="5.30" fill="#000"/>
<circle cx="508.00" cy="368.10" r="5.30" fill="#000"/>
<circle cx="577.00" cy="425.50" r="5.30" fill="#000"/>
<circle cx="577.00" cy="445.50" r="5.30" fill="#000"/>
<circle cx="617.30" cy="183.00" r="5.30" fill="#000"/>
<circle cx="617.30" cy="423.70" r="5.30" fill="#000"/>
<circle cx="617.30" cy="163.30" r="5.50" fill="#000"/>
<circle cx="617.30" cy="443.50" r="5.50" fill="#000"/>
<circle cx="95.40" cy="473.50" r="2.50" fill="#000"/>
<circle cx="70.80" cy="429.60" r="2.60" fill="#000"/>
<circle cx="66.70" cy="490.70" r="5.50" fill="#000"/>
<circle cx="66.70" cy="510.30" r="5.50" fill="#000"/>
<circle cx="66.70" cy="556.80" r="5.50" fill="#000"/>
<circle cx="66.70" cy="575.50" r="5.50" fill="#000"/>
<circle cx="110.60" cy="556.80" r="2.50" fill="#000"/>
<circle cx="110.60" cy="571.90" r="2.50" fill="#000"/>
<circle cx="66.00" cy="628.50" r="5.50" fill="#000"/>
<circle cx="66.00" cy="648.50" r="5.50" fill="#000"/>
<circle cx="110.00" cy="628.50" r="2.50" fill="#000"/>
<circle cx="110.00" cy="643.50" r="2.50" fill="#000"/>
<circle cx="66.30" cy="709.30" r="5.50" fill="#000"/>
<circle cx="66.30" cy="729.30" r="5.50" fill="#000"/>
<circle cx="110.20" cy="709.30" r="2.50" fill="#000"/>
<circle cx="110.20" cy="725.20" r="2.50" fill="#000"/>
<circle cx="63.30" cy="766.00" r="2.50" fill="#000"/>
<circle cx="146.00" cy="636.00" r="5.80" fill="#000"/>
<circle cx="312.70" cy="538.20" r="2.50" fill="#000"/>
<circle cx="321.30" cy="517.90" r="5.50" fill="#000"/>
<circle cx="341.00" cy="518.30" r="5.50" fill="#000"/>
<circle cx="171.20" cy="521.20" r="2.60" fill="#000"/>
<circle cx="148.00" cy="538.70" r="2.60" fill="#000"/>
<circle cx="148.00" cy="587.40" r="2.60" fill="#000"/>
<circle cx="281.80" cy="635.50" r="6.20" fill="#000"/>
<circle cx="312.50" cy="636.00" r="2.50" fill="#000"/>
<circle cx="335.00" cy="674.70" r="6.50" fill="#000"/>
<circle cx="349.00" cy="537.30" r="2.50" fill="#000"/>
<circle cx="349.00" cy="635.30" r="2.50" fill="#000"/>
<circle cx="143.90" cy="718.80" r="2.60" fill="#000"/>
<circle cx="135.90" cy="676.90" r="2.60" fill="#000"/>
<circle cx="156.30" cy="691.80" r="2.60" fill="#000"/>
<circle cx="156.30" cy="741.10" r="2.60" fill="#000"/>
<circle cx="125.40" cy="784.00" r="2.60" fill="#000"/>
<circle cx="161.40" cy="765.60" r="2.60" fill="#000"/>
<circle cx="105.30" cy="805.90" r="5.50" fill="#000"/>
<circle cx="125.50" cy="805.90" r="5.50" fill="#000"/>
<circle cx="144.70" cy="805.90" r="5.50" fill="#000"/>
<circle cx="170.50" cy="805.90" r="5.50" fill="#000"/>
<circle cx="189.50" cy="805.90" r="5.50" fill="#000"/>
<circle cx="226.50" cy="793.60" r="2.50" fill="#000"/>
<circle cx="226.50" cy="808.90" r="2.50" fill="#000"/>
<circle cx="335.00" cy="811.00" r="6.50" fill="#000"/>
<circle cx="394.90" cy="794.10" r="2.50" fill="#000"/>
<circle cx="394.90" cy="809.20" r="2.50" fill="#000"/>
<circle cx="446.30" cy="806.00" r="5.50" fill="#000"/>
<circle cx="465.40" cy="806.00" r="5.50" fill="#000"/>
<circle cx="516.80" cy="794.00" r="2.50" fill="#000"/>
<circle cx="516.80" cy="808.50" r="2.50" fill="#000"/>
<circle cx="573.50" cy="793.20" r="2.50" fill="#000"/>
<circle cx="573.50" cy="808.80" r="2.50" fill="#000"/>
<circle cx="383.50" cy="535.00" r="5.70" fill="#000"/>
<circle cx="402.30" cy="535.00" r="5.70" fill="#000"/>
<circle cx="421.80" cy="535.00" r="5.70" fill="#000"/>
<circle cx="441.30" cy="535.00" r="5.70" fill="#000"/>
<circle cx="383.50" cy="593.00" r="5.50" fill="#000"/>
<circle cx="402.30" cy="593.00" r="5.70" fill="#000"/>
<circle cx="421.80" cy="593.00" r="5.70" fill="#000"/>
<circle cx="441.30" cy="593.00" r="5.70" fill="#000"/>
<circle cx="382.50" cy="625.30" r="2.60" fill="#000"/>
<circle cx="382.50" cy="723.40" r="2.60" fill="#000"/>
<circle cx="428.20" cy="625.30" r="2.60" fill="#000"/>
<circle cx="428.20" cy="723.40" r="2.60" fill="#000"/>
<circle cx="473.90" cy="625.30" r="2.60" fill="#000"/>
<circle cx="473.90" cy="723.40" r="2.60" fill="#000"/>
<circle cx="520.00" cy="625.30" r="2.60" fill="#000"/>
<circle cx="520.00" cy="723.40" r="2.60" fill="#000"/>
<circle cx="565.80" cy="625.30" r="2.60" fill="#000"/>
<circle cx="565.80" cy="723.40" r="2.60" fill="#000"/>
<circle cx="539.70" cy="490.30" r="2.50" fill="#000"/>
<circle cx="474.00" cy="593.00" r="2.70" fill="#000"/>
<circle cx="508.00" cy="461.50" r="2.70" fill="#000"/>
<circle cx="617.30" cy="507.30" r="5.50" fill="#000"/>
<circle cx="617.30" cy="527.30" r="5.50" fill="#000"/>
<circle cx="617.30" cy="569.70" r="5.50" fill="#000"/>
<circle cx="617.30" cy="589.30" r="5.50" fill="#000"/>
<circle cx="617.30" cy="609.00" r="5.50" fill="#000"/>
<circle cx="617.30" cy="673.50" r="5.50" fill="#000"/>
<circle cx="617.30" cy="693.00" r="5.50" fill="#000"/>
<circle cx="617.30" cy="713.00" r="5.50" fill="#000"/>
<circle cx="446.30" cy="779.40" r="2.70" fill="#000"/>
<circle cx="25.40" cy="19.40" r="12.4" fill="#000"/>
<circle cx="666.30" cy="19.40" r="12.4" fill="#000"/>
<circle cx="25.40" cy="893.00" r="12.4" fill="#000"/>
<circle cx="666.30" cy="893.00" r="12.4" fill="#000"/>
</svg></body></html>
